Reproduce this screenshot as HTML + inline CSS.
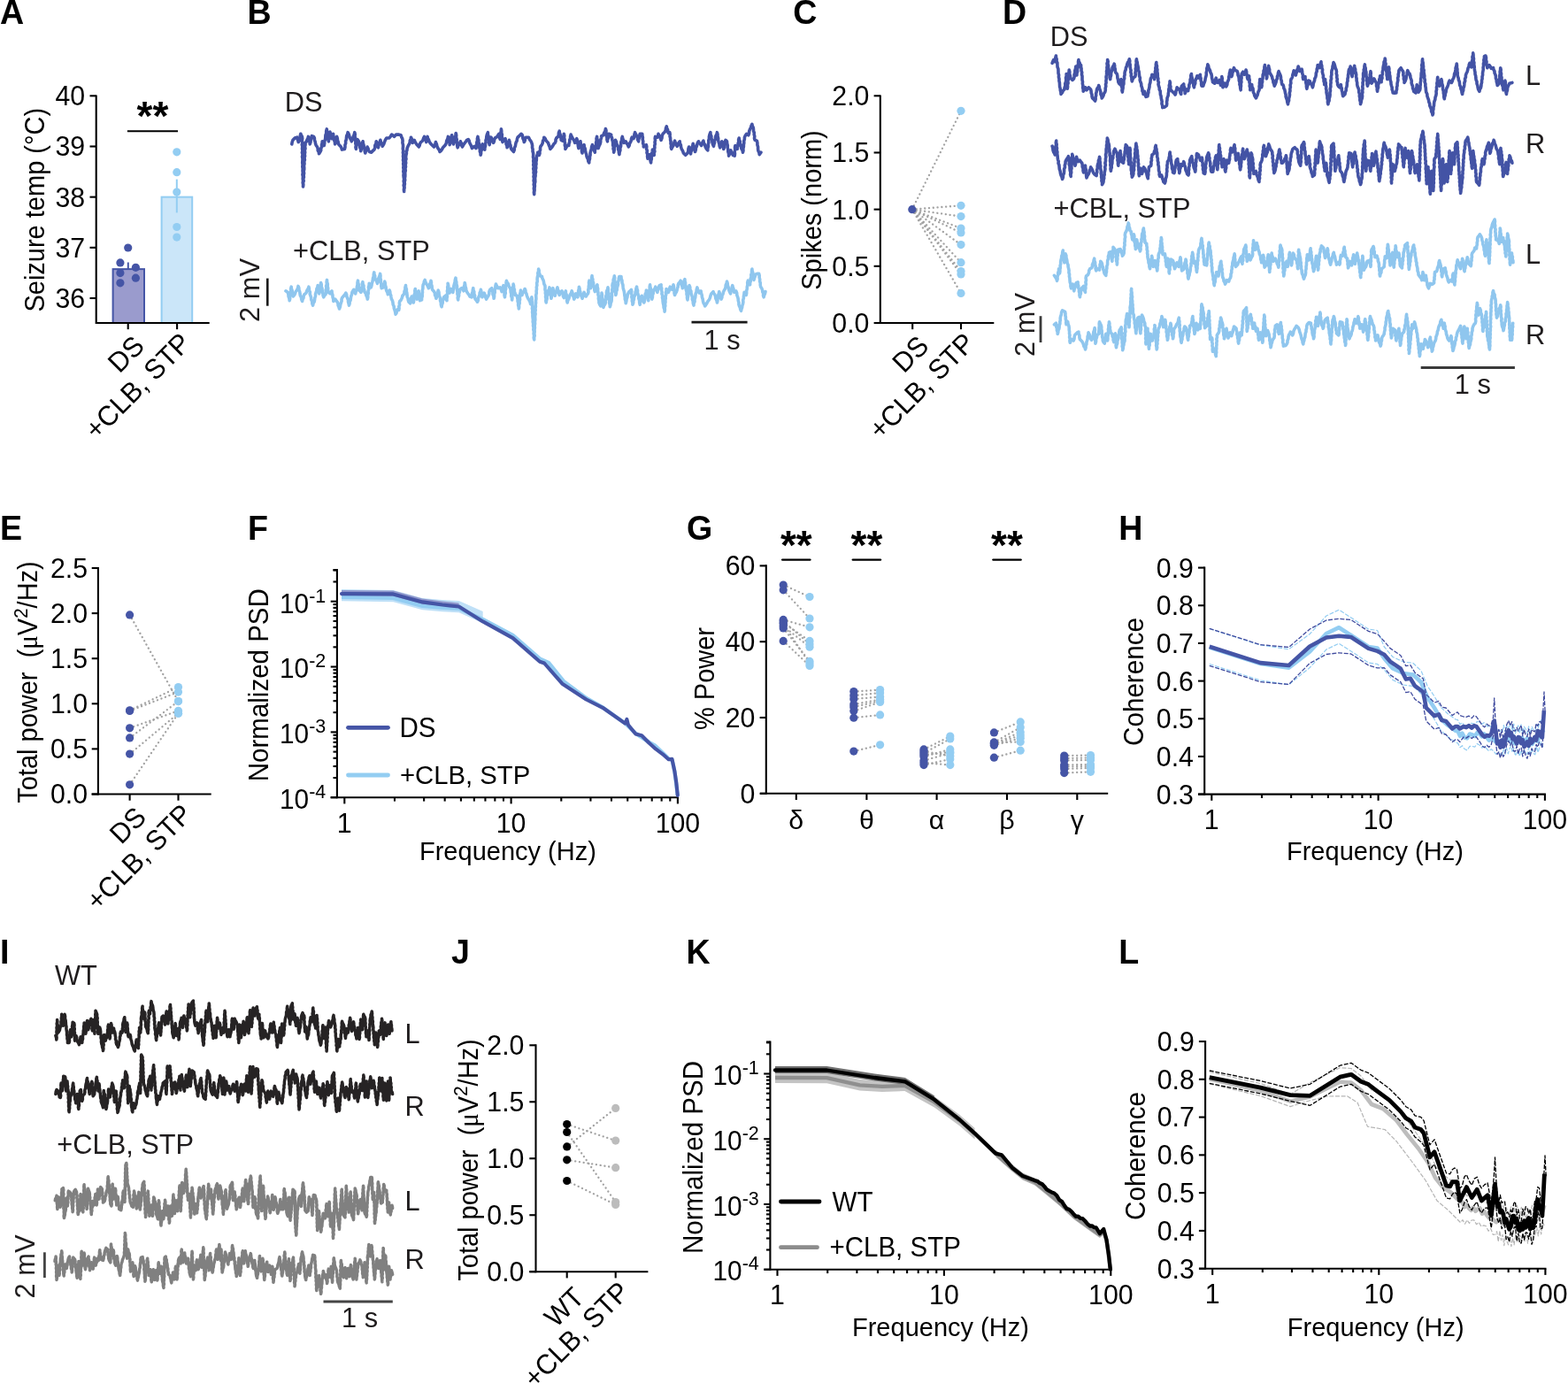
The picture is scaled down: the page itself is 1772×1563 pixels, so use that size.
<!DOCTYPE html>
<html lang="en">
<head>
<meta charset="utf-8">
<title>Figure</title>
<style>
html,body{margin:0;padding:0;background:#fff;}
body{width:1772px;height:1563px;overflow:hidden;}
svg{display:block;}
svg text{font-family:"Liberation Sans", Arial, Helvetica, sans-serif;}
</style>
</head>
<body>
<svg xmlns="http://www.w3.org/2000/svg" width="1772" height="1563" viewBox="0 0 1772 1563">
<rect x="0" y="0" width="1772" height="1563" fill="#ffffff"/>
<g>
<text font-size="37.6" text-anchor="start" font-weight="bold" transform="translate(0 26.8) scale(1 1.04)" fill="#000">A</text>
<rect x="127.6" y="304.13" width="35.4" height="60.87" fill="#9a9bcd" stroke="#4555a6" stroke-width="2"/>
<rect x="182.6" y="222.66" width="34.6" height="142.34" fill="#cbe6f9" stroke="#93cdf2" stroke-width="2"/>
<line x1="144.8" y1="296.5" x2="144.8" y2="305" stroke="#4555a6" stroke-width="2" stroke-linecap="butt"/>
<line x1="199.8" y1="202.6" x2="199.8" y2="240.4" stroke="#93cdf2" stroke-width="2" stroke-linecap="butt"/>
<circle cx="144.7" cy="280" r="4.6" fill="#4555a6"/>
<circle cx="135.9" cy="296.9" r="4.6" fill="#4555a6"/>
<circle cx="153.4" cy="302.3" r="4.6" fill="#4555a6"/>
<circle cx="135.9" cy="308.6" r="4.6" fill="#4555a6"/>
<circle cx="153.4" cy="314.2" r="4.6" fill="#4555a6"/>
<circle cx="135.9" cy="319.8" r="4.6" fill="#4555a6"/>
<circle cx="199.8" cy="171.8" r="4.6" fill="#93cdf2"/>
<circle cx="199.8" cy="194.7" r="4.6" fill="#93cdf2"/>
<circle cx="199.8" cy="217" r="4.6" fill="#93cdf2"/>
<circle cx="199.8" cy="256.5" r="4.6" fill="#93cdf2"/>
<circle cx="199.8" cy="268.1" r="4.6" fill="#93cdf2"/>
<line x1="108.7" y1="107.55" x2="108.7" y2="366.05" stroke="#000" stroke-width="2.1" stroke-linecap="butt"/>
<line x1="101.5" y1="108.32" x2="108.7" y2="108.32" stroke="#000" stroke-width="2.1" stroke-linecap="butt"/>
<text font-size="30.3" text-anchor="end" transform="translate(96.1 119.22) scale(1 1.035)" fill="#000">40</text>
<line x1="101.5" y1="165.49" x2="108.7" y2="165.49" stroke="#000" stroke-width="2.1" stroke-linecap="butt"/>
<text font-size="30.3" text-anchor="end" transform="translate(96.1 176.39) scale(1 1.035)" fill="#000">39</text>
<line x1="101.5" y1="222.66" x2="108.7" y2="222.66" stroke="#000" stroke-width="2.1" stroke-linecap="butt"/>
<text font-size="30.3" text-anchor="end" transform="translate(96.1 233.56) scale(1 1.035)" fill="#000">38</text>
<line x1="101.5" y1="279.83" x2="108.7" y2="279.83" stroke="#000" stroke-width="2.1" stroke-linecap="butt"/>
<text font-size="30.3" text-anchor="end" transform="translate(96.1 290.73) scale(1 1.035)" fill="#000">37</text>
<line x1="101.5" y1="337" x2="108.7" y2="337" stroke="#000" stroke-width="2.1" stroke-linecap="butt"/>
<text font-size="30.3" text-anchor="end" transform="translate(96.1 347.9) scale(1 1.035)" fill="#000">36</text>
<line x1="108.2" y1="365" x2="236.7" y2="365" stroke="#000" stroke-width="2.1" stroke-linecap="butt"/>
<line x1="144.7" y1="365" x2="144.7" y2="372.2" stroke="#000" stroke-width="2.1" stroke-linecap="butt"/>
<line x1="200.1" y1="365" x2="200.1" y2="372.2" stroke="#000" stroke-width="2.1" stroke-linecap="butt"/>
<line x1="143.9" y1="148.3" x2="201" y2="148.3" stroke="#000" stroke-width="2.1" stroke-linecap="butt"/>
<text x="172.4" y="147.2" font-size="46" text-anchor="middle" font-weight="bold" fill="#000">**</text>
<text font-size="29" text-anchor="middle" transform="translate(50.4 237.2) rotate(-90) scale(1 1.09)" fill="#000">Seizure temp (°C)</text>
<text font-size="30.5" text-anchor="end" transform="translate(165 392.8) rotate(-45) scale(1 1.035)" fill="#000">DS</text>
<text font-size="30.5" text-anchor="end" transform="translate(217.5 389.6) rotate(-45) scale(1 1.035)" fill="#000">+CLB, STP</text>
</g>
<g>
<text font-size="37.6" text-anchor="start" font-weight="bold" transform="translate(279.5 26.8) scale(1 1.04)" fill="#000">B</text>
<polyline points="329.8,162.9 330.2,160.5 331,158.3 333.2,156 335.7,155.2 336,157.1 336.8,158.8 337.2,160.6 338.8,158.3 339.3,156 339.2,153.6 339.8,151.3 340.5,152.9 341.4,154.4 341.7,156.7 341.3,158.9 341.8,161.2 341.3,163.5 341.8,165.7 341.5,168 341.9,170.3 341.4,172.5 342.1,174.8 341.5,177.1 342,179.3 341.9,181.6 341.7,183.9 342.1,186.1 341.8,188.4 342.2,190.6 342,192.9 342.3,195.2 341.9,197.4 342.4,199.7 342.2,202 342.5,204.2 342.2,206.5 342.6,208.7 342.5,211 342.8,208.8 342.5,206.6 343.2,204.5 342.7,202.3 343.4,200.2 343.1,198 343.6,195.8 343.2,193.6 343.7,191.5 343.7,189.3 343.5,187.1 344,185 343.7,182.8 344.4,180.7 344,178.6 344.6,176.4 344.3,174.3 344.7,172.1 344.3,170 345,167.9 344.6,165.7 345.1,163.6 345,161.4 346.5,159.8 347,157.9 348,156.3 348.4,154.4 349.1,156.5 349.2,158.7 350,160.7 350.2,162.9 351,160.6 351.1,158.2 352,156 352.3,153.6 354.6,154.4 355.4,156.3 355.4,158.3 356.2,160.2 356.5,162.2 357.2,164.2 358.5,166 359.2,167.9 359.2,170 360.3,171.8 360.5,173.8 361.7,171.9 362.7,169.9 362.7,167.8 363.6,165.9 363.5,163.8 364.1,161.8 364.2,159.8 365.3,162.1 366.2,164.5 366.7,162.2 366.7,159.8 367.5,157.5 367.8,155.2 367.9,152.8 368.7,150.6 368.7,148.2 369.3,145.9 369.5,148.2 370.2,150.5 370.2,152.9 370.8,155.2 370.8,157.5 371.4,159.8 371.4,157.6 372.2,155.5 372,153.3 372.9,151.2 372.9,149 373.5,150.9 373.6,152.9 374.5,154.7 374.8,156.7 375.6,155 375.8,153 376.6,151.3 376.8,153.7 377.6,155.9 377.6,158.3 378.4,160.5 378.6,162.9 379.4,160.8 379.4,158.6 380.5,156.6 380.7,154.4 381.3,156.5 381.5,158.7 382.3,160.7 382.5,162.9 383.6,164.2 384.9,165.3 385.9,167.1 386.4,169.1 389.5,168.4 390,166.2 389.9,164 390.7,161.8 390.6,159.6 391.4,157.4 391.5,155.2 391.8,153.3 392.7,151.6 393.1,149.7 394.3,151.9 394.9,154.4 395.6,156.3 396.7,157.9 397.3,159.8 398.1,158.1 398.4,156.1 399.3,154.4 400.2,152.1 400.8,149.7 401.3,151.8 401,153.9 401.5,155.9 401.3,158 401.9,160.1 401.8,162.2 402.4,164.2 401.9,166.3 402.4,168.4 402.6,166.2 403.1,164.1 403,161.8 403.9,159.7 403.9,157.5 405,159 405.8,160.6 406,162.7 406.8,164.6 406.8,166.7 407.6,168.6 407.7,170.7 408.4,168.6 408.4,166.3 409.4,164.2 409.4,161.9 410.1,159.8 410.4,162 411.1,164.2 411.2,166.4 412.1,168.6 412.2,170.8 412.8,173 413.4,170.6 414.5,168.4 415.1,166 416,167.8 416.5,169.7 417.4,171.5 419.8,172.2 421.2,170.5 422.9,169.1 423.8,166.8 423.8,164.4 424.9,162.2 425.2,159.8 426.2,162 426.5,164.5 427.5,166.8 427.8,164.6 428.8,162.6 429.2,160.4 429.9,158.3 430.4,160.7 431.7,162.9 432.2,165.3 433.6,163.1 434.5,160.6 435.4,158.2 436.8,156 439.9,156 441.4,154.1 442.7,152.1 444.2,153 445.4,154.4 447.7,152.1 450.8,152.1 453.1,152.8 453.7,154.8 454.7,156.7 455.1,159 454.9,161.4 455.5,163.7 455.5,166 455.3,168.1 455.8,170.3 455.4,172.4 455.8,174.5 455.5,176.7 455.9,178.8 455.5,181 456.1,183.1 455.7,185.2 456.1,187.4 455.8,189.5 456.2,191.6 455.8,193.8 456.3,195.9 456,198.1 456.2,200.2 456.6,202.5 456.2,204.9 456.7,207.2 456.2,209.5 456.8,211.8 456.4,214.2 456.7,216.5 456.6,214.3 457.1,212.2 456.9,210 457.4,207.9 457.1,205.7 457.7,203.6 457.4,201.4 457.8,199.3 457.8,197.1 457.7,194.9 458.3,192.8 457.9,190.5 458.5,188.4 458.2,186.2 458.7,184 458.3,181.8 459,179.7 458.6,177.5 458.9,175.3 459.4,173.4 459.3,171.4 460,169.6 460.1,167.6 461.1,165.2 462.4,162.9 463.2,161.1 463.3,159 464.1,157.2 464.5,155.2 465.4,157.2 465.5,159.4 466.3,161.4 467.1,159.7 468.2,158.3 469.3,160.7 470.7,162.9 472.1,164.4 473.3,166 474.2,164.3 474.6,162.3 475.6,160.6 477,159.6 478,158.3 478.6,156.3 479.5,154.4 480.1,156.5 481.1,158.5 481.8,160.6 482.4,158.6 482.6,156.4 483.1,154.4 483.4,156.3 484.5,158 485,159.8 486.4,161.9 488.1,163.7 490.4,166 491,164.2 491.9,162.5 492.4,160.6 493.4,162.9 493.9,165.4 495,167.6 496.3,169.4 497.1,171.5 498.6,170.1 499.7,168.4 500.6,166.7 502,165.3 503.5,163.5 504.4,161.4 504.8,159 505.9,156.8 506.4,154.4 507,156.7 507,159.1 508.1,161.3 508.2,163.7 509,161.6 509,159.3 509.9,157.2 509.9,154.9 510.6,152.8 510.7,154.9 511.6,156.8 511.5,158.9 512.3,160.9 512.6,162.9 513.3,160.9 513.3,158.7 514.1,156.7 514.1,154.6 514.9,152.6 515.2,150.5 515.7,152.8 515.5,155.2 516.2,157.5 516,159.9 516.9,162.1 516.7,164.5 517.2,166.8 518,164.4 519.5,162.2 520.3,159.8 521.3,161.8 521.5,164 522.5,166 523.8,163.6 525.3,161.4 526.6,159.9 527.6,158.3 529.2,157.5 530.2,159.2 530.6,161.2 531.5,162.9 532.7,165.2 533.4,167.6 534.9,166.6 536.2,165.3 538,167.6 538.2,165.4 538.9,163.2 538.7,161 539.5,158.8 539.4,156.6 540,154.4 540.2,156.4 540.9,158.4 540.8,160.5 541.4,162.5 541.6,164.5 541.6,166.7 542.4,168.8 542.3,171 543.1,173.1 543.1,175.3 543.6,173.3 543.6,171.1 544.5,169.2 544.3,167 545,165 545.2,162.9 546.3,164.9 546.8,167.1 547.8,169.1 547.9,167 548.5,164.9 548.5,162.8 549.1,160.7 549,158.6 549.7,156.5 549.8,154.4 550.4,152 551.4,149.7 551.4,152.1 552.2,154.3 552.1,156.7 552.9,159 552.7,161.4 553.2,163.7 553.4,161.5 554.5,159.5 554.5,157.3 555.1,155.2 555.8,157.3 556.9,159.3 557.6,161.4 558.4,159.7 558.7,157.8 559.4,156 561.8,154.4 562.9,152.9 563.8,151.3 564.5,153.3 564.5,155.5 565.3,157.5 565.4,155.2 566,152.9 565.8,150.5 566.3,148.2 566.4,145.9 566.8,148 566.7,150.1 567.4,152.2 567.1,154.3 567.8,156.4 567.6,158.5 568,160.6 569.3,158.5 571.1,156.7 571.2,158.8 572.1,160.7 572,162.8 572.9,164.7 573.1,166.8 573.8,164.7 574.1,162.5 575,160.5 575.3,158.3 576,160.3 576,162.4 577,164.3 577.1,166.4 577.8,168.4 579.2,169.9 580.4,171.5 581.3,169.4 581.3,167.1 582.4,165.1 582.7,162.9 583.2,160.9 584.2,159.1 584.4,157.1 585.1,155.2 587.1,153.4 588.9,151.3 590,152.1 590.7,154.2 590.9,156.4 591.9,158.4 592.3,160.6 593.2,158.9 593.5,156.9 594.3,155.2 597.4,155.2 598.5,157.6 600.1,159.8 601.1,162.1 601.6,164.5 601.5,166.7 602.1,168.8 602,171 602.6,173.1 602.7,175.3 602.5,177.5 603.1,179.7 602.7,181.9 603.1,184.2 602.7,186.4 603.3,188.6 602.7,190.8 603.3,193 603,195.2 603.5,197.4 603,199.7 603.5,201.9 603.1,204.1 603.6,206.3 603.2,208.5 603.7,210.7 603.3,213 603.7,215.2 603.4,217.4 603.7,219.6 603.7,217.3 604.1,215 604,212.6 604.4,210.3 604.2,207.9 604.8,205.6 604.7,203.3 604.6,201 605.1,198.8 605,196.5 605.6,194.3 605.2,192 605.8,189.8 605.5,187.5 606,185.3 605.8,183 606.3,180.8 606.3,178.5 606.7,176.4 607.4,174.3 607.8,172.2 608.7,173.7 609.4,175.3 610,173.3 609.8,171.3 610.6,169.3 610.5,167.3 611,165.3 612.4,163.5 613.3,161.4 613.5,159.3 614.6,157.3 614.8,155.2 616.3,157 617.2,159.1 619.5,161.4 620.2,163.8 621.2,166 621.8,168.4 623.6,166.6 624.9,164.5 625.8,162.8 627.2,161.4 628,159.7 628,157.7 628.8,156 630.7,154.4 631.3,152.4 631.4,150.2 632.2,148.2 632.4,150.3 633.2,152.2 633.3,154.3 634,156.2 634.2,158.3 635.8,159.1 636.5,157.2 636.3,155.2 637.1,153.3 637.3,151.3 637.8,153.4 637.5,155.6 638.1,157.7 638,159.9 638.6,162 638.3,164.1 639,166.2 638.9,168.4 640,166.5 640.9,164.5 642.8,164.5 643,162.4 643.7,160.4 643.7,158.2 644.6,156.3 644.6,154.1 645.1,152.1 646.1,154.5 647.4,156.7 648.8,158.9 649.7,161.4 650.9,159.1 651.8,156.7 652.5,158.8 652.4,161.1 653.2,163.2 653.4,165.4 653.9,167.6 654.2,165.6 655.2,163.8 655.3,161.7 656,159.8 656.2,162 656.8,164.2 656.9,166.4 657.5,168.6 657.4,170.8 658,173 658.3,170.6 659.2,168.4 659.4,166 660.1,163.7 660.3,166.1 661.3,168.3 661.5,170.7 662.2,173 662.8,174.8 663,176.7 663.7,178.5 664.6,180.2 664.8,182.2 665.7,183.9 665.8,181.7 666.5,179.5 666.5,177.3 667.1,175.1 667,172.9 667.6,170.7 668.4,168.4 668.6,166 669.5,163.7 669.9,165.9 671,167.9 671.5,170.1 672.3,172.2 672.3,169.9 673,167.8 672.9,165.5 673.7,163.3 673.6,161.1 674.2,158.9 674,156.6 674.6,154.4 674.7,156.6 675.4,158.8 675.1,161 675.8,163.2 675.6,165.4 676.1,167.6 676.9,165.1 678.1,162.9 678.7,160.6 678.7,158.2 679.5,156 679.7,153.6 681.9,152.8 682.6,150.4 683.9,148.1 684.4,145.6 685,147.6 684.9,149.7 685.5,151.7 685.4,153.7 686,155.7 685.9,157.8 686.5,159.8 686.6,157.6 687.6,155.6 687.5,153.4 688.1,151.3 690.6,152.1 690.9,154.1 691.6,155.9 691.8,157.9 692.4,159.8 692.7,161.9 692.6,164 693.4,166 693,168.1 693.6,170.1 693.7,172.2 694.2,169.9 694.1,167.5 694.7,165.3 694.7,162.9 695.4,160.6 695.5,158.3 696.5,160.3 696.8,162.5 697.9,164.5 698.6,166.5 698.5,168.6 699.3,170.5 699.4,172.6 699.9,174.6 700.1,172.2 700.9,170 700.8,167.5 701.6,165.3 701.7,162.9 701.8,160.7 702.6,158.7 702.7,156.5 703.3,154.4 703.8,156.8 704.8,159 705.2,161.4 707.2,159.8 708.1,161.9 709.5,163.8 710.3,166 711.2,164.3 711.5,162.3 712.6,160.6 713.3,158.9 713.5,157 714.2,155.2 716,156.7 716.8,154.4 716.9,152 717.6,149.7 718.5,151.7 719.6,153.6 720.5,155.6 720.6,157.8 721.6,159.8 721.7,157.6 722.5,155.6 722.7,153.4 723.2,151.3 725.8,151.3 725.9,153.4 726.4,155.5 726.2,157.6 726.8,159.7 726.6,161.8 727.4,163.9 727.3,166 729,165 730.4,163.7 730.8,165.9 730.5,168.2 731.4,170.3 731,172.6 731.8,174.7 731.6,177 732,179.2 732.7,176.8 734,174.6 734.2,177 735.1,179.2 735,181.6 735.6,183.9 735.7,181.8 736.3,179.7 736.2,177.5 736.9,175.5 736.6,173.3 737.3,171.2 737.4,169.1 738.3,171.1 738.5,173.3 739.3,175.3 739.1,173.2 739.9,171.1 739.4,169 739.9,166.9 739.7,164.8 740.3,162.8 740,160.7 740.5,158.6 740.2,156.5 740.5,154.4 742.9,155.2 743.6,153.3 744,151.3 745.1,153.2 746,155.2 747.1,158.3 748,156 748.2,153.6 749.1,151.3 751.4,149 752.3,147 752.5,144.8 753.3,142.8 753.6,144.8 754.6,146.6 754.6,148.6 755.3,150.5 756.8,149.7 757.2,151.8 757,153.9 757.6,155.9 757.6,158 758.1,160.1 758,162.2 758.6,164.2 758.3,166.3 758.8,168.4 759.6,166.5 760.8,164.8 761.5,162.9 761.9,160.9 762.6,159.1 763.2,161.3 764.4,163.2 765.1,165.3 766.4,163.6 766.9,161.5 768.2,159.8 768.4,162 769.4,164.1 769.6,166.3 770.3,168.4 771.6,170.6 772.4,173 774.7,175.3 777,173 777.8,170.7 777.9,168.3 778.6,166 778.9,168 779.9,169.8 779.9,171.9 780.6,173.8 780.9,171.4 781.9,169.2 781.9,166.8 782.8,164.6 783.2,162.2 783.9,164.5 784.1,166.9 785.1,169.1 785.5,171.5 786.3,169.4 786.4,167.1 787.4,165.1 787.9,162.9 788.4,161.2 789.4,159.8 790.2,161.5 791.6,162.8 792.5,164.5 793.5,162.8 793.9,160.8 794.9,159.1 795.4,161.5 796.6,163.7 797.2,166 798.2,168.1 799.8,169.9 799.8,167.7 800.5,165.5 800.3,163.2 800.9,161.1 800.8,158.8 801.4,156.6 801.4,154.4 802,152 802.9,149.7 803,151.9 803.9,154 803.8,156.3 804.8,158.4 804.9,160.6 805.5,163 806.5,165.3 806.8,163.3 807.5,161.3 807.5,159.2 808.4,157.3 808.5,155.2 809,153.3 810,151.6 810.4,149.7 811,151.8 811,154.1 811.7,156.2 811.6,158.5 812.2,160.6 812.9,162.6 813.1,164.8 813.8,166.8 814.2,164.4 815.4,162.2 815.8,159.8 816.4,161.9 816.6,164.2 817.5,166.2 817.8,168.4 818.4,166.4 818.5,164.3 819.3,162.4 819.2,160.3 820,158.3 821.5,159.8 821.7,162.1 822.3,164.4 822.2,166.8 822.8,169.1 822.8,171.5 823.5,173.7 823.6,176.1 824.5,174.1 824.9,171.9 825.9,169.9 826.4,171.8 827.6,173.4 828.2,175.3 830.2,176.1 830.5,173.8 830.2,171.4 830.8,169.2 830.5,166.8 830.9,164.5 831.9,166.6 833.3,168.4 833.3,166.3 834.1,164.3 834.1,162.2 834.8,160.2 834.6,158 835.2,156 835.5,158 836.4,159.9 836.3,162.1 837.2,164 837.5,166 837.9,168.1 839.1,170 839.5,172.2 840,170.1 839.8,167.9 840.4,165.8 840.4,163.7 840.8,161.6 840.7,159.4 841.4,157.3 841.4,155.2 842.4,153.1 843.7,151.3 845.8,152.8 846.6,150.6 846.7,148.1 847.6,145.9 848.6,144.1 849,142.2 849.9,140.4 850.3,142.3 851.2,144 851.5,145.9 851.5,148 852.3,150 852.2,152.1 852.8,154.1 852.5,156.3 853.1,158.3 855.4,159.1 855.9,161.4 855.9,163.8 856.6,166 856.6,168.4 856.9,170.5 857.9,172.5 858.2,174.6 860,172.2" fill="none" stroke="#4353a5" stroke-width="3.6" stroke-linejoin="round" stroke-linecap="round"/>
<polyline points="323,328.8 325.3,330.4 325.9,332.7 326.1,335.1 326.9,337.3 327.2,339.7 327.7,337.5 327.5,335.2 328.4,333.1 328,330.8 328.8,328.7 328.6,326.4 329.2,324.2 329.4,326.4 330.2,328.5 330.3,330.7 331.1,332.8 331.2,335 332.5,333.6 333.4,331.9 334.1,329.8 335.4,328 336.5,325.8 337,323.4 337.8,325.5 337.9,327.7 338.7,329.7 339,331.9 339.4,334.1 340.5,336.1 340.7,338.4 341.6,340.5 342,338.5 343,336.7 343.1,334.6 343.9,332.7 345.3,331.8 346.3,330.4 346.9,328.2 348.2,326.3 348.9,324.2 349.4,326.2 349.4,328.3 350.4,330.1 350.2,332.3 350.9,334.2 351.6,336.3 351.7,338.6 352.7,340.7 352.8,343 353.6,345.1 354,342.9 355.2,341 355.6,338.9 355.8,336.8 356.5,334.7 356.5,332.5 357.1,330.4 357.8,328.5 357.9,326.4 358.9,324.6 359.1,322.6 359.8,324.9 359.7,327.3 360.5,329.5 360.7,331.9 361.1,329.9 361.2,327.7 361.9,325.7 361.8,323.6 362.4,321.6 362.6,319.5 363.3,321.6 363.2,323.8 364,325.8 364.1,328 364.4,330 365,331.9 365.1,333.9 365.7,335.8 366.6,334.1 368,332.7 368.4,330.4 368.1,328 369,325.7 368.6,323.4 369.4,321.1 369.1,318.7 369.5,316.4 369.6,318.8 370.3,321 370.1,323.4 370.7,325.7 370.6,328.1 371.1,330.4 373.1,331.9 373.8,330.2 375,328.8 375.2,331.2 375.9,333.4 376,335.8 376.7,338.1 376.8,340.5 378.9,338.1 379.9,339.8 381.2,341.2 382,343.1 382.1,345.2 383,347 383.5,349 384.4,346.7 384.7,344.3 385.5,342 386.1,340.2 386,338.3 386.6,336.6 388.6,334.2 389.9,332.8 390.8,331.1 391.7,333.1 391.9,335.3 392.8,337.3 393.5,339.2 393.5,341.2 394.1,343.1 394.4,345.1 395.1,343.2 395.1,341.1 396.1,339.3 396.4,337.3 396.7,335 397.6,332.7 397.9,330.4 398.8,328.8 399.8,327.3 400.5,329.7 401.7,331.9 402,330 403,328.4 403.2,326.5 403.4,324.2 404,321.9 404,319.5 404.5,317.2 404.6,319.4 405.3,321.5 405.1,323.7 405.9,325.8 406,328 407.9,330.4 408.6,328.1 408.6,325.7 409.4,323.4 409.2,321 409.9,318.7 410.1,320.9 411,323 410.8,325.3 411.7,327.4 411.9,329.6 413.5,331.9 413.9,334 414.9,336 415.3,338.1 415.8,335.9 415.6,333.6 416.3,331.5 416,329.2 416.8,327 416.4,324.7 417.1,322.5 417.2,320.3 418.3,322.5 419.2,324.9 419.9,322.9 420.2,320.7 420.8,318.7 421.3,316.6 421.5,314.4 422.3,312.3 422.3,310 422.8,307.9 422.9,309.9 423.7,311.7 423.6,313.7 424.3,315.6 425.6,317.9 426.5,320.3 427.1,318.3 427.3,316.1 428,314.1 429,311.8 429.6,309.4 430,311.7 429.8,314.1 430.4,316.4 430.3,318.7 430.9,321 430.8,323.4 431.2,325.7 433.2,324.9 433.6,322.6 434.4,320.3 434.7,318 435.3,320.1 435.4,322.3 436.1,324.3 436.3,326.5 436.8,328.6 437.9,330.5 438.3,332.7 439.4,330.4 440.2,328 440.8,329.9 440.9,331.9 441.7,333.8 442,335.8 442.4,337.9 443.5,339.9 444,342 444.2,344.2 445.2,346.2 445.3,348.4 446.1,350.5 446.7,352.8 447.1,355.2 448.1,353.5 448.4,351.6 449.2,349.8 450.7,350.5 451.1,348.5 450.8,346.5 451.6,344.5 451.3,342.5 451.8,340.5 453.3,338.9 454.3,336.6 454.9,334.2 456.9,331.9 457,329.5 457.9,327.3 457.9,324.9 458.5,322.6 458.6,324.8 459.4,326.9 459.3,329.2 459.9,331.3 460,333.5 460.2,335.5 461.1,337.3 461.3,339.3 461.9,341.2 463.7,342.8 463.8,340.8 464.7,338.9 464.7,336.9 465.3,335 465.8,337.4 466.9,339.6 467.3,342 467.7,339.8 467.6,337.5 468.4,335.4 468.1,333.1 469,331 468.8,328.7 469.3,326.5 469.5,328.8 470.3,331.1 470.2,333.5 471,335.7 471.2,338.1 471.8,335.8 471.9,333.4 472.8,331.2 473.1,328.8 473.6,331 473.6,333.2 474.1,335.3 474.2,337.5 474.6,339.7 476.6,338.9 476.6,336.7 477.3,334.7 477.1,332.5 477.5,330.4 477.3,328.2 477.9,326.1 477.9,323.9 478.2,321.8 479.1,320.1 479.4,318.1 480.2,316.4 480.9,318.9 482.1,321.1 483.4,323.3 484.4,325.7 485.3,323.7 485.6,321.4 486.6,319.4 487,317.2 487.5,319.2 487.3,321.3 488.1,323.2 488.2,325.3 488.6,327.3 490.6,329.6 491.5,331.4 491.5,333.5 492.5,335.3 492.9,337.3 493.7,335 493.9,332.6 494.8,330.4 495.2,328 496,330.3 496.1,332.7 496.8,335 497.6,337.3 497.5,339.7 498.3,342 498.4,344.4 499.1,346.7 499.4,344.5 500.2,342.4 500.3,340.1 501.2,338 501.5,335.8 503.5,334.2 504.1,336 504.2,337.9 505,339.7 504.9,337.5 505.4,335.4 505.2,333.2 505.8,331.1 505.4,328.9 505.9,326.8 505.7,324.6 506.3,322.5 506.1,320.3 506.7,322.4 506.8,324.6 507.5,326.7 507.5,329 508.1,331.1 508.8,328.7 510,326.5 510.7,328.6 511.9,330.4 512.1,328.1 512.8,325.8 512.8,323.4 513.4,321.1 514.1,318.8 514.3,316.4 515,314.1 515.1,316.4 515.8,318.7 515.8,321.1 516.5,323.3 516.5,325.7 516.5,327.9 517,330.1 516.9,332.3 517.6,334.5 517.2,336.7 517.7,338.9 517.8,336.5 518.6,334.3 518.6,331.9 519.5,329.7 519.6,327.3 521.6,325.7 523,327.1 524,328.8 524.4,326.5 524.3,324.1 525.1,321.8 525.2,319.5 525.7,321.6 525.9,323.8 526.6,325.8 526.8,328 527.7,330 528.9,331.9 530.1,333.3 530.9,335 533,335.8 533.6,333.8 533.4,331.7 534.2,329.8 534.3,327.7 534.8,325.7 534.9,327.8 535.8,329.8 535.7,332 536.6,333.9 536.5,336.1 537.1,338.1 538.4,339.5 539.5,341.2 540.4,339.2 540.4,337 541.3,335 542,333.1 542.1,331.1 543,329.3 543.4,327.3 543.9,329.4 544,331.6 544.7,333.6 544.9,335.8 546.2,333.5 547.2,331.1 548.1,333.4 548.7,335.8 549.6,338.1 550.7,336.1 551.9,334.2 552.8,332 552.9,329.5 553.8,327.3 555.8,325.7 556,328.1 557,330.3 557,332.7 557.9,334.9 558.1,337.3 558.6,335 558.5,332.6 559.2,330.4 559.1,328 559.9,325.7 559.9,323.4 560.4,321.1 561.5,323.5 562.8,325.7 565.1,324.9 566.3,327.2 567.1,329.6 567.9,327.3 568.2,324.9 569,322.6 569,324.8 569.7,327 569.6,329.2 570.1,331.4 570,333.6 570.5,335.8 570.6,333.5 571.3,331.2 570.9,328.8 571.7,326.5 571.4,324.1 572.1,321.9 572,319.5 572.4,317.2 573,319.1 574.3,320.7 574.9,322.6 575.6,324.3 576.7,325.7 577.1,327.9 577.2,330.1 577.8,332.3 577.7,334.5 578.5,336.7 578.6,338.9 578.9,336.7 578.7,334.4 579.4,332.2 579.1,330 579.8,327.8 579.4,325.5 580,323.3 580.1,321.1 580.6,323.1 580.6,325.3 581.4,327.3 581.3,329.4 582.1,331.4 582.2,333.5 584.5,334.2 584.6,336.3 585.1,338.4 585.1,340.6 585.7,342.6 585.6,344.8 586.2,346.9 586.3,349 586.6,346.9 586.5,344.8 587.2,342.7 587,340.6 587.6,338.5 587.3,336.4 588,334.3 587.7,332.2 588.3,330.1 588.4,328 589,329.8 589.3,331.7 590,333.5 590.8,331 592.2,328.9 593.1,326.5 593.9,328.3 594,330.4 595,332.2 595.4,334.2 596.4,336.7 597.8,338.9 599,341.1 599.6,343.6 600.1,341.7 600,339.7 600.7,337.8 600.9,335.8 601.2,337.9 600.9,340 601.5,342.1 601.2,344.3 601.8,346.4 601.4,348.5 601.9,350.6 601.6,352.8 602,354.9 601.9,357 602.1,359.1 602.4,361.3 602.2,363.6 602.7,365.9 602.5,368.1 603.1,370.4 602.8,372.6 603.4,374.9 603.1,377.1 603.6,379.4 603.2,381.7 603.7,383.9 603.6,381.6 604.2,379.4 603.8,377.1 604.2,374.9 604,372.6 604.4,370.4 604.1,368.1 604.6,365.9 604.4,363.6 604.8,361.4 604.7,359.1 604.6,357 605.1,354.9 604.7,352.7 605.2,350.6 604.9,348.5 605.4,346.4 605.2,344.3 605.6,342.2 605.4,340 605.9,337.9 605.8,335.8 605.7,333.5 606.3,331.3 606.1,329.1 606.5,326.8 606.3,324.6 606.9,322.4 606.6,320.1 607.3,317.9 607.1,315.6 607.3,313.3 608,311 607.8,308.6 608.6,306.4 608.6,304 609.2,305.9 609.1,307.9 609.9,309.7 610.2,311.7 612.5,312.5 612.9,314.7 614,316.6 614.5,318.7 614.8,320.8 615.9,322.8 616.1,324.9 615.9,327.1 616.5,329.2 616.3,331.3 616.9,333.4 616.5,335.6 617.1,337.7 616.8,339.9 617.2,342 617.5,339.7 618.2,337.4 618.1,335 618.9,332.7 619.2,330.4 619.6,328.5 620.6,326.8 621,324.9 621.5,326.9 621.4,329.1 622.2,331.1 622.1,333.2 622.7,335.2 622.9,337.3 623.5,335 623.4,332.6 624.3,330.4 624.3,328 624.9,325.7 625.2,327.9 626.2,329.9 626.4,332.1 627.2,334.2 627.8,331.8 628.9,329.6 629.2,327.2 630,324.9 630.3,327.1 631.4,329.1 631.6,331.4 632.2,333.5 633.5,331.1 635,328.8 635.3,330.8 636.4,332.6 636.4,334.7 637.3,336.6 637.7,334.6 638.6,332.8 638.6,330.7 639.4,328.8 639.4,331 640.2,333.2 640.1,335.4 640.8,337.6 640.6,339.8 641.2,342 641.7,339.6 642.9,337.4 643.5,335 644.3,332.9 645.6,331 646.2,328.8 647,331.1 647.3,333.5 648.2,335.7 648.7,338.1 649.7,336.1 649.8,333.9 650.8,331.9 651.7,333.9 652.9,335.8 652.9,333.4 653.7,331.2 653.6,328.8 654.3,326.5 654.4,324.2 655,326.1 655.1,328.1 655.8,329.9 656,331.9 656.5,333.8 657.4,335.5 658,337.3 658.9,335.1 659.2,332.6 660.1,330.4 661,332.8 662.2,335 663.2,333.3 664.5,331.9 665,329.8 664.7,327.7 665.3,325.6 665.3,323.5 665.7,321.4 665.5,319.3 666,317.2 666.3,319.3 667,321.4 667,323.6 667.6,325.7 667.6,323.3 668.2,321 668.2,318.7 668.9,316.4 668.6,314 669.1,311.7 669.1,313.8 669.9,315.7 669.8,317.8 670.6,319.7 670.7,321.8 671,323.8 671.7,325.7 671.8,327.7 672.3,329.6 672.7,327.6 673.9,325.8 674.2,323.7 675,321.8 675,324.1 675.7,326.3 675.5,328.5 676,330.8 675.9,333 676.6,335.2 676.3,337.5 676.9,339.7 676.9,342 677.7,344 678.8,345.9 678.7,343.8 679.4,341.7 679.1,339.5 679.7,337.5 679.4,335.3 680,333.2 680,331.1 680.5,333.4 680.4,335.8 681.1,338.1 680.9,340.4 681.5,342.7 681.4,345.1 681.9,347.4 682.5,345.5 683.7,343.9 684.4,342 684.4,339.7 685,337.4 684.7,335 685.5,332.7 685.4,330.4 685.8,328.5 686.7,326.8 687,324.9 687.4,327.1 687.3,329.3 687.8,331.4 687.7,333.6 688.3,335.8 688.1,338 688.9,340.1 688.6,342.4 689.2,344.5 689.3,346.7 689.9,344.8 690.1,342.8 690.9,340.9 691.2,338.9 691.2,336.6 691.6,334.3 691.4,331.9 692,329.6 691.8,327.3 692.3,325 692,322.6 692.4,320.3 693.1,318.2 693.2,316 694,313.9 694.3,311.7 694.7,313.9 694.4,316.1 695,318.2 694.7,320.4 695.1,322.6 695,324.8 695.6,326.9 695.3,329.2 695.8,331.3 695.8,333.5 696.4,331.5 696.5,329.4 697.3,327.5 697.3,325.4 697.9,323.4 698.5,321.3 698.4,319 699.2,316.9 699.3,314.6 699.9,312.5 702,312.5 702.1,314.9 703,317.2 703,319.6 703.9,321.8 704.1,324.2 704.4,326.5 705.2,328.8 705.6,331.1 705.8,333.5 706.3,335.8 706.3,338.2 707.1,340.4 707.2,342.8 707.8,340.5 708.1,338.1 708.9,335.9 709.2,333.5 710,331.5 711,329.6 712.3,328.6 713.4,327.3 713.8,329.4 713.6,331.6 714.1,333.7 713.8,335.8 714.5,337.9 714.3,340.1 715,342.2 714.9,344.3 715.7,342.4 715.7,340.2 716.4,338.3 716.5,336.1 717.3,334.2 718,332.3 718.1,330.2 718.8,328.2 718.9,326.2 719.6,324.2 719.8,326.3 720.6,328.4 720.4,330.6 721.1,332.7 721.8,335 721.8,337.4 722.6,339.6 722.7,342 723.2,344.3 723.4,342.2 724.3,340.3 724.2,338.2 725,336.2 725.3,334.2 726.1,336.1 726.3,338.2 727.3,340 727.8,342 728.5,339.7 728.4,337.3 729.3,335 729.2,332.6 730.2,330.4 730.4,328 731,330.3 731.2,332.7 732.1,335 732.1,337.4 732.8,339.7 732.7,337.4 733.5,335.2 733.4,333 733.9,330.8 733.7,328.5 734.3,326.3 734.2,324 734.6,321.8 734.8,324.1 735.4,326.4 735.4,328.8 736.1,331.1 735.9,333.5 736.7,335.7 736.7,338.1 737.4,336 737.4,333.7 738.2,331.7 738.4,329.4 739,327.3 740.2,325.9 740.8,324.2 741.8,326.2 742.1,328.4 742.9,330.4 743.2,328.4 744.2,326.5 744.5,324.5 745.2,322.6 747.1,321.8 747,323.9 747.8,325.9 747.6,328.1 748.1,330.1 747.9,332.2 748.7,334.2 748.5,336.4 749,338.4 749.1,340.5 749.4,342.8 750,345.1 750.1,347.5 751,349.7 751.1,352.1 751.4,350 751.2,347.8 751.8,345.7 751.5,343.5 752,341.4 751.8,339.3 752.3,337.2 752.1,335 752.7,332.9 752.4,330.7 753.1,328.7 753,326.5 754.2,328.4 755.3,330.4 756.2,328.4 756.5,326.2 757.3,324.2 758.2,325.9 759.5,327.3 759.8,325.4 760.8,323.7 761,321.8 761.5,324.1 761.4,326.5 762.1,328.8 762,331.2 762.6,333.5 763.2,331.6 764.4,329.9 765.1,328 765.4,326 766.2,324.2 766.2,322.2 766.9,320.3 768.2,318.9 769.2,317.2 769.9,319.3 770,321.5 770.9,323.5 771.3,325.7 771.9,323.7 772.2,321.6 773,319.7 773.1,317.5 773.9,315.6 774,317.7 774.6,319.7 774.4,321.8 775.3,323.8 775,326 775.5,328 776.1,330.1 776,332.4 776.6,334.5 776.5,336.7 777,338.9 777.2,336.6 777.7,334.3 777.7,331.9 778.3,329.6 778.3,327.2 778.8,324.9 779,322.6 779.8,324.7 779.8,327 780.9,329.1 781,331.4 781.7,333.5 782.4,335.8 782.3,338.2 783.2,340.4 783.3,342.8 784,345.1 784.1,342.9 785.1,340.8 784.9,338.5 785.7,336.4 785.9,334.2 786.2,331.8 787.1,329.6 787.2,327.2 787.9,324.9 788.5,327 789.6,329 790.2,331.1 792.1,328.8 792.4,331.2 793.2,333.5 793.4,335.8 794.2,338.1 794.5,340.5 795,342.4 796.1,344.1 796.7,345.9 798,344 799.2,342 800.1,340.3 801.4,338.9 802.4,336.6 803,334.2 803.9,331.9 806,329.6 806.7,331.5 807.9,333.1 808.5,335 808.9,337.4 810,339.6 810.4,342 810.9,340 811,337.8 811.7,335.8 811.7,333.7 812.4,331.7 812.7,329.6 813.4,331.7 813.7,333.9 814.6,335.9 815,338.1 815.9,336.3 815.9,334.2 817,332.4 817.4,330.4 818.2,328.4 819.4,326.5 820.1,324.4 820.2,322.2 821.1,320.2 821.5,318 822.2,320.3 822.4,322.7 823.2,324.9 823.6,327.3 824.5,329.7 825.6,331.9 826,329.5 826.9,327.3 827.1,324.9 827.8,322.6 828.2,324.6 829,326.5 829.1,328.5 829.8,330.4 831.8,328.8 832.7,331.1 832.8,333.5 833.7,335.8 834.2,337.8 834.3,339.9 835,341.8 834.9,343.9 835.5,345.9 836.4,347.6 836.7,349.5 837.5,351.3 837.9,349.3 838.6,347.5 838.8,345.5 839.5,343.6 839.9,341.4 839.7,339.2 840.4,337 840.4,334.8 840.9,332.6 841.1,330.4 842.4,331.8 843.3,333.5 843.7,331.2 843.6,328.8 844.3,326.5 844.3,324.2 844.9,321.9 844.7,319.5 845.3,317.2 846.3,319.6 847.6,321.8 847.6,319.5 848.4,317.4 848.1,315.1 849,312.9 848.8,310.6 849.6,308.5 849.5,306.2 849.9,304 850.1,306.1 850.8,308.1 850.8,310.2 851.5,312.2 851.5,314.4 852,316.4 852.5,314.3 853.3,312.3 853.8,310.2 855.7,309.4 857.7,309.4 858.2,311.5 858.1,313.6 858.7,315.7 858.6,317.9 859.3,319.9 859.2,322.1 859.7,324.2 860.9,326 861.6,328 861.8,330 862.7,331.8 862.5,333.9 863.1,335.8 863.6,333.7 864.5,331.7 865,329.6" fill="none" stroke="#8fc6ee" stroke-width="3.6" stroke-linejoin="round" stroke-linecap="round"/>
<text font-size="30.8" text-anchor="start" transform="translate(321.7 125.7) scale(1 1.035)" fill="#1f1c1d">DS</text>
<text font-size="30.8" text-anchor="start" transform="translate(331 294) scale(1 1.035)" fill="#1f1c1d">+CLB, STP</text>
<text font-size="30.8" text-anchor="middle" transform="translate(293 328) rotate(-90) scale(1 1.035)" fill="#1f1c1d">2 mV</text>
<line x1="302.3" y1="314.6" x2="302.3" y2="345.7" stroke="#1a1a1a" stroke-width="2.6" stroke-linecap="butt"/>
<line x1="781.5" y1="364.1" x2="844.6" y2="364.1" stroke="#1a1a1a" stroke-width="2.6" stroke-linecap="butt"/>
<text font-size="30.8" text-anchor="middle" transform="translate(816 394.5) scale(1 1.035)" fill="#1f1c1d">1 s</text>
</g>
<g>
<text font-size="37.6" text-anchor="start" font-weight="bold" transform="translate(896.2 26.8) scale(1 1.04)" fill="#000">C</text>
<line x1="1030.8" y1="236.65" x2="1086" y2="125.3" stroke="#a3a3a3" stroke-width="2.3" stroke-linecap="round" stroke-dasharray="0.1 4.7"/>
<line x1="1030.8" y1="236.65" x2="1086" y2="232.3" stroke="#a3a3a3" stroke-width="2.3" stroke-linecap="round" stroke-dasharray="0.1 4.7"/>
<line x1="1030.8" y1="236.65" x2="1086" y2="244.6" stroke="#a3a3a3" stroke-width="2.3" stroke-linecap="round" stroke-dasharray="0.1 4.7"/>
<line x1="1030.8" y1="236.65" x2="1086" y2="258" stroke="#a3a3a3" stroke-width="2.3" stroke-linecap="round" stroke-dasharray="0.1 4.7"/>
<line x1="1030.8" y1="236.65" x2="1086" y2="263" stroke="#a3a3a3" stroke-width="2.3" stroke-linecap="round" stroke-dasharray="0.1 4.7"/>
<line x1="1030.8" y1="236.65" x2="1086" y2="276.6" stroke="#a3a3a3" stroke-width="2.3" stroke-linecap="round" stroke-dasharray="0.1 4.7"/>
<line x1="1030.8" y1="236.65" x2="1086" y2="296.7" stroke="#a3a3a3" stroke-width="2.3" stroke-linecap="round" stroke-dasharray="0.1 4.7"/>
<line x1="1030.8" y1="236.65" x2="1086" y2="306.6" stroke="#a3a3a3" stroke-width="2.3" stroke-linecap="round" stroke-dasharray="0.1 4.7"/>
<line x1="1030.8" y1="236.65" x2="1086" y2="310" stroke="#a3a3a3" stroke-width="2.3" stroke-linecap="round" stroke-dasharray="0.1 4.7"/>
<line x1="1030.8" y1="236.65" x2="1086" y2="331.4" stroke="#a3a3a3" stroke-width="2.3" stroke-linecap="round" stroke-dasharray="0.1 4.7"/>
<circle cx="1086" cy="125.3" r="4.6" fill="#93cdf2"/>
<circle cx="1086" cy="232.3" r="4.6" fill="#93cdf2"/>
<circle cx="1086" cy="244.6" r="4.6" fill="#93cdf2"/>
<circle cx="1086" cy="258" r="4.6" fill="#93cdf2"/>
<circle cx="1086" cy="263" r="4.6" fill="#93cdf2"/>
<circle cx="1086" cy="276.6" r="4.6" fill="#93cdf2"/>
<circle cx="1086" cy="296.7" r="4.6" fill="#93cdf2"/>
<circle cx="1086" cy="306.6" r="4.6" fill="#93cdf2"/>
<circle cx="1086" cy="310" r="4.6" fill="#93cdf2"/>
<circle cx="1086" cy="331.4" r="4.6" fill="#93cdf2"/>
<circle cx="1030.8" cy="236.65" r="4.6" fill="#4555a6"/>
<line x1="994.8" y1="107.45" x2="994.8" y2="366.05" stroke="#000" stroke-width="2.1" stroke-linecap="butt"/>
<line x1="987.6" y1="108.3" x2="994.8" y2="108.3" stroke="#000" stroke-width="2.1" stroke-linecap="butt"/>
<text font-size="30.3" text-anchor="end" transform="translate(982.4 119.2) scale(1 1.035)" fill="#000">2.0</text>
<line x1="987.6" y1="172.48" x2="994.8" y2="172.48" stroke="#000" stroke-width="2.1" stroke-linecap="butt"/>
<text font-size="30.3" text-anchor="end" transform="translate(982.4 183.38) scale(1 1.035)" fill="#000">1.5</text>
<line x1="987.6" y1="236.65" x2="994.8" y2="236.65" stroke="#000" stroke-width="2.1" stroke-linecap="butt"/>
<text font-size="30.3" text-anchor="end" transform="translate(982.4 247.55) scale(1 1.035)" fill="#000">1.0</text>
<line x1="987.6" y1="300.82" x2="994.8" y2="300.82" stroke="#000" stroke-width="2.1" stroke-linecap="butt"/>
<text font-size="30.3" text-anchor="end" transform="translate(982.4 311.72) scale(1 1.035)" fill="#000">0.5</text>
<line x1="987.6" y1="365" x2="994.8" y2="365" stroke="#000" stroke-width="2.1" stroke-linecap="butt"/>
<text font-size="30.3" text-anchor="end" transform="translate(982.4 375.9) scale(1 1.035)" fill="#000">0.0</text>
<line x1="988.3" y1="365" x2="1123.3" y2="365" stroke="#000" stroke-width="2.1" stroke-linecap="butt"/>
<line x1="1031.2" y1="365" x2="1031.2" y2="372.2" stroke="#000" stroke-width="2.1" stroke-linecap="butt"/>
<line x1="1086" y1="365" x2="1086" y2="372.2" stroke="#000" stroke-width="2.1" stroke-linecap="butt"/>
<text font-size="29" text-anchor="middle" transform="translate(928.2 237.5) rotate(-90) scale(1 1.09)" fill="#000">Spikes (norm)</text>
<text font-size="30.5" text-anchor="end" transform="translate(1051.5 392.8) rotate(-45) scale(1 1.035)" fill="#000">DS</text>
<text font-size="30.5" text-anchor="end" transform="translate(1103.4 389.6) rotate(-45) scale(1 1.035)" fill="#000">+CLB, STP</text>
</g>
<g>
<text font-size="37.6" text-anchor="start" font-weight="bold" transform="translate(1133 26.8) scale(1 1.04)" fill="#000">D</text>
<polyline points="1189.1,71.3 1189.8,69.4 1190.7,67.5 1192.2,69.8 1192.9,67.6 1192.8,65.2 1193.4,63 1193.5,65 1194.2,66.9 1194,69 1194.9,70.9 1194.9,72.9 1195,75.5 1195.9,77.9 1196,80.5 1196,82.7 1196.6,84.8 1196.4,87 1197,89.2 1196.9,91.4 1197.4,93.5 1197.5,95.7 1197.6,97.9 1198.2,100 1198.3,102.1 1198.9,104.2 1199,106.4 1200.4,104.7 1201.3,102.6 1202.9,101 1203.1,98.9 1203.9,96.9 1203.7,94.7 1204.4,92.7 1204.8,90.4 1204.5,88.1 1205.2,85.8 1205.1,83.5 1205.5,85.6 1205.2,87.7 1205.6,89.8 1205.5,91.9 1206.1,94 1205.8,96.1 1206.2,98.2 1206.2,100.3 1206.6,98.2 1206.4,96 1207.1,93.9 1206.7,91.8 1207.5,89.7 1207.3,87.5 1207.7,85.4 1207.6,83.2 1208.1,81.1 1208.2,79 1208.8,81.2 1208.7,83.6 1209.5,85.8 1209.7,88.1 1212,90.4 1213.5,88.9 1214.2,86.6 1214,84.3 1214.9,82 1214.8,79.7 1215.5,77.4 1215.8,75.1 1216.3,77 1216.1,79.1 1216.6,81 1216.4,83.1 1216.9,85 1217,82.8 1217.7,80.7 1217.5,78.4 1218.2,76.3 1218,74 1218.6,71.9 1218.5,69.7 1218.9,67.5 1219.1,69.4 1220.1,71 1220.4,72.9 1221.6,73.6 1221.6,75.7 1222.1,77.7 1222,79.8 1222.7,81.9 1222.4,84 1223,86 1223,88.1 1223,90.3 1223.5,92.4 1223.3,94.6 1223.9,96.8 1223.6,99 1224.2,101.1 1224.2,103.3 1225.6,101.2 1226.5,98.8 1227.5,100.2 1228,101.8 1229.3,100.4 1230.3,98.8 1232.6,101 1233.1,103 1233.2,105 1234,106.9 1234,108.9 1234.5,110.9 1236.2,112.3 1237.6,114 1238.2,112 1238,109.9 1238.7,107.9 1238.6,105.8 1239.2,103.9 1239.4,101.8 1240,99.9 1241.2,98.4 1241.7,96.5 1242.3,98.2 1242.5,100.1 1243.2,101.8 1243.9,104 1243.9,106.4 1244.9,108.6 1245.2,110.9 1246.2,109.5 1247,107.9 1247.5,105.8 1248.8,103.9 1249.3,101.8 1249.2,99.7 1249.8,97.6 1249.5,95.5 1250.1,93.4 1249.9,91.3 1250.3,89.2 1250,87.1 1250.4,85 1250.7,82.8 1250.5,80.6 1251.1,78.5 1250.9,76.2 1251.4,74.1 1251,71.9 1251.7,69.7 1251.6,67.5 1252.2,69.6 1251.9,71.9 1252.6,74 1252.5,76.2 1253.1,78.3 1253.1,80.5 1253.4,82.8 1254.1,85 1254,87.4 1254.7,89.6 1254.9,87.3 1255.6,85.1 1255.6,82.7 1256.2,80.5 1257,78.8 1257,76.8 1257.7,75.1 1258.7,73.7 1259.2,72.1 1259.7,74.1 1259.6,76.1 1260.3,78 1260.3,80 1260.8,82 1262.3,83.5 1262.8,85.8 1262.9,88.1 1263.6,90.4 1263.8,92.7 1264.7,94.4 1266.1,95.7 1266.3,93.7 1266.9,91.7 1266.9,89.6 1267.4,91.6 1267.2,93.8 1267.7,95.8 1267.5,97.9 1268.3,99.9 1267.9,102.1 1268.4,104.1 1268.6,101.8 1269.1,99.6 1269.1,97.2 1269.9,95 1269.9,92.7 1269.9,90.6 1270.7,88.7 1270.5,86.6 1271.1,84.6 1271,82.5 1271.4,80.5 1272.2,78.7 1272.4,76.6 1273.3,74.9 1273.7,72.9 1274.4,70.8 1275.6,68.9 1276.3,66.8 1276.8,68.9 1276.5,71.1 1277.2,73.1 1277.1,75.3 1277.5,77.4 1278.1,79.4 1277.8,81.6 1278.5,83.6 1278.2,85.7 1278.9,87.7 1278.9,89.8 1279.3,91.9 1280.1,89.5 1281.3,87.3 1282.8,86.6 1283.3,84.4 1283,82.2 1283.5,80 1283.3,77.8 1283.9,75.6 1283.7,73.4 1284.3,71.2 1284,69 1284.4,66.8 1284.6,68.7 1285.3,70.6 1285.4,72.5 1285.9,74.4 1286.4,76.7 1286.4,79 1287.2,81.2 1287.4,83.5 1287.6,85.8 1288.4,88.1 1288.2,90.4 1288.9,92.7 1289.7,94.7 1289.8,96.8 1290.5,98.8 1291,100.7 1290.9,102.7 1291.8,104.5 1292,106.4 1293,105 1293.5,103.3 1294.3,105.3 1294.2,107.4 1295,109.4 1297,108.7 1297.2,106.6 1297.9,104.5 1297.8,102.3 1298.5,100.3 1299,98 1299.1,95.7 1299.9,93.4 1300.1,91.1 1300.4,88.8 1301.6,86.6 1301.9,84.3 1303.4,85 1304.2,87.3 1304.6,89.6 1305.1,87.5 1304.9,85.4 1305.5,83.3 1305.4,81.1 1306,79.1 1305.8,76.9 1306.4,74.8 1306.3,72.7 1306.8,70.6 1306.8,72.7 1307.5,74.7 1307.3,76.8 1307.9,78.8 1307.7,80.9 1308.2,82.9 1308.3,85 1308.3,87.1 1308.9,89.1 1308.6,91.1 1309.4,93.1 1309,95.2 1309.5,97.2 1310.2,99.1 1310.2,101.1 1311.2,102.9 1311.3,104.9 1311.4,106.8 1312.1,108.7 1312.2,110.6 1312.6,112.5 1313.2,114.7 1312.9,117.1 1313.7,119.3 1313.8,121.6 1316.4,120.9 1318.4,119.3 1318.7,117.2 1318.5,115.1 1319,113 1319,110.9 1320.2,107.9 1320.3,105.6 1320.8,103.3 1320.7,101 1321.5,98.8 1321.3,96.5 1322,94.2 1322,91.9 1322.5,93.8 1322.2,95.9 1322.9,97.8 1322.7,99.9 1323.2,101.8 1325.5,104.1 1327,105.4 1328.1,107.1 1328.8,105.1 1328.9,102.9 1329.8,100.9 1330.1,98.8 1332.4,101 1333.4,102.7 1333.8,104.7 1334.7,106.4 1334.7,104.1 1335.3,101.8 1334.9,99.5 1335.4,97.2 1337.7,94.9 1337.7,97.1 1338.6,99.1 1338.4,101.3 1339.1,103.4 1339.2,105.6 1340.1,103.3 1340.8,101 1342.7,102.6 1342.9,100.4 1343.8,98.4 1343.8,96.2 1344.6,94.2 1345.1,92.1 1345.1,89.9 1345.9,87.8 1345.7,85.6 1346.4,83.5 1346.6,86.1 1347.3,88.5 1347.6,91.1 1347.9,93.1 1348.7,94.9 1348.8,96.9 1349.4,98.8 1349.7,96.5 1350.7,94.3 1350.7,91.8 1351.4,89.6 1352.3,87.8 1352.9,85.8 1354.5,88.1 1355.2,86.1 1356.4,84.3 1356.4,86.5 1357.1,88.6 1357,90.8 1357.7,92.9 1357.6,95.1 1358,97.2 1359.8,97.2 1360.3,94.9 1361.3,92.7 1361.9,90.7 1362.2,88.6 1362.8,86.6 1363.3,84.3 1363.2,82 1363.9,79.8 1363.8,77.4 1364.6,75.2 1364.8,72.9 1365.7,74.6 1365.9,76.5 1366.7,78.2 1367.6,79.9 1367.9,81.8 1368.9,83.5 1369.4,85.8 1369.5,88.1 1370.2,90.4 1370.5,92.7 1372.7,94.2 1373.5,92.2 1373.6,90.1 1374.3,88.1 1374.6,89.9 1375.4,91.6 1375.8,93.4 1377.2,92.1 1378.1,90.4 1378.7,92.4 1378.9,94.5 1379.6,96.5 1379.6,94.5 1380.3,92.6 1380.1,90.5 1380.9,88.6 1380.8,86.6 1381.3,88.6 1381,90.7 1381.6,92.7 1381.3,94.8 1381.9,96.8 1381.9,98.8 1383.2,96.6 1384.2,94.2 1385.2,96 1385.7,98 1386.8,95.8 1387,93.3 1388,91.1 1388.7,89.1 1388.6,87 1389.3,85.1 1389.4,83 1390,81 1390.3,79 1390.8,80.9 1390.8,82.9 1391.7,84.6 1391.8,86.6 1392.5,84.7 1392.7,82.6 1393.5,80.7 1393.8,78.6 1394.5,76.7 1395.2,78.3 1396.4,79.7 1398.2,80.5 1398.9,82.6 1399,84.8 1399.9,86.8 1400.2,88.9 1400.3,91.1 1401.1,93.2 1400.9,95.4 1401.6,97.5 1401.7,99.7 1402.2,101.8 1402.1,99.5 1402.5,97.2 1402.3,94.9 1402.9,92.7 1402.6,90.3 1403.1,88.1 1402.9,85.8 1403.2,83.5 1404.7,81.2 1405.4,82.8 1406.3,84.3 1406.7,82.5 1407.6,80.8 1408.1,79 1408.7,81.1 1408.7,83.3 1409.6,85.3 1409.5,87.5 1410.1,89.6 1410.7,87.6 1411.6,85.8 1411.6,88.1 1412.2,90.4 1411.9,92.7 1412.5,94.9 1412.2,97.2 1412.9,99.5 1412.8,101.8 1413.7,99.8 1413.8,97.7 1414.7,95.7 1414.9,98.1 1416,100.2 1416.2,102.6 1416.4,104.4 1417.4,106.1 1417.7,107.9 1418.5,109.5 1419.5,110.9 1420.1,109.1 1421.1,107.5 1421.5,105.6 1422,103.6 1423,101.8 1423.3,99.8 1423.1,97.7 1423.5,95.7 1423.4,93.7 1423.8,91.6 1423.8,89.6 1424.4,91.9 1424.4,94.3 1425.4,96.5 1425.6,98.8 1426.1,96.8 1425.9,94.7 1426.6,92.7 1426.5,90.7 1427,88.6 1427.1,86.6 1427.2,84.4 1428.1,82.3 1428,80.1 1428.9,78 1428.9,75.7 1429.4,73.6 1429.4,75.8 1430.2,77.9 1430.1,80.2 1430.8,82.3 1430.7,84.5 1431.4,86.7 1431.4,88.9 1431.9,86.9 1431.8,84.7 1432.5,82.7 1432.5,80.6 1433.3,78.6 1433.2,76.4 1433.7,74.4 1434,76.5 1434.7,78.6 1434.6,80.7 1435.2,82.8 1436.4,84.6 1437.5,86.6 1437.9,88.7 1438.8,90.8 1438.9,93 1439.8,95.1 1440.2,97.2 1441.3,95 1442.1,92.7 1442.4,90.6 1443.4,88.7 1443.4,86.5 1444.3,84.6 1444.4,82.5 1445.1,80.5 1445.9,82.8 1447,85 1447.5,87.1 1447.5,89.3 1448.3,91.4 1448.4,93.6 1448.9,95.7 1449.9,95.7 1450.6,97.6 1450.8,99.6 1451.8,101.3 1452.2,103.3 1452.5,105.2 1453.1,107.1 1453.1,109.1 1453.7,110.9 1454.5,113.1 1454.8,115.5 1455.5,117.8 1455.8,115.7 1456.6,113.7 1456.5,111.5 1457.1,109.4 1457.5,107.2 1457.3,105 1458,102.8 1457.8,100.6 1458.4,98.4 1458.1,96.2 1458.9,94 1458.6,91.8 1459,89.6 1460,88.2 1460.6,86.6 1460.9,84.3 1461.7,82 1462.1,79.7 1463,81.4 1463.5,83.3 1464.4,85 1464.8,83 1465.7,81.1 1465.8,79 1466.8,77.1 1467.1,75.1 1467.9,76.8 1468.1,78.8 1469,80.5 1471.2,78.2 1471.6,80.5 1471.7,82.8 1472.5,85 1472.3,87.3 1472.8,89.6 1473.7,88 1475,86.6 1475,88.9 1475.8,91.1 1475.8,93.5 1476.4,95.7 1476.4,98 1476.9,100.3 1477.3,98 1478.1,95.8 1478.3,93.4 1478.9,91.1 1480.4,91.9 1481.1,94.3 1482.6,96.4 1483.4,98.8 1484,96.8 1484.2,94.7 1484.9,92.7 1485.6,90.8 1485.8,88.8 1486.8,87 1487.2,85 1487.3,82.7 1488.2,80.5 1488.2,78.1 1489,75.9 1489.1,73.6 1490.2,75 1491,76.7 1491.8,74.4 1492.2,72 1493,69.8 1493,72.1 1493.8,74.3 1493.8,76.7 1494.6,78.9 1494.3,81.3 1494.9,83.5 1495.5,85.5 1495.3,87.6 1496.1,89.6 1496,91.7 1496.7,93.6 1496.7,95.7 1497.1,93.7 1497,91.6 1497.6,89.6 1497.6,91.7 1498.3,93.8 1498.2,95.9 1498.7,98 1498.5,100.1 1499.1,102.2 1499,104.3 1499.4,106.4 1499.9,108.7 1499.9,111 1500.6,113.2 1500.4,115.5 1500.9,117.8 1501.2,115.7 1502.1,113.7 1502.1,111.4 1502.8,109.4 1503.1,107.1 1502.9,104.8 1503.5,102.6 1503.2,100.2 1503.9,98 1503.7,95.7 1504.1,93.4 1503.9,91.1 1504.6,88.9 1504.3,86.6 1504.9,84.3 1504.8,82 1505,79.7 1505.9,77.5 1506,75.1 1506.7,72.9 1507,70.6 1508,72.4 1508.6,74.4 1509.1,76.8 1510.1,79 1510.5,81.1 1510.2,83.2 1510.9,85.2 1510.7,87.4 1511.3,89.4 1510.9,91.6 1511.6,93.6 1511.6,95.7 1512.5,97.4 1513.9,98.8 1514.5,97.2 1515.4,95.7 1515.5,97.9 1516.3,100 1516.3,102.2 1517,104.3 1517.2,106.6 1517.7,108.7 1520,106.4 1520.3,104.2 1521.2,102.2 1521.2,99.9 1522,97.9 1522.3,95.7 1522.3,93.5 1523,91.4 1522.9,89.2 1523.5,87 1523.5,84.8 1524,82.7 1524.1,80.5 1524.5,78.6 1525.7,77 1526.1,75.1 1526.7,77.4 1526.8,79.7 1527.5,82 1527.5,84.3 1528.1,86.6 1528.3,84.5 1529.1,82.6 1529.2,80.5 1530,78.5 1530.1,76.4 1530.7,74.4 1530.8,76.3 1531.7,78.2 1531.6,80.2 1532.2,82 1532.7,84.3 1532.5,86.6 1533.1,88.8 1533.1,91.1 1533.7,93.4 1533.7,95.7 1534.2,97.8 1535.1,99.7 1535.7,101.8 1535.7,104.1 1536.5,106.3 1536.3,108.7 1536.9,110.9 1536.8,113.2 1537.5,115.5 1537.5,117.8 1538.2,115.5 1538.5,113.1 1539.3,110.9 1539.6,108.8 1539.3,106.6 1539.9,104.4 1539.6,102.3 1540.1,100.1 1539.7,97.9 1540.2,95.8 1540,93.6 1540.6,91.5 1540.2,89.3 1540.7,87.2 1540.6,85 1540.6,82.9 1541.4,81 1541.2,78.9 1541.9,77 1541.9,74.9 1542.4,72.9 1542.5,75 1543.2,77.1 1543.2,79.3 1543.9,81.3 1543.9,83.5 1544,85.8 1544.7,88 1544.4,90.4 1545.1,92.6 1544.9,94.9 1545.4,97.2 1546.1,94.8 1547.4,92.7 1548,90.7 1547.8,88.6 1548.4,86.6 1548.2,84.5 1548.8,82.6 1548.9,80.5 1549.3,82.8 1549,85.1 1549.6,87.3 1549.4,89.7 1550,91.9 1550,94.2 1551.1,92.5 1551.7,90.6 1552.8,88.9 1553.8,90.9 1555,92.7 1555.6,94.8 1555.5,97 1556.3,99 1556.2,101.2 1556.6,103.3 1556.8,101 1557.6,98.8 1557.4,96.4 1558.1,94.2 1558.8,92.2 1558.7,90 1559.5,87.9 1559.6,85.8 1560.3,88.1 1560.5,90.4 1561.1,92.7 1561.1,90.4 1562,88.2 1561.7,85.8 1562.4,83.6 1562.3,81.2 1563,79 1563,76.7 1563.4,74.4 1564,72.3 1564,70.1 1565,68.2 1565.2,66 1565.6,68.1 1565.3,70.2 1566.1,72.2 1565.8,74.3 1566.5,76.3 1566.4,78.4 1566.8,80.5 1567.2,82.8 1567.1,85.1 1567.7,87.3 1567.7,89.6 1568.1,87.3 1568,85 1568.9,82.8 1568.7,80.4 1569.3,78.2 1569.5,75.9 1569.9,77.9 1569.7,80 1570.4,82 1570.3,84.1 1570.9,86.1 1571,88.1 1571.1,90.4 1571.9,92.6 1572,95 1572.6,97.2 1573.2,99.1 1573.1,101.1 1573.9,102.9 1574.1,104.9 1576,105.1 1577.9,104.9 1577.9,102.8 1578.6,100.9 1578.5,98.8 1579.1,96.8 1579,94.7 1579.4,92.7 1579.9,90.6 1579.6,88.3 1580.3,86.2 1580.2,84 1580.8,81.9 1580.9,79.7 1581.9,78.1 1583.2,76.7 1584.2,78.7 1585.5,80.5 1586,82.6 1585.8,84.8 1586.5,86.9 1586.3,89.1 1587.1,91.2 1587,93.4 1588.2,91.3 1589,88.9 1589.3,86.6 1590.2,84.4 1590.2,82 1590.8,79.7 1591.7,81.8 1593.1,83.5 1593.8,85.5 1593.9,87.6 1594.7,89.6 1595.3,91.6 1595.1,93.7 1595.7,95.7 1596.5,97.5 1596.5,99.6 1597.3,101.4 1597.7,103.3 1600,104.9 1600.4,102.6 1600.3,100.3 1601.1,98 1601.2,95.7 1601.8,97.8 1601.8,100 1602.7,102 1603,104.1 1604.6,101.8 1605,99.7 1604.9,97.6 1605.3,95.5 1605.2,93.4 1605.7,91.3 1605.6,89.2 1606.1,87.1 1606.1,85 1606.2,82.7 1606.8,80.5 1606.5,78.2 1607.1,75.9 1606.7,73.6 1607.4,71.4 1607.3,69.1 1607.6,66.8 1607.6,68.9 1608.2,71 1608.2,73.1 1608.6,75.1 1608.4,77.3 1609.2,79.3 1609,81.4 1609.4,83.5 1609.8,85.8 1609.6,88.1 1610.3,90.3 1610.1,92.7 1610.9,94.9 1610.8,97.2 1611.3,99.5 1611.4,101.8 1611.7,104.1 1612.8,106.3 1612.9,108.7 1613.7,110.9 1614.5,113 1614.8,115.2 1615.7,117.3 1615.8,119.5 1616.7,121.6 1617.5,123.6 1617.6,125.9 1618.6,127.8 1619,130 1619.6,127.9 1619.3,125.6 1619.9,123.5 1619.9,121.3 1620.5,119.2 1620.6,117 1620.9,114.7 1621.8,112.5 1622,110.1 1622.8,107.9 1623.2,105.6 1623,103.3 1623.6,101 1623.4,98.7 1624.1,96.5 1623.8,94.1 1624.4,91.9 1624.4,89.6 1624.7,87.3 1624.9,89.3 1625.6,91.2 1625.7,93.3 1626.6,95.2 1626.7,97.2 1627.5,95.4 1627.5,93.3 1628.6,91.6 1628.9,89.6 1629.4,91.9 1629.5,94.2 1630.3,96.5 1630.5,98.8 1630.6,101 1631.3,103.1 1631.3,105.3 1631.8,107.4 1631.7,109.6 1632.3,111.7 1632.5,109.7 1633.2,107.8 1633.4,105.7 1634.1,103.8 1634.3,101.8 1634.9,99.7 1635.9,97.8 1636.6,95.7 1637.2,93.3 1638.1,91.1 1640.4,93.4 1641.3,91.7 1641.7,89.8 1642.7,88.1 1643.4,85.9 1643.6,83.5 1644.6,81.3 1644.9,79 1645.1,76.7 1645.9,74.4 1646.2,72.1 1646.5,74.2 1646.4,76.3 1646.9,78.3 1646.8,80.4 1647.2,82.4 1647.1,84.5 1647.5,86.6 1648.2,88.4 1648.4,90.4 1649.3,92.2 1649.5,94.2 1649.7,96.3 1650.7,98.2 1650.9,100.4 1651.8,102.3 1652,104.4 1652.6,106.4 1652.9,104.2 1653.7,102.2 1653.7,99.9 1654.5,97.9 1654.8,95.7 1654.9,93.5 1655.7,91.5 1655.5,89.2 1656.4,87.2 1656.4,85 1657.1,83 1658.1,81.1 1658.7,79 1659,77 1660,75.2 1660.2,73.2 1660.9,71.3 1661.7,73.7 1662.8,75.9 1662.9,73.6 1663.5,71.4 1663.5,69 1664.2,66.8 1663.9,64.4 1664.7,62.2 1664.7,59.9 1665,62.1 1665,64.3 1665.5,66.4 1665.2,68.7 1665.9,70.8 1665.7,73 1666.2,75.2 1666.3,77.4 1666.5,79.6 1667,81.7 1667,83.8 1667.7,85.9 1667.8,88.1 1668.1,90.3 1669,92.3 1669,94.6 1669.8,96.6 1670.1,98.8 1670.7,101.2 1671.9,103.3 1672.3,101.2 1673.4,99.3 1673.9,97.2 1674,95.1 1674.6,93.1 1674.5,90.9 1675.1,88.9 1675,86.7 1675.6,84.7 1675.5,82.6 1675.9,80.5 1676.3,78.4 1676.1,76.3 1676.6,74.2 1676.4,72.1 1677.1,70 1676.8,67.9 1677.4,65.8 1677.4,63.7 1678.9,63 1679.5,65.2 1679.3,67.6 1680,69.8 1679.8,72.2 1680.5,74.4 1680.7,76.7 1682,75.3 1683,73.6 1684.3,75.4 1685.3,77.4 1687.6,76.7 1687.9,78.7 1689,80.4 1689,82.5 1689.9,84.3 1690.4,86.3 1690.4,88.4 1691.2,90.4 1691.3,92.5 1691.9,94.4 1692.2,96.5 1694.2,94.2 1694.6,92 1694.4,89.8 1694.9,87.7 1694.7,85.4 1695.3,83.3 1695.1,81.1 1695.6,78.9 1695.7,76.7 1696.2,78.9 1695.9,81.1 1696.6,83.2 1696.3,85.5 1697,87.6 1696.9,89.8 1697.5,92 1697.5,94.2 1697.6,96.1 1698.5,97.9 1698.5,99.9 1699,101.8 1699.1,99.6 1700,97.6 1699.9,95.3 1700.7,93.3 1700.9,91.1 1701.4,93.3 1701.1,95.5 1701.8,97.6 1701.5,99.9 1702.1,102 1701.9,104.2 1702.4,106.4 1702.7,104.1 1703.5,101.8 1703.6,99.4 1704.4,97.2 1705.2,95.7 1705.9,94.2 1708.9,93.4" fill="none" stroke="#4353a5" stroke-width="3.6" stroke-linejoin="round" stroke-linecap="round"/>
<polyline points="1189.1,165.1 1189.8,167.4 1190,169.7 1190.7,172 1191.7,173.4 1192.2,175 1192.6,172.7 1192.4,170.4 1193.1,168.2 1192.9,165.8 1193.6,163.6 1193.3,161.3 1193.7,159 1193.6,161.1 1194.2,163.2 1193.9,165.4 1194.5,167.5 1194.2,169.6 1194.9,171.7 1194.7,173.9 1195.1,176 1195.2,178.1 1195.5,180.3 1196.3,182.3 1196,184.6 1196.9,186.6 1197.1,188.8 1197.3,191.1 1198.1,193.3 1198.4,195.7 1199,197.9 1200,200.1 1200.6,202.5 1201.4,200.3 1201.5,197.9 1202.4,195.7 1202.6,193.3 1202.6,191.1 1203.5,189.1 1203.3,186.9 1204,184.9 1204.1,182.7 1204.7,181.1 1205.6,179.6 1206.7,178.2 1207.4,176.6 1208,178.8 1207.8,181.2 1208.4,183.4 1208.2,185.8 1209,188 1209,190.3 1209.2,192.6 1209.9,194.8 1209.6,197.2 1210.2,199.4 1210,197.1 1210.7,194.9 1210.4,192.5 1211,190.3 1210.8,188 1211.2,185.7 1211,183.4 1211.5,181.2 1211.1,178.8 1211.9,176.6 1211.7,174.3 1212.3,176 1212.5,177.9 1213.2,179.6 1213.9,181.4 1213.9,183.5 1214.7,185.3 1215,187.2 1215.6,185.3 1215.4,183.2 1216.1,181.3 1216.1,179.2 1216.6,177.3 1217,179.2 1218,180.8 1218.4,182.7 1220.4,181.1 1221.4,182.7 1222.7,184.2 1223.2,186.3 1223.2,188.5 1224.1,190.6 1224,192.8 1224.5,194.9 1224.8,192.9 1225.8,191.1 1225.7,189.1 1226.5,187.2 1226.6,189.5 1227.3,191.7 1227,194.1 1227.6,196.3 1227.6,198.6 1228,200.9 1228.9,198.5 1230.3,196.4 1231,194.5 1231.3,192.6 1232.3,190.8 1232.6,188.8 1233.9,191 1234.9,193.3 1235.7,195.3 1237.1,197.1 1239.1,198.7 1239.1,196.5 1239.8,194.4 1239.6,192.2 1240.3,190.1 1240.2,187.8 1240.6,185.7 1241.4,183.7 1241.4,181.5 1242.3,179.5 1242.5,177.3 1243,179.3 1242.8,181.5 1243.3,183.5 1243.2,185.6 1243.8,187.6 1243.6,189.7 1244,191.8 1244.4,193.9 1244.2,196 1244.7,198.1 1244.6,200.2 1245.1,202.3 1244.9,204.4 1245.6,206.5 1245.5,208.6 1246.4,207.1 1247,205.5 1247.1,203.4 1247.7,201.4 1247.5,199.4 1248.2,197.4 1248.1,195.3 1248.6,193.3 1249,191 1248.7,188.7 1249.4,186.5 1248.9,184.2 1249.5,181.9 1249.4,179.6 1249.9,177.4 1249.5,175 1250.1,172.8 1250.1,170.5 1250.1,168.4 1250.6,166.4 1250.5,164.3 1251.1,162.2 1250.9,160.1 1251.4,158.1 1251.3,156 1252.1,158.2 1252.3,160.6 1253.1,162.9 1253.5,165 1253.4,167.1 1253.8,169.2 1253.8,171.3 1254.2,173.3 1254.1,175.4 1254.8,177.5 1254.7,179.6 1254.5,181.9 1255.1,184.2 1254.8,186.5 1255.3,188.7 1255,191 1255.4,193.3 1255.6,191.2 1256.3,189.1 1256.1,186.9 1256.8,184.8 1256.9,182.7 1256.9,180.5 1257.8,178.5 1257.7,176.3 1258.4,174.2 1258.5,172 1259,170 1260,168.2 1260.9,170.6 1262.3,172.8 1262.7,174.8 1262.6,176.9 1263.2,178.9 1262.9,181.1 1263.5,183.1 1263.4,185.2 1263.8,187.2 1263.8,185.1 1264.5,183 1264.4,180.9 1265.2,178.9 1265.1,176.7 1265.8,174.7 1265.7,172.6 1266.1,170.5 1266.1,172.6 1266.7,174.6 1266.5,176.6 1267.4,178.6 1267.1,180.7 1267.6,182.7 1269.6,184.2 1269.7,182 1270.4,180 1270.3,177.7 1270.9,175.7 1271.1,173.5 1271.2,171.5 1271.7,169.6 1271.6,167.5 1272.1,165.6 1272.2,163.6 1273.4,165 1274.2,166.7 1274.1,168.8 1274.7,170.9 1274.5,173.1 1275,175.1 1274.8,177.3 1275.4,179.3 1275.1,181.5 1275.7,183.6 1275.7,185.7 1276,183.4 1275.7,181.1 1276.3,178.8 1276,176.5 1276.7,174.3 1276.5,172 1277,169.7 1276.9,167.4 1277.3,169.7 1277,172 1277.4,174.3 1277.3,176.6 1277.8,178.8 1277.4,181.2 1278.2,183.4 1277.9,185.7 1278.4,188 1278.3,190.3 1278.3,192.3 1278.9,194.2 1278.7,196.3 1279.3,198.2 1279.3,200.2 1280.3,198.4 1280.9,196.4 1280.8,194.1 1281.6,191.8 1281.3,189.5 1281.9,187.3 1281.7,184.9 1282.2,182.7 1281.9,180.4 1282.4,178.1 1282.9,175.8 1282.6,173.5 1283.2,171.3 1282.9,168.9 1283.6,166.7 1283.6,164.4 1283.9,162.1 1284.1,164.1 1284.7,166 1284.6,168.1 1285.3,170 1285.4,172 1285.4,174.2 1285.9,176.4 1285.8,178.7 1286.4,180.9 1286,183.1 1286.7,185.3 1286.4,187.6 1286.9,189.8 1286.8,192 1287.2,194.2 1287,196.5 1287.4,198.7 1287.7,196.6 1288.3,194.5 1288.3,192.4 1288.9,190.3 1289.2,192.4 1290.1,194.3 1290.5,196.4 1291.1,194.5 1291.3,192.6 1292.1,190.7 1292.4,188.8 1293.6,190.2 1294.3,191.8 1294.8,193.9 1295.8,195.8 1296.1,197.9 1296.6,199.8 1297.3,201.7 1297.3,199.5 1297.8,197.4 1297.6,195.2 1298.2,193.1 1298.2,190.9 1298.5,188.8 1300.7,187.2 1301,185.2 1300.8,183.1 1301.5,181.1 1301.2,179 1301.8,177 1301.9,175 1304.2,173.5 1304.4,171.2 1305.5,169 1305.5,166.6 1306.2,164.4 1306.3,166.6 1307,168.6 1307,170.8 1307.7,172.8 1307.7,175 1307.7,177.2 1308.4,179.3 1308.3,181.6 1309,183.7 1308.8,186 1309.4,188.1 1309.5,190.3 1309.5,192.6 1310.3,194.8 1310.1,197.2 1310.7,199.4 1312.6,197.9 1313.3,199.8 1313.6,201.7 1314.4,203.5 1314.8,205.5 1316.4,207 1317.1,204.8 1317.2,202.4 1318,200.2 1318.4,197.9 1318.4,195.7 1318.9,193.6 1318.6,191.4 1319.1,189.2 1318.9,187 1319.4,184.9 1319.4,182.7 1320.9,180.4 1321.1,178.3 1321.7,176.2 1321.7,174.1 1322.2,172 1322.2,174.3 1323,176.5 1322.9,178.9 1323.5,181.1 1323.6,183.4 1324,185.7 1324.5,188 1324.5,190.3 1325.4,192.6 1325.5,194.9 1327,195.6 1327.5,193.6 1327.4,191.4 1328.1,189.4 1328.2,187.3 1328.8,185.3 1328.8,183.1 1329.3,181.1 1330.8,179.6 1330.9,181.9 1331.5,184.2 1331.4,186.5 1332.2,188.7 1332,191 1332.7,193.3 1332.7,195.6 1333.3,193.7 1333.3,191.6 1334.1,189.7 1334,187.6 1334.7,185.7 1336.2,187.2 1337.1,185 1337.7,182.7 1338.4,184.6 1338.5,186.5 1339.4,188.3 1339.7,190.3 1340,192.4 1341,194.3 1341.5,196.4 1343,197.9 1343.5,195.8 1343.1,193.7 1343.7,191.6 1343.5,189.5 1344.2,187.4 1344.1,185.3 1344.7,183.2 1344.6,181.1 1345.6,178.8 1346.8,176.6 1347,178.8 1347.7,180.8 1347.7,183 1348.5,185.1 1348.8,187.2 1349.2,189.6 1350.2,191.8 1350.7,194.1 1351.1,191.8 1350.9,189.5 1351.5,187.2 1351.2,184.9 1351.8,182.7 1351.7,180.4 1352.4,178.1 1352.2,175.8 1352.5,173.5 1354.5,175 1355,177.1 1356.1,179 1356.4,181.1 1357.5,179.7 1358.3,178.1 1358.7,180.3 1358.5,182.5 1359.3,184.6 1359,186.9 1359.7,189 1359.4,191.2 1360.1,193.4 1360.1,195.6 1361.6,196.4 1362.1,194.1 1361.9,191.8 1362.7,189.6 1362.3,187.2 1363,185 1363,182.7 1363.6,180.4 1363.6,178.1 1364.2,176.3 1365,174.6 1365.6,172.8 1366.3,174.7 1366.2,176.8 1367,178.7 1366.7,180.8 1367.4,182.7 1367.9,184.9 1367.7,187.3 1368.5,189.5 1368.3,191.9 1368.9,194.1 1370.8,194.1 1371,192.1 1371.5,190.2 1371.5,188.1 1372.3,186.2 1372.3,184.2 1372.6,182 1373.5,180.1 1373.5,177.8 1374.3,175.8 1374.3,178.1 1375,180.3 1374.7,182.7 1375.4,184.9 1375.2,187.2 1375.8,189.5 1375.8,191.8 1376.1,189.6 1376,187.5 1376.5,185.3 1376.2,183.1 1376.7,181 1376.5,178.8 1377.1,176.6 1376.7,174.4 1377.5,172.3 1377.2,170.1 1377.6,167.9 1377.5,165.8 1377.8,163.6 1377.8,165.7 1378.5,167.7 1378.3,169.8 1379.1,171.8 1378.8,174 1379.6,176 1379.6,178.1 1379.8,180.3 1380.4,182.4 1380.2,184.6 1381,186.6 1381.1,188.8 1381.7,186.5 1381.9,184.2 1382.8,182 1383,179.6 1383.5,181.6 1383.4,183.8 1384,185.8 1383.9,187.9 1384.5,189.9 1384.3,192.1 1384.9,194.1 1385,191.9 1385.7,189.8 1385.4,187.6 1386.2,185.5 1386,183.2 1386.5,181.1 1387.4,182.8 1388.7,184.2 1388.9,182.1 1389.6,180 1389.4,177.9 1389.9,175.8 1390,173.7 1390.7,171.6 1390.4,169.5 1391,167.4 1391.7,169.7 1392.6,172 1393.1,169.9 1394.1,167.9 1394.4,165.7 1395.1,163.6 1395.1,165.8 1395.8,167.9 1395.6,170.2 1396.1,172.3 1396,174.6 1396.5,176.7 1396.4,178.9 1396.7,181.1 1397.2,179.1 1398.3,177.4 1398.5,175.3 1399.4,173.5 1399.5,175.8 1400.2,178.1 1400.1,180.4 1400.7,182.6 1400.6,185 1401.3,187.2 1401.2,189.5 1401.7,191.8 1401.8,189.8 1402.5,187.8 1402.3,185.7 1402.8,183.7 1402.8,181.6 1403.2,179.6 1403.6,177.3 1403.5,175 1404.4,172.8 1404.2,170.4 1404.7,168.2 1404.7,170.5 1405.5,172.7 1405.4,175.1 1406.1,177.3 1406.3,179.6 1407.1,177.5 1407.3,175.3 1408.3,173.3 1408.6,171.1 1409.3,169 1409.5,170.9 1410.2,172.8 1410.3,174.7 1410.8,176.6 1411.2,178.8 1410.9,181 1411.4,183.2 1411.1,185.5 1411.7,187.6 1411.4,189.9 1412.1,192 1411.7,194.3 1412.3,196.5 1411.9,198.7 1412.4,200.9 1412.4,198.7 1412.8,196.6 1412.6,194.4 1413.2,192.3 1412.8,190.1 1413.2,187.9 1412.9,185.8 1413.5,183.6 1413.2,181.4 1413.9,179.3 1413.4,177.1 1413.9,175 1413.9,172.8 1414.7,174.5 1414.7,176.4 1415.4,178.1 1415.8,180.4 1415.5,182.7 1416.3,184.9 1415.9,187.3 1416.6,189.5 1416.2,191.8 1416.9,194.1 1416.9,196.4 1418.1,194.9 1419.2,193.3 1419.8,195.1 1419.9,197 1420.7,198.7 1421.6,200.9 1422,203.3 1423,205.5 1422.9,203.3 1423.6,201.3 1423.2,199.1 1423.9,197 1423.5,194.8 1424.3,192.7 1423.9,190.6 1424.5,188.5 1424.1,186.3 1424.6,184.2 1425.5,182.7 1426.1,181.1 1426.3,179 1426.9,177 1426.7,174.8 1427.4,172.8 1427.3,170.6 1428,168.6 1427.8,166.4 1428.4,164.4 1428.6,166.5 1429.3,168.4 1429.2,170.5 1430.1,172.5 1429.9,174.6 1430.6,176.6 1431.2,174.2 1432.2,172 1432.7,169.7 1432.7,167.4 1433.5,165.2 1433.7,162.9 1434.6,164.9 1435.1,167 1436,169 1437,170.4 1437.8,172 1437.8,174.2 1438.4,176.3 1438,178.5 1438.7,180.6 1438.4,182.8 1439.2,184.8 1438.8,187 1439.4,189.2 1439.2,191.3 1439.8,193.4 1439.8,195.6 1440.7,193.7 1441.3,191.8 1441.5,189.7 1442.2,187.8 1442.1,185.6 1443,183.7 1442.9,181.6 1443.6,179.6 1444.2,177.5 1444.3,175.3 1445.2,173.3 1445.3,171.1 1445.9,169 1446.1,171.2 1446.9,173.3 1446.6,175.6 1447.4,177.7 1447.3,179.9 1448.2,182 1448.2,184.2 1449.4,184.2 1450.5,182.7 1451.4,181.1 1451.9,179.3 1452.9,177.6 1453.4,175.8 1453.8,178.1 1453.6,180.4 1454.2,182.7 1454.1,185 1454.5,187.2 1454.4,189.6 1455,191.8 1454.9,194.1 1455.2,196.4 1455.7,194.3 1456.7,192.4 1457.1,190.3 1457.1,188.1 1457.9,186 1457.6,183.7 1458.3,181.6 1458.3,179.4 1459,177.2 1459,175 1459.4,173 1460.2,171 1460.6,169 1461.7,167.7 1463.2,166.7 1464.4,168.1 1465.9,169 1466.4,171.3 1466.3,173.6 1467.1,175.8 1466.9,178.2 1467.5,180.4 1467.7,182.7 1468.6,185 1469.7,187.2 1469.8,184.9 1470.3,182.7 1469.8,180.3 1470.6,178.1 1470.3,175.8 1470.9,173.5 1470.6,171.2 1471.1,169 1470.8,166.7 1471.2,164.4 1472.5,162.6 1473.5,160.6 1474,162.7 1473.7,164.9 1474.4,167 1474.3,169.2 1475,171.3 1475,173.5 1475.2,175.5 1475.7,177.5 1475.7,179.6 1476.2,181.6 1476,183.7 1476.6,185.7 1477.2,183.4 1478.2,181.2 1478.4,178.8 1479.3,176.6 1479.5,178.9 1480,181.1 1479.8,183.5 1480.6,185.7 1480.2,188.1 1480.8,190.3 1481.7,192.5 1482,194.9 1483,197 1483.4,199.4 1485.4,197.9 1485.7,195.7 1485.5,193.4 1486.1,191.2 1485.6,189 1486.4,186.8 1486,184.5 1486.6,182.4 1486.4,180.1 1486.7,177.9 1486.6,175.7 1487.2,173.5 1486.9,171.2 1487.2,169 1487.3,171.2 1487.9,173.3 1487.8,175.5 1488.5,177.7 1488.3,179.9 1489,182 1489.1,184.2 1489.5,182 1489.4,179.8 1490,177.6 1489.8,175.3 1490.4,173.1 1490.3,170.9 1490.9,168.7 1490.7,166.4 1491.2,164.3 1491.1,162 1491.5,159.8 1492.2,162.2 1493.3,164.4 1493.9,166.5 1493.8,168.7 1494.4,170.7 1494.4,172.9 1494.9,175 1495.3,177.3 1495.2,179.6 1495.8,181.9 1495.8,184.2 1496.4,186.4 1496.4,188.7 1497.1,191 1497.1,193.3 1497.6,191 1497.7,188.7 1498.5,186.5 1498.7,184.2 1499,186.4 1498.9,188.6 1499.5,190.7 1499.3,192.9 1500,195 1499.7,197.3 1500.2,199.4 1501.1,201.6 1501.4,204 1502.2,206.3 1502.2,204.1 1502.9,202 1502.7,199.8 1503.5,197.7 1503.3,195.4 1503.7,193.3 1504,191.1 1503.6,188.8 1504.1,186.6 1503.8,184.4 1504.4,182.2 1503.9,180 1504.4,177.7 1504.1,175.5 1504.7,173.3 1504.3,171.1 1504.9,168.9 1504.5,166.6 1504.8,164.4 1507,162.1 1507,164.3 1507.5,166.5 1507.2,168.8 1507.8,171 1507.5,173.3 1507.9,175.5 1507.7,177.7 1508.3,179.9 1508,182.2 1508.5,184.4 1508.4,186.6 1508.7,188.8 1508.7,191.1 1508.9,193.3 1509.1,191.4 1509.9,189.5 1509.9,187.6 1510.4,185.7 1511.1,183.8 1511.2,181.7 1512.1,179.8 1512.2,177.7 1512.8,175.8 1512.9,178 1513.4,180.2 1513.2,182.4 1514,184.5 1513.8,186.8 1514.4,188.9 1514.3,191.1 1514.7,193.3 1516,194.7 1516.9,196.4 1517.2,198.7 1518.2,200.9 1518.3,203.3 1518.9,205.5 1519.2,203.4 1519.8,201.3 1519.9,199.1 1520.6,197 1520.8,194.9 1521.4,192.8 1522.4,190.9 1523,188.8 1523.1,186.5 1523.7,184.3 1523.5,181.9 1524.2,179.7 1523.9,177.3 1524.6,175.1 1524.6,172.8 1526.9,173.5 1527.4,175.7 1527.1,177.9 1528,180 1527.7,182.3 1528.3,184.4 1528.2,186.6 1528.7,188.8 1528.7,186.7 1529.6,184.6 1529.4,182.5 1530,180.4 1529.9,178.3 1530.8,176.2 1530.6,174.1 1531.1,172 1531.3,174.3 1532.2,176.5 1532.1,178.9 1532.9,181.1 1533.3,183.2 1533.3,185.3 1533.8,187.4 1533.7,189.5 1534.4,191.6 1534.1,193.7 1534.7,195.8 1534.8,197.9 1535.1,200.1 1536.1,202.1 1536.2,204.4 1537.1,206.4 1537.5,208.6 1538.2,206.4 1538.3,204 1539.1,201.7 1539.3,199.4 1539.1,197.2 1539.7,195 1539.5,192.7 1539.9,190.5 1539.6,188.3 1540.1,186.1 1539.8,183.8 1540.4,181.6 1540,179.4 1540.4,177.2 1540.2,174.9 1540.6,172.7 1540.6,170.5 1540.7,168.2 1541.5,165.9 1541.2,163.6 1542,161.3 1542.1,159 1542.4,161.1 1542.1,163.3 1542.7,165.4 1542.2,167.6 1542.8,169.7 1542.4,171.9 1543,174 1542.7,176.2 1543.1,178.3 1542.9,180.4 1543.3,182.6 1543,184.7 1543.6,186.9 1543.2,189 1543.6,191.2 1543.6,193.3 1544,191.3 1543.9,189.2 1544.7,187.2 1544.5,185.1 1545,183.2 1545.1,181.1 1547.4,181.9 1547.9,184.1 1547.7,186.5 1548.4,188.7 1548.4,191.1 1548.9,193.3 1548.9,191.1 1549.5,188.9 1549.2,186.7 1549.8,184.5 1549.7,182.3 1550.2,180.1 1550,177.9 1550.6,175.7 1550.5,173.5 1551.1,175.7 1551,178.1 1551.6,180.3 1551.5,182.7 1552.3,184.9 1552.4,187.2 1553,185 1552.9,182.6 1553.8,180.4 1553.8,178 1554.5,175.8 1554.3,173.4 1555,171.2 1555.1,173.5 1555.7,175.8 1555.6,178.1 1556.4,180.3 1556.1,182.7 1556.9,184.9 1557,187.2 1557,189.4 1557.7,191.6 1557.4,193.8 1558.2,196 1558,198.2 1558.5,200.4 1558.4,202.6 1558.8,204.8 1559,202.6 1559.6,200.5 1559.6,198.3 1560.3,196.2 1560.1,193.9 1560.7,191.8 1561,189.7 1561,187.5 1561.6,185.4 1561.3,183.3 1562,181.2 1561.8,179 1562.4,176.9 1562.1,174.7 1562.7,172.6 1562.7,170.5 1562.9,168.2 1563.6,165.9 1563.7,163.6 1564.2,161.3 1564.7,163.7 1565.9,165.9 1566.5,168.2 1566.7,170.2 1567.4,172.1 1567.4,174.2 1568.1,176.1 1568.3,178.1 1568.9,175.9 1569,173.5 1570,171.3 1570.3,169 1570.7,171.1 1570.4,173.2 1571.2,175.2 1570.9,177.4 1571.5,179.4 1571.2,181.5 1571.7,183.6 1571.8,185.7 1571.6,187.8 1572.1,190 1571.8,192.1 1572.3,194.2 1572.1,196.4 1572.6,198.5 1572.1,200.6 1572.8,202.7 1572.3,204.9 1572.6,207 1572.4,204.8 1573,202.7 1572.8,200.6 1573.3,198.5 1573.2,196.3 1573.8,194.2 1573.5,192.1 1574,190 1573.6,187.8 1574.1,185.7 1574.5,187.6 1575.4,189.4 1575.6,191.5 1576.4,193.3 1576.7,191.2 1577.5,189.1 1577.6,186.9 1578.4,184.9 1578.7,182.7 1578.7,180.5 1579.3,178.3 1579.1,176.1 1579.7,173.9 1579.4,171.7 1580.1,169.5 1579.9,167.3 1580.6,165.1 1580.5,162.9 1581.8,164.2 1582.5,165.9 1584,166.7 1584,168.9 1584.6,171.1 1584.4,173.4 1585.2,175.5 1584.9,177.8 1585.7,179.9 1585.4,182.2 1586.1,184.4 1585.9,186.6 1586.3,188.8 1586.2,186.6 1586.9,184.5 1586.6,182.4 1587.2,180.3 1587.1,178.1 1587.6,176 1587.2,173.8 1587.9,171.7 1587.6,169.5 1588.1,167.4 1588.2,169.6 1589,171.7 1589.2,173.8 1589.9,175.9 1590.1,178.1 1590.6,176.2 1590.6,174.3 1591.4,172.4 1591.6,170.5 1592,172.8 1591.8,175.1 1592.3,177.3 1592.1,179.6 1592.8,181.9 1592.5,184.2 1593.2,186.4 1592.7,188.8 1593.4,191 1593.2,193.3 1593.6,195.6 1593.5,193.3 1594.2,191.1 1593.9,188.7 1594.5,186.5 1594.2,184.2 1594.8,181.9 1594.6,179.6 1595,177.4 1594.8,175 1595.5,172.8 1595.4,170.5 1596,172.6 1595.9,174.9 1596.8,176.9 1596.8,179.1 1597.4,181.2 1597.7,183.4 1597.7,185.5 1598.4,187.4 1598.3,189.5 1599,191.5 1598.7,193.6 1599.2,195.6 1599.5,193.6 1600.3,191.7 1600.3,189.6 1601.2,187.7 1601.5,185.7 1602,188 1601.8,190.3 1602.6,192.5 1602.4,194.9 1603.1,197.1 1603.1,199.4 1603.7,201.7 1603.8,204 1604,201.8 1603.8,199.6 1604.3,197.4 1603.8,195.1 1604.4,193 1604.1,190.7 1604.6,188.5 1604.1,186.3 1604.8,184.1 1604.2,181.9 1604.9,179.7 1604.4,177.5 1605.1,175.3 1604.6,173.1 1605.1,170.9 1604.7,168.6 1605.2,166.4 1604.9,164.2 1605.4,162 1605.3,159.8 1605.7,157.5 1606.5,155.3 1606.6,152.9 1607.6,150.7 1607.9,148.4 1608.4,150.4 1608.2,152.6 1609,154.6 1608.9,156.7 1609.5,158.7 1609.5,160.8 1609.9,162.9 1610.2,165 1610,167.2 1610.5,169.4 1610.3,171.5 1610.7,173.7 1610.5,175.9 1610.9,178 1610.7,180.2 1611.3,182.3 1610.9,184.5 1611.6,186.6 1611.4,188.8 1611.2,190.9 1611.8,193 1611.5,195.1 1612.1,197.2 1611.7,199.4 1612.2,201.5 1611.9,203.6 1612.3,205.7 1612.2,207.8 1612.6,205.7 1612.4,203.6 1612.9,201.5 1612.8,199.3 1613.4,197.3 1613.2,195.1 1613.8,193 1613.5,190.9 1614,188.8 1613.9,191 1614.6,193.1 1614.3,195.3 1614.9,197.5 1614.6,199.7 1615.3,201.8 1614.9,204 1615.6,206.2 1615.3,208.4 1615.8,210.5 1615.7,212.7 1616.2,214.8 1616,217 1616.4,219.2 1616.4,217 1616.9,214.9 1616.6,212.7 1617.2,210.6 1616.8,208.4 1617.4,206.3 1617.1,204.1 1617.7,201.9 1617.3,199.8 1618,197.6 1617.8,195.5 1618,193.3 1617.9,195.5 1618.6,197.7 1618.3,199.9 1618.8,202.1 1618.6,204.4 1619.3,206.5 1619.1,208.8 1619.7,211 1619.5,213.2 1619.8,215.4 1619.8,213.2 1620.1,210.9 1619.9,208.7 1620.4,206.5 1620,204.2 1620.5,202 1620,199.7 1620.6,197.5 1620.4,195.3 1620.6,193 1620.5,190.8 1621,188.6 1620.5,186.3 1621.1,184.1 1620.8,181.8 1621,179.6 1622.1,178.2 1622.8,176.6 1622.7,174.3 1623.4,172 1623.1,169.7 1623.7,167.4 1623.4,165.1 1624.2,162.9 1623.7,160.5 1624.4,158.3 1624.1,156 1624.7,153.7 1624.7,151.4 1625,153.6 1624.8,155.8 1625.4,157.9 1625.1,160.1 1625.7,162.2 1625.5,164.4 1626,166.6 1625.7,168.8 1626.4,170.9 1626.1,173.1 1626.6,175.2 1626.3,177.4 1626.7,179.6 1627,181.8 1626.7,184.1 1627.4,186.3 1626.9,188.6 1627.4,190.8 1627.3,193 1627.7,195.3 1627.4,197.5 1628.1,199.7 1627.7,202 1628.2,204.2 1628,206.5 1628.5,208.7 1628.1,210.9 1628.6,213.2 1628.6,215.4 1628.8,213.2 1628.6,210.9 1629.2,208.7 1628.9,206.4 1629.3,204.2 1629.2,202 1629.6,199.7 1629.3,197.5 1629.8,195.3 1629.5,193 1630.1,190.8 1629.7,188.5 1630.4,186.3 1630,184.1 1630.6,181.9 1630.5,179.6 1630.9,181.9 1630.6,184.2 1631,186.4 1630.7,188.8 1631.4,191 1631.1,193.3 1631.7,195.6 1631.3,197.9 1631.9,200.1 1631.6,202.4 1632.2,204.7 1632,207 1632.5,204.9 1632.2,202.7 1632.8,200.6 1632.7,198.5 1633.2,196.4 1633.1,194.2 1633.9,192.1 1633.6,189.9 1634.3,187.9 1634.3,185.7 1634.7,187.9 1634.4,190.1 1635.1,192.3 1634.7,194.5 1635.2,196.7 1635.1,198.9 1635.7,201.1 1635.4,203.3 1635.8,205.5 1635.6,203.3 1636.4,201.1 1636.1,198.9 1636.6,196.8 1636.2,194.5 1636.9,192.4 1636.5,190.2 1637.1,188 1636.8,185.8 1637.3,183.6 1637.1,181.4 1637.7,179.3 1637.5,177.1 1638.1,174.9 1637.7,172.7 1638.1,170.5 1638.1,172.7 1638.6,174.8 1638.2,177 1638.8,179.1 1638.6,181.3 1639.1,183.4 1638.8,185.6 1639.2,187.8 1639,189.9 1639.6,192.1 1639.2,194.3 1639.6,196.4 1639.6,194.2 1640.2,192.1 1640,190 1640.4,187.8 1640.1,185.6 1640.8,183.5 1640.6,181.4 1641,179.2 1640.8,177.1 1641.4,175 1641.4,172.8 1641.9,174.9 1641.9,177.1 1642.5,179.2 1642.5,181.4 1643.4,183.5 1643.4,185.7 1643.7,183.4 1643.6,181.1 1644,178.9 1643.8,176.6 1644.3,174.3 1644,172 1644.8,169.8 1644.3,167.4 1644.9,165.2 1644.9,162.9 1646.8,160.6 1647.1,162.7 1646.9,164.9 1647.4,167 1647.1,169.1 1647.7,171.2 1647.5,173.3 1648.1,175.4 1647.7,177.6 1648.3,179.7 1647.9,181.8 1648.5,183.9 1648.3,186.1 1648.7,188.2 1648.7,190.3 1648.6,192.5 1649.1,194.6 1648.9,196.8 1649.5,199 1649.2,201.2 1649.8,203.3 1649.4,205.5 1650,207.6 1649.7,209.8 1650.3,212 1650.1,214.2 1650.6,216.3 1650.6,218.5 1651,216.2 1651.1,213.9 1651.8,211.7 1651.6,209.3 1652.2,207.1 1652.2,204.8 1652.6,202.5 1653,200.4 1652.6,198.2 1653.1,196 1652.9,193.9 1653.5,191.7 1653.2,189.5 1653.7,187.4 1653.5,185.2 1653.9,183.1 1653.6,180.9 1654.3,178.8 1654.1,176.6 1654.3,174.4 1654.8,172.2 1654.7,170 1655.5,167.8 1655.3,165.6 1656,163.4 1655.9,161.2 1656.4,159 1657.7,157.2 1658.7,155.2 1659.2,157.3 1659.3,159.5 1660,161.6 1660.1,163.8 1660.6,165.9 1661,167.9 1661,170 1661.6,172 1661.4,174.1 1662.2,176 1662.2,178.1 1662.2,180.2 1662.8,182.1 1662.8,184.2 1663.3,186.2 1663.2,188.3 1663.7,190.3 1663.6,188.1 1664.1,185.9 1663.9,183.7 1664.3,181.5 1664.1,179.3 1664.5,177.1 1664.3,174.9 1664.9,172.7 1664.7,170.5 1665.1,172.7 1665.2,174.9 1665.8,177 1665.8,179.2 1666.6,181.3 1666.4,183.6 1667,185.7 1667.4,187.9 1667.2,190.1 1667.8,192.3 1667.6,194.5 1668.2,196.7 1667.8,198.9 1668.5,201.1 1668.3,203.3 1668.6,205.5 1670.2,207.3 1671.6,209.3 1672,207.1 1671.9,204.9 1672.5,202.8 1672.3,200.5 1672.9,198.4 1672.8,196.2 1673.5,194 1673.4,191.8 1673.6,189.7 1674.3,187.8 1674.2,185.7 1674.9,183.7 1674.8,181.6 1675.4,179.6 1675.7,181.7 1676.7,183.6 1676.9,185.7 1677.5,183.6 1677.4,181.3 1678.1,179.2 1678,177 1678.8,174.9 1678.6,172.6 1679.2,170.5 1680.1,168.2 1680.5,165.8 1681.6,163.6 1682.3,161.3 1682.8,163.3 1682.6,165.4 1683.2,167.4 1683.2,169.4 1683.7,171.5 1683.8,173.5 1684.6,171.3 1684.7,168.9 1685.7,166.7 1686.1,164.4 1686.5,162.3 1687.7,160.4 1688.1,158.3 1688.8,160.2 1689.1,162.2 1690.1,164 1690.6,165.9 1691.1,168 1692.3,169.9 1692.9,172 1693.1,174.3 1693.8,176.5 1693.5,178.9 1694.3,181.1 1694.3,183.4 1694.8,185.7 1694.7,183.4 1695.4,181.1 1695,178.8 1695.6,176.6 1695.3,174.2 1695.9,172 1695.6,169.7 1696,167.4 1696,169.5 1696.7,171.4 1696.5,173.5 1697.3,175.5 1697,177.6 1697.5,179.6 1697.8,181.8 1697.5,184 1698.2,186.2 1697.8,188.4 1698.3,190.6 1698.1,192.8 1698.7,195 1698.4,197.2 1698.7,199.4 1699.4,197 1700.6,194.9 1701,192.6 1701,190.3 1701.8,188 1701.7,185.7 1702.1,183.4 1702.1,185.6 1702.9,187.7 1702.6,189.9 1703.2,192.1 1703,194.3 1703.6,196.4 1703.6,194.1 1704.3,191.8 1704.1,189.5 1704.8,187.3 1704.6,184.9 1705.3,182.7 1705.1,180.3 1706,178.1 1705.9,175.8 1706.9,177.8 1707.2,180.1 1708.4,182 1708.9,184.2" fill="none" stroke="#4353a5" stroke-width="3.6" stroke-linejoin="round" stroke-linecap="round"/>
<polyline points="1191.4,311.3 1193,313.6 1194,315.4 1194.5,317.4 1195.1,315.2 1194.9,312.8 1195.8,310.6 1195.7,308.3 1196.5,306 1196.5,303.7 1197.2,306.3 1197.5,309 1197.9,306.8 1197.8,304.6 1198.3,302.5 1198.1,300.3 1198.7,298.2 1198.6,296 1199,293.8 1199.6,291.7 1199.7,289.5 1200.6,287.4 1200.7,285.2 1201.3,283.1 1201.4,285.4 1202,287.6 1201.9,290 1202.5,292.2 1202.4,294.5 1202.9,296.8 1202.8,294.8 1203.7,292.9 1203.4,290.8 1204.1,288.9 1204.1,286.9 1204.9,288.9 1204.9,291.1 1205.6,293.2 1205.9,295.3 1206.2,297.4 1207.1,299.4 1207.1,301.6 1207.7,303.7 1208.1,305.8 1207.9,308 1208.6,310.1 1208.4,312.3 1208.9,314.4 1209,316.6 1209.2,318.9 1210,321.2 1209.9,323.5 1210.5,325.8 1211.2,323.4 1212.3,321.2 1212.4,323.2 1213.2,325 1213.3,326.9 1213.8,328.8 1214.2,326.5 1215.2,324.3 1215.5,321.9 1216.3,319.7 1218.1,318.9 1218.1,321 1218.8,323.1 1218.7,325.2 1219.5,327.3 1219.4,329.4 1220.1,331.5 1219.9,333.6 1220.4,335.7 1220.6,333.7 1221.4,331.8 1221.3,329.7 1222.2,327.8 1222.4,325.8 1224.5,323.5 1225.3,325.7 1225.5,328.1 1226.5,330.3 1226.3,328 1226.9,325.7 1226.7,323.4 1227.3,321.2 1226.9,318.9 1227.5,316.6 1227.1,314.3 1227.5,312 1229.5,310.5 1230.5,308.3 1230.7,305.9 1231.8,303.7 1233.6,302.9 1234.4,301.2 1234.4,299.3 1235.2,297.6 1235.9,295.9 1236.1,294 1236.7,292.2 1236.7,294.5 1237.6,296.7 1237.6,299.1 1238.3,301.3 1238.1,303.6 1238.7,305.9 1240.6,303.7 1242.5,305.2 1242.6,303.2 1243.1,301.3 1243,299.2 1243.8,297.3 1243.7,295.3 1244.9,296.6 1245.5,298.3 1245.7,300.3 1246.6,302.2 1246.7,304.3 1247.5,306.2 1247.8,308.2 1248.6,309.9 1249.8,311.3 1249.9,309.2 1250.5,307.2 1250.4,305.1 1250.9,303 1250.8,300.9 1251.6,298.9 1251.6,296.8 1251.7,294.5 1252.6,292.3 1252.4,289.9 1253.2,287.7 1253.4,285.4 1255,284.6 1255.6,286.7 1255.5,288.9 1256.3,291 1256.4,293.2 1256.9,295.3 1256.8,293 1257.5,290.7 1257.1,288.4 1257.8,286.2 1257.5,283.9 1258.1,281.6 1258,279.3 1259.4,281.1 1260.5,283.1 1260.6,285.4 1261.3,287.6 1261.1,290 1261.7,292.2 1261.6,294.6 1262.3,296.8 1262.3,299.1 1262.6,297 1262.4,294.9 1262.9,292.8 1262.7,290.7 1263.2,288.6 1263,286.5 1263.7,284.4 1263.5,282.3 1266.1,281.6 1267,283.4 1267.1,285.4 1268.1,287.2 1268.4,289.2 1269.5,287.8 1270.2,286.1 1270.2,283.8 1270.6,281.5 1270.4,279.2 1271.1,277 1270.8,274.7 1271.3,272.4 1271.1,270.1 1271.7,267.9 1271.3,265.6 1271.7,263.3 1272.9,261.1 1273.7,258.7 1273.9,256.4 1274.8,254.2 1275.2,251.9 1275.8,253.9 1275.8,256.1 1276.7,258.1 1276.8,260.2 1278.3,261.8 1278.4,264.1 1279.2,266.3 1279.3,268.6 1279.8,270.9 1280.2,268.8 1281,266.9 1281.3,264.8 1281.9,266.9 1281.7,269 1282.4,271.1 1282,273.2 1282.8,275.3 1282.7,277.4 1283.3,279.5 1283.3,281.6 1283.8,279.5 1283.8,277.3 1284.4,275.2 1284.2,273 1284.8,270.9 1285.1,273.2 1285.9,275.4 1285.9,277.8 1286.7,280 1287.9,281.8 1288.5,283.9 1289.1,281.7 1288.8,279.5 1289.5,277.3 1289.3,275.1 1290.1,272.9 1289.9,270.7 1290.5,268.5 1290.5,266.3 1290.7,264.2 1291.7,262.2 1291.8,260 1292.4,258 1292.5,260.3 1293.1,262.5 1292.9,264.9 1293.6,267.1 1293.3,269.5 1293.9,271.7 1294,274 1295.8,275.5 1295.8,277.6 1296.3,279.7 1296.1,281.8 1296.8,283.8 1296.5,286 1297,288 1296.9,290.1 1297.3,292.2 1297.9,294.5 1298,296.8 1298.9,299.1 1298.9,301.4 1299.6,303.7 1299.8,301.6 1300.3,299.6 1300.3,297.5 1301,295.4 1300.8,293.3 1301.6,291.3 1301.6,289.2 1302.1,291.2 1302,293.3 1302.7,295.3 1302.6,297.4 1303.4,299.3 1303.4,301.4 1304.3,299.2 1304.5,296.8 1305.2,294.5 1305.6,296.8 1306.4,299 1306.4,301.4 1307.4,303.6 1307.7,305.9 1308,303.8 1307.9,301.7 1308.4,299.6 1308.3,297.4 1308.8,295.4 1308.6,293.2 1309.3,291.1 1309.1,289 1309.5,286.9 1310.4,285.1 1311,283.1 1310.9,281 1311.5,279 1311.4,276.9 1312,274.8 1311.7,272.7 1312.4,270.7 1312.3,268.6 1312.8,270.7 1312.5,272.9 1313.1,274.9 1313,277.1 1313.6,279.2 1313.4,281.3 1313.9,283.4 1313.7,285.6 1314.1,287.7 1316.4,286.9 1316.8,289 1316.8,291.1 1317.5,293.1 1317.3,295.2 1318,297.2 1317.9,299.4 1318.4,301.4 1318.5,299.1 1319.5,296.9 1319.4,294.5 1319.9,292.2 1319.8,294.3 1320.4,296.4 1320.2,298.5 1320.8,300.6 1320.7,302.7 1321.3,304.8 1321,306.9 1321.4,309 1321.3,306.7 1322.1,304.4 1321.9,302.1 1322.6,299.9 1322.4,297.5 1323.1,295.3 1323.2,293 1325.5,294.5 1326.2,296.8 1326.2,299.2 1327.1,301.4 1327.5,303.7 1328.5,301.5 1329.1,299 1330.1,296.8 1330.9,299.2 1332.1,301.4 1332.3,299.2 1333.1,297.2 1333,294.9 1333.7,292.9 1333.9,290.7 1334.4,292.8 1334.3,295.1 1334.8,297.2 1334.8,299.4 1335.3,301.5 1335.3,303.7 1335.7,305.9 1337.7,304.4 1337.9,302.1 1338.7,299.9 1338.9,297.5 1339.8,295.3 1340,293 1340.6,295.2 1340.3,297.6 1341.1,299.8 1340.9,302.2 1341.5,304.4 1342,306.5 1341.9,308.7 1342.6,310.8 1342.5,313 1343,315.1 1343.3,312.9 1344.1,310.9 1344.3,308.7 1345,306.6 1345.3,304.4 1345.3,302.3 1346.1,300.2 1345.9,298.1 1346.6,296 1346.4,293.8 1347,291.8 1346.8,289.6 1347.5,287.5 1347.6,285.4 1348.1,287.4 1348.1,289.5 1348.7,291.5 1348.6,293.6 1349.4,295.5 1349.4,297.6 1351,295.3 1351.1,297.4 1351.6,299.4 1351.5,301.4 1352.1,303.4 1352.1,305.5 1352.5,307.5 1352.6,305.3 1353.1,303.1 1352.9,300.8 1353.4,298.6 1353.2,296.4 1353.9,294.2 1353.6,292 1354.1,289.8 1353.9,287.5 1354.5,285.3 1354.5,283.1 1355.2,281.1 1356.4,279.3 1356.9,277.4 1356.9,275.3 1357.5,273.4 1357.5,271.3 1358,269.4 1358.1,271.6 1358.6,273.7 1358.5,275.9 1359.3,278 1359,280.3 1359.6,282.4 1359.8,284.6 1359.8,286.7 1360.3,288.7 1360,290.8 1360.7,292.9 1360.5,295 1361,297 1361,299.1 1363.6,299.9 1364,297.8 1363.8,295.7 1364.4,293.6 1364.2,291.5 1364.8,289.4 1364.5,287.3 1365.1,285.2 1365.1,283.1 1365.2,280.8 1366,278.6 1365.8,276.3 1366.2,274 1366.5,276.3 1367.3,278.5 1367.1,280.9 1368,283.1 1368.2,285.4 1368.1,287.5 1368.7,289.6 1368.5,291.8 1369.2,293.8 1368.9,296 1369.5,298 1369.2,300.2 1369.8,302.3 1369.7,304.4 1369.8,306.7 1370.4,309 1370.6,311.3 1371.2,313.5 1371,315.9 1371.9,318.1 1371.8,320.4 1372.3,322.7 1372.4,320.5 1373.3,318.4 1373.2,316.2 1373.8,314 1373.9,311.8 1374.6,309.7 1374.7,307.5 1375.9,309.7 1376.9,312 1377.4,309.8 1377.3,307.4 1378.1,305.2 1378.1,302.9 1378.3,300.9 1379.3,299.2 1379.2,297.1 1379.9,295.3 1379.9,297.6 1380.6,299.9 1380.4,302.2 1381.2,304.4 1380.8,306.8 1381.5,309 1381.5,311.3 1381.9,313.6 1382.8,315.4 1383,317.5 1384.1,319.2 1384.5,321.2 1385.7,319 1386.5,316.6 1388.7,318.1 1389.2,316 1390.5,314.1 1391,312 1391,309.9 1391.8,307.9 1391.7,305.7 1392.3,303.7 1392.2,301.5 1392.8,299.5 1392.8,297.4 1393.3,295.3 1394,293.3 1394.1,291.1 1394.8,289 1395.1,286.9 1395.5,289 1395.3,291.1 1395.8,293.1 1395.7,295.2 1396.3,297.2 1395.9,299.4 1396.4,301.4 1398.7,299.1 1399.2,297.2 1400.3,295.6 1400.9,293.8 1401.7,291.8 1402.8,289.9 1403,292 1403.5,294.1 1403.4,296.2 1404,298.3 1403.9,296.2 1404.8,294.2 1404.5,292 1405.1,290 1404.8,287.8 1405.5,285.8 1405.5,283.7 1405.8,281.6 1407,279.4 1407.8,277 1408.2,279.3 1407.9,281.6 1408.5,283.9 1408.4,286.2 1409,288.4 1408.8,290.7 1409.2,293 1409.3,295.3 1410,293.4 1410.2,291.4 1411.3,289.7 1411.6,287.7 1412.4,289.7 1412.4,291.8 1413.1,293.8 1414.1,291.4 1415.4,289.2 1415.7,287 1415.4,284.8 1416,282.6 1415.7,280.4 1416.3,278.3 1416.1,276.1 1416.6,273.9 1416.5,271.7 1417,273.8 1417.1,276 1417.9,278 1417.9,280.2 1418.5,282.3 1418.8,280.4 1419.6,278.5 1419.7,276.5 1420.4,274.7 1420.7,276.8 1421.6,278.8 1421.7,281 1422.3,283.1 1423.1,284.9 1423.3,286.9 1424.2,288.7 1424.6,290.7 1424.7,292.8 1425.4,294.7 1425.6,296.8 1426.2,294.7 1426.4,292.6 1427.4,290.6 1427.6,288.4 1428.1,290.7 1427.9,293 1428.5,295.2 1428.4,297.6 1428.9,299.8 1429.1,302.1 1430.5,300 1431.4,297.6 1431.7,295.6 1432.4,293.7 1432.3,291.6 1433,289.7 1433.2,287.7 1433.7,289.9 1433.4,292.1 1433.8,294.3 1433.8,296.5 1434.3,298.7 1434,300.9 1434.6,303.1 1434.5,305.3 1434.8,307.5 1434.8,305.3 1435.5,303.2 1435.3,301.1 1435.9,299 1435.9,296.8 1436.4,294.7 1436.3,292.5 1437,290.4 1436.8,288.2 1437.2,286.1 1437.4,288.4 1438.3,290.7 1438.4,293 1439,295.3 1439.9,293.6 1441.3,292.2 1441.9,294.2 1442.8,296.1 1443.3,298.2 1444.3,300 1444.8,302.1 1445.2,299.8 1444.9,297.5 1445.6,295.3 1445.5,293 1445.9,290.7 1445.8,288.4 1446.5,286.2 1446.1,283.8 1446.9,281.6 1446.6,279.3 1447,277 1447.5,279.1 1448.5,281 1448.9,283.1 1448.7,285.3 1449.3,287.5 1449.1,289.8 1449.7,292 1449.3,294.2 1450,296.4 1449.8,298.7 1450.2,300.9 1449.9,303.1 1450.6,305.3 1450.1,307.6 1450.8,309.8 1450.7,312 1451.2,309.9 1451.1,307.7 1451.9,305.7 1451.9,303.5 1452.5,301.4 1453.3,299.4 1453.3,297.3 1454,295.3 1454.2,297.4 1455.1,299.3 1455.2,301.4 1455.7,299.1 1455.7,296.8 1456.4,294.6 1456.4,292.2 1457.1,290 1456.9,287.6 1457.5,285.4 1457.5,287.5 1458.4,289.5 1458.1,291.7 1458.9,293.7 1458.7,295.8 1459.5,297.8 1459.5,299.9 1460,297.6 1460,295.3 1460.6,293 1460.4,290.7 1461.2,288.4 1461.3,286.1 1462.4,288 1462.5,290.3 1463.6,292.2 1464.8,293.6 1465.6,295.3 1465.7,297.4 1466.5,299.5 1466.3,301.6 1466.7,303.7 1466.7,301.6 1467.1,299.4 1466.8,297.3 1467.3,295.1 1467.1,293 1467.5,290.9 1467.2,288.7 1467.8,286.6 1467.3,284.4 1467.7,282.3 1467.8,284.5 1468.6,286.5 1468.7,288.6 1469.3,290.7 1469.7,292.8 1469.6,294.9 1470.3,297 1470,299.1 1470.6,301.2 1470.4,303.3 1471.1,305.4 1471.2,307.5 1471.5,309.5 1472.5,311.3 1472.8,313.2 1473.5,315.1 1474.3,312.7 1475.3,310.5 1475.6,308.2 1475.5,305.9 1476.1,303.7 1476,301.4 1476.5,299.1 1476.4,296.8 1476.9,294.6 1476.7,292.2 1477.3,290 1477.3,287.7 1478.2,289.7 1478.5,291.8 1479.3,293.8 1479.5,291.6 1480,289.5 1480,287.3 1480.6,285.1 1480.6,282.9 1481.1,280.8 1481,282.9 1481.8,284.9 1481.6,287 1482.2,289.1 1482,291.2 1482.7,293.2 1482.7,295.3 1482.9,297.6 1483.7,299.8 1483.6,302.2 1484.3,304.4 1484.5,306.7 1485.2,304.7 1485.3,302.4 1486.2,300.4 1486.5,298.3 1486.6,296 1487.1,293.8 1487.1,291.5 1487.5,289.2 1487.6,291.5 1488.2,293.8 1488.2,296.1 1488.9,298.3 1488.6,300.7 1489.4,302.9 1489.5,305.2 1489.9,303.1 1489.7,300.9 1490.4,298.9 1490.2,296.7 1490.8,294.6 1490.6,292.4 1491.3,290.4 1491,288.2 1491.5,286.1 1492.2,284.1 1492.1,281.9 1493.1,279.9 1493.3,277.8 1495.6,280 1496.1,282.3 1496.2,284.6 1497,286.9 1497.1,289.2 1497.6,291.5 1498,289.3 1498.8,287.2 1499,285 1499.8,283 1500.2,280.8 1500.7,283 1500.5,285.4 1501.2,287.6 1501.2,289.9 1501.7,292.2 1502.5,294.5 1502.9,296.8 1503.7,299.1 1504,297 1504.8,294.9 1504.9,292.8 1505.5,290.7 1506.3,289 1506.5,287.1 1507.3,285.4 1507.6,287.7 1508.5,289.9 1508.9,292.2 1509.3,294.5 1510.2,296.7 1510.4,299.1 1512.4,296.8 1513.9,299.1 1514.4,297 1514.2,294.8 1514.9,292.7 1514.9,290.5 1515.4,288.4 1517.4,289.2 1518,287.3 1517.8,285.2 1518.7,283.3 1518.6,281.2 1519.2,279.3 1519.3,281.6 1520,283.8 1519.9,286.2 1520.7,288.4 1520.8,290.7 1522.6,292.2 1522.6,294.4 1523.2,296.5 1523,298.6 1523.5,300.7 1523.5,302.9 1524.2,301.1 1524.2,299 1525.1,297.3 1525.3,295.3 1526.7,297.5 1527.6,299.9 1528,297.9 1528,295.8 1528.7,293.8 1528.7,291.7 1529.4,289.8 1529.6,287.7 1530.1,289.8 1530.1,292 1530.8,294 1530.9,296.2 1531.4,298.3 1531.5,296.2 1532.4,294.3 1532.3,292.1 1533.1,290.2 1533.2,288.1 1533.7,286.1 1534,288.3 1534.6,290.4 1534.8,292.5 1535.5,294.6 1535.7,296.8 1535.9,298.9 1536.4,301 1536.3,303.1 1536.9,305.2 1536.7,307.3 1537.5,309.4 1537.3,311.5 1537.8,313.6 1537.7,311.4 1538.3,309.2 1538.1,306.9 1538.7,304.7 1538.4,302.5 1539.1,300.3 1538.9,298.1 1539.5,295.9 1539.3,293.6 1539.9,291.4 1539.8,289.2 1540.2,291.5 1540,293.8 1540.7,296 1540.5,298.4 1541.1,300.6 1540.9,302.9 1541.3,305.2 1542.2,303.2 1543.6,301.4 1544.2,299.4 1544.3,297.3 1545.1,295.3 1547.4,294.5 1547.8,296.8 1548.7,299 1548.9,301.4 1549.2,299.3 1548.9,297.1 1549.5,295 1549.1,292.9 1549.7,290.8 1549.5,288.7 1550,286.6 1549.6,284.4 1550,282.3 1551.1,280.5 1552,278.5 1552.6,280.5 1552.5,282.6 1553.3,284.6 1553.1,286.7 1553.9,288.6 1554,290.7 1556.1,289.2 1556.5,291.1 1557.3,292.9 1557.3,295 1558.1,296.8 1558.5,299 1558.4,301.2 1558.9,303.3 1558.8,305.5 1559.4,307.6 1559.1,309.9 1559.6,312 1559.8,309.9 1560.9,307.9 1561,305.7 1561.6,303.7 1563,302.6 1564.2,301.4 1564.3,299.1 1564.7,296.8 1564.6,294.5 1565.2,292.2 1565.2,289.9 1567.2,291.5 1567.2,289.3 1567.8,287.1 1567.6,284.9 1568.1,282.8 1567.7,280.6 1568.3,278.4 1568.3,276.2 1568.8,278.3 1568.8,280.5 1569.3,282.6 1569.3,284.8 1569.8,286.9 1570.3,289 1569.9,291.3 1570.6,293.4 1570.4,295.6 1570.9,297.7 1571,299.9 1571.7,297.9 1571.5,295.7 1572.4,293.7 1572.3,291.6 1573.3,289.6 1573.1,287.4 1573.8,285.4 1573.8,287.5 1574.4,289.6 1574.1,291.7 1574.7,293.7 1574.6,295.8 1575.1,297.9 1574.9,300 1575.3,302.1 1575.3,299.9 1575.8,297.7 1575.6,295.5 1576.3,293.3 1576,291 1576.6,288.9 1576.2,286.6 1576.8,284.4 1576.6,282.2 1577.2,280 1577.1,277.8 1577.5,279.9 1577.4,282.1 1578.2,284.2 1578.1,286.4 1578.9,288.5 1579,290.7 1580.2,288.5 1580.9,286.1 1581.3,288.1 1581.2,290.3 1581.8,292.3 1581.7,294.4 1582.2,296.4 1582.1,298.6 1582.5,300.6 1584.4,302.9 1584.4,300.7 1585,298.6 1584.8,296.4 1585.6,294.2 1585.3,292 1586,289.9 1586,287.7 1586.1,285.5 1586.9,283.4 1587,281.3 1587.7,279.2 1587.8,277 1589.1,275.8 1590.5,274.7 1590.3,276.8 1591.1,278.9 1590.6,281.1 1591.1,283.2 1591,285.3 1591.5,287.4 1591.2,289.6 1591.8,291.7 1591.6,293.8 1592,295.9 1591.7,298.1 1592.2,300.2 1592.1,302.3 1592.4,304.4 1592.6,302.1 1593.2,299.9 1593.1,297.5 1593.9,295.3 1593.8,293 1594.2,290.7 1594.9,288.5 1594.9,286.1 1595.7,283.9 1596.5,281.6 1596.8,279.2 1597.7,277 1597.8,279.3 1598.7,281.5 1598.5,283.9 1599.2,286.1 1599.2,288.4 1599.7,290.7 1600.2,292.8 1600.2,295 1601,297.1 1600.9,299.3 1601.5,301.4 1602,303.7 1602,306 1602.9,308.2 1603,310.5 1604.1,312.1 1605.3,313.6 1606.3,315 1606.8,316.6 1607.4,314.4 1607.1,312 1607.8,309.8 1607.9,307.5 1608.6,309.7 1608.4,312.1 1609.3,314.3 1609.4,316.6 1610.3,314.9 1610.5,313 1611.4,311.3 1611.6,313.4 1612.1,315.5 1612.1,317.7 1612.9,319.7 1612.9,321.9 1613.6,323.9 1614.5,325.8 1615,324 1616,322.3 1616.4,320.4 1618.6,321.2 1620.6,319.7 1620.5,317.6 1621.1,315.6 1620.9,313.6 1621.4,311.6 1621.3,309.5 1621.6,307.5 1623.6,306.7 1624.2,305 1624.4,303.1 1625.1,301.4 1625.9,299.2 1626,296.8 1626.7,294.5 1627.1,296.6 1627.8,298.5 1628.2,300.6 1628.2,302.7 1628.9,304.6 1628.8,306.7 1629.5,308.7 1629.2,310.8 1629.7,312.8 1629.9,310.5 1630.6,308.3 1630.7,306 1631.2,303.7 1633.2,302.9 1633.5,305.2 1634.2,307.4 1634.3,309.8 1635,312 1635.9,314.2 1636.3,316.7 1637.3,318.9 1639.3,316.6 1640.8,318.1 1641,315.8 1641.8,313.6 1641.6,311.2 1642.3,309 1642.4,311.2 1643,313.3 1642.8,315.5 1643.7,317.6 1643.4,319.8 1643.9,321.9 1643.9,319.7 1644.5,317.5 1644.2,315.3 1644.8,313.1 1644.7,310.9 1645.2,308.7 1645,306.5 1645.7,304.3 1645.7,302.1 1645.8,300 1646.7,298 1646.7,295.9 1647.2,293.8 1647.6,295.6 1648.7,297.2 1649.1,299.1 1649.6,301.5 1650.6,303.7 1650.9,301.4 1651.7,299.2 1651.6,296.8 1652.4,294.5 1652.6,292.2 1653.1,294.3 1653,296.4 1653.9,298.4 1653.9,300.5 1654.6,302.5 1654.5,304.7 1655.1,306.7 1655.1,304.7 1655.9,302.8 1655.9,300.7 1656.7,298.8 1656.7,296.8 1657.1,294.7 1658,292.8 1658.2,290.7 1658.8,292.6 1659,294.6 1659.9,296.4 1660.2,298.3 1662.2,300.6 1662.6,298.6 1662.4,296.4 1663.1,294.4 1663,292.3 1663.5,290.3 1663.2,288.1 1663.7,286.1 1665.5,283.9 1666.4,282 1666.7,280 1668.6,280.8 1668.7,278.6 1669.3,276.5 1669.2,274.3 1669.8,272.2 1669.6,270 1670.1,267.9 1671.4,266.4 1672.4,264.8 1673.7,267 1674.7,269.4 1674.9,271.6 1675.7,273.6 1675.8,275.8 1676.5,277.8 1677.1,280 1677.1,282.4 1677.9,284.6 1677.8,287 1678.5,289.2 1678.5,286.9 1679.1,284.6 1679,282.3 1679.5,280.1 1679.3,277.7 1679.9,275.5 1679.5,273.2 1680,270.9 1679.9,273 1680.6,274.9 1680.5,277 1681.1,279 1681.1,281.1 1681.5,283.1 1682,285.1 1681.7,287.3 1682.3,289.3 1682.2,291.4 1682.7,293.4 1682.5,295.6 1683,297.6 1682.9,295.4 1683.4,293.3 1683,291.1 1683.6,289 1683.4,286.8 1683.8,284.7 1683.5,282.5 1683.9,280.4 1683.6,278.2 1684.2,276.1 1683.8,273.9 1684.2,271.8 1684,269.6 1684.6,267.5 1684.2,265.3 1684.7,263.2 1684.6,261 1685,258.7 1685.9,256.5 1686.3,254.1 1687.1,251.9 1688.2,250 1689.1,248 1689.5,250.3 1689.1,252.6 1689.7,254.9 1689.4,257.2 1690.1,259.4 1689.8,261.8 1690.3,264 1690.1,266.3 1690.7,268.6 1690.6,270.9 1692.2,270.1 1692.6,272 1693.8,273.6 1694.2,275.5 1694.5,273.3 1694.2,271.1 1694.9,269 1694.5,266.7 1695.1,264.6 1694.9,262.4 1695.4,260.2 1695.2,258 1695.7,260.1 1695.6,262.4 1696.2,264.5 1696.1,266.7 1696.8,268.8 1696.6,271.1 1697.2,273.2 1697.8,270.8 1698.7,268.6 1698.9,270.9 1699.7,273.1 1699.7,275.5 1700.5,277.7 1700.6,280 1700.7,282 1701.3,283.9 1701,286 1701.8,287.9 1701.8,289.9 1702.1,287.8 1701.8,285.6 1702.4,283.4 1702.1,281.2 1702.8,279.1 1702.5,276.9 1703.1,274.8 1702.7,272.6 1703.4,270.5 1703.2,268.3 1703.7,266.2 1703.6,264 1704.3,266.3 1704.4,268.6 1705.1,270.9 1705.5,273.1 1705.1,275.2 1705.6,277.4 1705.3,279.6 1705.9,281.7 1705.7,283.9 1706.1,286.1 1705.8,288.3 1706.4,290.4 1706,292.6 1706.5,294.8 1706.3,296.9 1706.6,299.1 1706.7,296.9 1707.4,294.8 1707.2,292.6 1708.1,290.5 1708,288.2 1708.5,286.1 1708.6,288.3 1709.4,290.3 1709.1,292.6 1709.9,294.6 1710,296.8" fill="none" stroke="#8fc6ee" stroke-width="3.6" stroke-linejoin="round" stroke-linecap="round"/>
<polyline points="1191.4,366.8 1193.4,365.2 1194,367.2 1193.7,369.3 1194.5,371.3 1194.4,373.4 1195.2,375.3 1195.2,377.4 1195.8,375.5 1195.9,373.5 1196.8,371.7 1197.1,369.8 1197.1,367.7 1197.9,365.8 1197.8,363.7 1198.3,361.7 1198.2,359.6 1198.6,357.6 1199.4,355.4 1199.6,353 1200.6,350.8 1202.1,351.6 1203.6,352.3 1204,354.4 1203.9,356.5 1204.4,358.5 1204.3,360.6 1205,362.6 1204.7,364.7 1205.1,366.8 1205.6,365.1 1206.7,363.7 1207,366 1207.9,368.3 1208.2,370.6 1208.2,372.7 1208.6,374.8 1208.5,376.9 1209,378.9 1208.6,381.1 1209.3,383.1 1208.9,385.2 1209.3,387.3 1210,385.3 1211.2,383.5 1213.2,385 1214,382.8 1214.2,380.4 1215,378.2 1217.3,375.9 1218.9,375.1 1219,377.3 1219.9,379.3 1219.9,381.4 1220.4,383.5 1222.7,385.8 1223.8,387.6 1224.5,389.6 1224.9,391.5 1226.1,393 1226.5,394.9 1227.1,393 1227,390.9 1227.9,389 1227.9,386.9 1228.5,385 1229.1,382.8 1229.1,380.4 1229.9,378.2 1230,375.9 1231.2,378.1 1231.8,380.5 1232.5,382.5 1233.6,384.3 1234.1,382 1235.2,379.8 1235.6,377.4 1235.9,375.1 1236.7,372.9 1237.1,370.6 1237.5,372.8 1237,375 1237.6,377.2 1237.3,379.4 1237.7,381.5 1237.4,383.7 1238,385.9 1237.9,388.1 1238.6,385.9 1238.6,383.5 1239.5,381.2 1239.7,378.9 1241.7,377.4 1241.7,375.1 1242.1,372.8 1242,370.5 1242.4,368.3 1242.2,366 1242.5,363.7 1243.3,365.6 1244.3,367.5 1244.8,369.7 1244.7,371.9 1245.2,374 1245.1,376.3 1245.7,378.4 1245.6,380.6 1246.3,382.8 1246.3,385 1247.1,386.7 1248.3,388.1 1248.5,385.9 1249,383.8 1249.1,381.7 1249.7,379.6 1249.8,377.4 1250.4,379.3 1250.5,381.2 1251.3,383.1 1251.6,385 1251.9,382.9 1251.8,380.7 1252.4,378.6 1252,376.5 1252.7,374.4 1252.4,372.2 1253,370.1 1252.8,367.9 1253.4,365.8 1253.4,363.7 1253.9,365.7 1253.7,367.8 1254.5,369.8 1254.3,371.9 1254.9,373.8 1255,375.9 1256.9,377.4 1257.1,379.8 1258.2,381.9 1258.1,384.4 1258.9,386.6 1259,384.6 1259.8,382.7 1259.6,380.6 1260.4,378.7 1260.5,376.7 1260.9,379 1260.5,381.3 1261.1,383.5 1260.9,385.9 1261.5,388.1 1261.1,390.4 1261.5,392.7 1261.8,390.4 1262.7,388.1 1262.7,385.7 1263.5,383.5 1264.1,381.4 1263.9,379.2 1264.9,377.2 1264.8,375 1265.3,372.9 1266.4,371.5 1267.2,369.8 1267.6,371.9 1267.1,374.1 1267.9,376.3 1267.5,378.4 1268,380.6 1267.7,382.8 1268.2,384.9 1268.1,387.1 1268.5,389.2 1268.2,391.4 1268.8,393.5 1268.7,395.7 1269.3,393.7 1269.3,391.6 1270,389.6 1270.1,387.5 1271,385.6 1271.1,383.5 1270.9,381.3 1271.5,379.1 1271.3,376.9 1271.9,374.7 1271.6,372.5 1271.9,370.3 1271.7,368.1 1272.3,365.9 1272.2,363.7 1272.4,361.4 1273.1,359.2 1273.2,356.9 1273.7,354.6 1273.7,356.8 1274.6,358.9 1274.4,361.2 1275.2,363.3 1275.1,365.5 1275.9,367.6 1276,369.8 1276.2,367.6 1276,365.3 1276.5,363.2 1276.3,360.9 1276.9,358.7 1276.6,356.5 1277.2,354.3 1277,352 1277.3,349.8 1277.1,347.6 1277.5,345.4 1277.9,343.3 1277.7,341.2 1278.1,339.1 1277.9,336.9 1278.4,334.9 1278.1,332.7 1278.6,330.6 1278.3,328.5 1278.7,326.4 1278.6,328.7 1279.1,331 1279,333.3 1279.6,335.5 1279.1,337.8 1279.7,340.1 1279.6,342.4 1280.1,344.6 1279.9,346.9 1280.4,349.2 1280.3,351.5 1280.4,353.8 1281.3,356.1 1281.3,358.4 1281.8,360.7 1282.4,363 1282.2,365.3 1282.9,367.5 1282.8,369.9 1283.5,372.1 1283.5,374.4 1283.9,376.7 1283.9,374.5 1284.6,372.3 1284.3,370.1 1285.1,367.9 1284.9,365.7 1285.7,363.5 1285.5,361.3 1285.9,359.1 1287.4,358.4 1287.5,360.7 1287.9,363 1287.7,365.3 1288.4,367.5 1288.1,369.9 1288.6,372.1 1288.5,374.4 1288.9,376.7 1288.9,374.4 1289.5,372.1 1289.1,369.8 1289.9,367.6 1289.6,365.2 1290.3,363 1290,360.7 1290.5,358.4 1290.5,356.1 1291.6,358.4 1292.4,360.7 1292.7,363 1293.8,365.2 1293.8,367.6 1294.6,369.8 1294.8,371.9 1294.4,374 1295,376.2 1294.7,378.3 1295.1,380.4 1294.6,382.5 1295.2,384.6 1294.8,386.8 1295,388.9 1295,386.7 1295.6,384.5 1295.6,382.3 1296.2,380.1 1296,377.9 1296.7,375.7 1296.5,373.5 1297,371.3 1296.9,373.6 1297.5,375.9 1297.3,378.2 1297.8,380.4 1297.7,382.8 1298.1,385 1297.7,387.4 1298.4,389.6 1298.2,391.9 1298.5,394.2 1298.4,392.1 1299.2,390 1299,387.9 1299.7,385.8 1299.4,383.7 1300.2,381.6 1299.9,379.5 1300.4,377.4 1300.6,379.4 1301.4,381.2 1301.6,383.1 1302.2,385 1302.7,382.9 1303.7,381 1304.2,378.9 1304.1,376.6 1304.6,374.3 1304.3,372 1305.1,369.8 1304.9,367.5 1305.3,369.8 1305,372.1 1305.7,374.3 1305.5,376.6 1306.1,378.9 1305.8,381.2 1306.5,383.5 1306.3,385.8 1306.9,388 1306.6,390.4 1307.1,392.6 1307.2,394.9 1307.7,392.8 1307.3,390.6 1308,388.5 1307.7,386.3 1308.4,384.2 1308,382 1308.6,379.9 1308.4,377.7 1309.1,375.6 1308.8,373.4 1309.2,371.3 1310.1,369.9 1310.7,368.3 1310.8,366.1 1311.7,364 1311.9,361.9 1312.8,359.8 1312.9,357.6 1313.5,359.6 1313.3,361.7 1314,363.7 1313.9,365.8 1314.6,367.7 1314.8,369.8 1315.5,367.7 1315.7,365.6 1316.4,363.5 1316.8,361.4 1317.2,363.7 1317.1,366 1317.8,368.2 1317.7,370.6 1318.4,372.8 1318.1,375.2 1318.9,377.4 1318.6,379.7 1319.3,382 1319.4,384.3 1319.9,382.3 1319.9,380.3 1320.5,378.4 1320.3,376.3 1320.9,374.4 1321.6,372.1 1321.8,369.8 1322.7,367.6 1322.9,365.2 1323.4,367.4 1323.4,369.6 1324.1,371.8 1323.9,374 1324.7,376.2 1324.7,378.4 1325.4,380.6 1325.5,382.8 1326,380.5 1326,378.2 1326.6,375.9 1326.4,373.6 1327,371.3 1328.2,369.9 1329,368.3 1329.6,366.6 1330.8,365.2 1331.5,363.2 1331.7,361.1 1332.4,359.1 1332.3,361.2 1332.9,363.3 1332.7,365.5 1333.3,367.6 1332.8,369.7 1333.4,371.8 1333.2,374 1333.7,376.1 1333.6,378.2 1333.9,380.5 1334.6,382.7 1334.5,385.1 1335.1,387.3 1335.3,385.3 1336,383.4 1335.9,381.3 1336.7,379.4 1336.9,377.4 1337.1,375.2 1338.1,373.3 1338.1,371 1338.8,369 1340.3,370.6 1340.5,372.9 1341.3,375.1 1341.3,377.5 1342,379.7 1342.1,382.1 1342.7,384.3 1342.7,382 1343.4,379.7 1343.3,377.4 1344,375.2 1343.9,372.8 1344.6,370.6 1344.6,368.3 1346.4,366.8 1346.7,364.5 1347.3,362.2 1347.3,359.9 1347.9,357.6 1347.9,359.8 1348.5,362 1348.4,364.2 1349.1,366.4 1348.7,368.6 1349.4,370.8 1349.3,373 1349.8,375.2 1349.9,377.4 1350.5,375.4 1350.3,373.3 1351.1,371.3 1351,369.2 1351.8,367.3 1351.9,365.2 1352.6,367.1 1352.5,369.1 1353.5,370.9 1353.7,372.9 1354.4,370.9 1354.6,368.8 1355.2,366.8 1355.5,369.1 1356.4,371.3 1356.3,369 1356.8,366.7 1356.7,364.4 1357.1,362.2 1357,359.9 1357.5,357.6 1357.1,355.3 1357.7,353 1357.4,350.7 1358,348.5 1357.7,346.2 1358,343.9 1358.4,346 1359.2,348 1359.1,350.2 1359.8,352.3 1360.2,354.6 1360,356.9 1360.8,359.1 1360.4,361.5 1361.1,363.7 1360.9,366.1 1361.5,368.3 1361.6,370.6 1363.6,368.3 1364,366.2 1364,364.1 1364.8,362 1364.6,359.9 1365.5,357.8 1365.3,355.7 1366.1,353.6 1366.2,351.5 1366.4,353.6 1366.3,355.8 1366.7,357.9 1366.3,360 1367,362.2 1366.6,364.3 1367,366.4 1366.9,368.6 1367.3,370.7 1367,372.8 1367.4,375 1367.3,377.1 1367.8,379.2 1367.5,381.4 1367.7,383.5 1369.7,382 1370,384.2 1369.6,386.4 1370.3,388.5 1369.9,390.7 1370.5,392.8 1370.2,395 1370.5,397.2 1371.2,395.6 1372.3,394.2 1372.5,396.4 1373.4,398.4 1373.6,400.6 1374.3,402.6 1374.2,400.4 1374.7,398.3 1374.4,396.1 1374.8,394 1374.6,391.8 1375,389.7 1374.8,387.5 1375.3,385.4 1374.8,383.2 1375.5,381.1 1375.3,378.9 1376.2,377.3 1377.3,375.9 1377.8,373.8 1377.7,371.7 1378.5,369.6 1378.3,367.5 1378.9,365.4 1378.8,363.3 1379.5,361.2 1379.6,359.1 1380.3,361.1 1380.6,363.2 1381.4,365.2 1381.9,367.4 1381.6,369.6 1382.4,371.8 1382.3,374 1382.8,376.2 1382.8,378.4 1383.5,380.6 1383.4,382.8 1384.2,380.6 1384.2,378.1 1385.2,376 1385.2,373.5 1386,371.3 1386.3,373.5 1387,375.5 1387,377.8 1387.7,379.8 1388,382 1388.9,380 1389.4,377.9 1390.3,375.9 1390.9,377.8 1391.8,379.7 1392.2,377.5 1393.1,375.5 1393.3,373.3 1394.1,371.2 1394.5,369 1395.9,370.1 1397.1,371.3 1397.2,373.4 1398,375.5 1397.8,377.6 1398.7,379.7 1398.6,381.8 1399.3,383.9 1399.2,386 1399.7,388.1 1399.8,386 1400.6,384.1 1400.5,382 1401.3,380 1401.2,377.9 1401.7,375.9 1402.2,377.5 1403.2,378.9 1403.3,376.6 1403.7,374.3 1403.6,372 1404.1,369.8 1404,367.5 1404.6,365.2 1404.2,362.9 1405,360.7 1404.7,358.3 1405.3,356.1 1405.1,353.8 1405.5,351.5 1407,350 1408.6,347.7 1408.5,349.9 1408.9,352.1 1408.7,354.4 1409,356.6 1408.7,358.8 1409.1,361 1408.8,363.3 1409.3,365.5 1409,367.7 1409.4,369.9 1409,372.2 1409.3,374.4 1409.5,372.4 1410.1,370.4 1410,368.2 1410.9,366.3 1410.7,364.2 1411.3,362.2 1412.2,360 1412.5,357.5 1413.4,355.3 1413.5,357.6 1414.4,359.8 1414.3,362.2 1415,364.4 1415,366.8 1415.8,369 1415.9,371.3 1416.6,369.3 1416.9,367.2 1417.7,365.2 1417.8,367.6 1418.9,369.7 1418.9,372.1 1419.5,374.4 1420.1,372.8 1421,371.3 1421.2,373.5 1421.8,375.6 1421.6,377.8 1422.3,379.9 1422.1,382.2 1422.6,384.3 1422.9,382.2 1423.8,380.1 1423.8,377.9 1424.6,375.9 1424.8,378.2 1425.8,380.4 1425.6,382.8 1426.5,385 1426.8,387.3 1427.2,385.1 1426.9,382.8 1427.4,380.6 1427.1,378.4 1427.7,376.2 1427.4,373.9 1427.9,371.7 1427.8,369.5 1428.2,367.3 1428,365 1428.5,362.8 1428.3,360.5 1428.8,358.3 1428.7,356.1 1429.2,358.2 1428.9,360.4 1429.5,362.5 1429.1,364.7 1429.8,366.8 1429.5,369 1430.1,371.1 1429.8,373.3 1430.6,375.4 1430.2,377.6 1430.6,379.7 1431.1,377.6 1432.2,375.7 1432.6,373.6 1433.5,375.9 1434.2,378.2 1434.3,380.3 1434.9,382.3 1434.7,384.4 1435.4,386.5 1435.4,388.6 1436,390.6 1436,392.7 1436.6,390.8 1436.7,388.8 1437.5,387 1437.8,385 1438.7,383.4 1439.8,382 1440.3,379.7 1440.1,377.4 1440.8,375.2 1440.5,372.8 1441.2,370.6 1441.3,368.3 1443.3,366.8 1443.9,368.9 1444,371.1 1444.7,373.1 1444.7,375.3 1445.4,377.4 1445.4,375.2 1446.3,373.1 1446.1,370.9 1446.9,368.8 1446.8,366.6 1447.4,364.5 1447.4,366.7 1448.2,368.8 1448,371 1448.7,373.1 1448.5,375.3 1448.9,377.4 1449.3,379.7 1449.2,382 1449.9,384.2 1449.6,386.6 1450.3,388.8 1450.4,391.1 1453,390.4 1454.1,388.9 1454.9,387.3 1455,385 1455.9,382.8 1456,380.5 1456.5,378.6 1457.6,376.9 1458.3,375.1 1459.7,376.9 1460.6,378.9 1461.6,376.7 1461.9,374.3 1462.9,372.1 1464.1,370.3 1465.1,368.3 1467.4,370.6 1468.3,372.8 1468.8,375.2 1469.7,377.4 1470.3,379.4 1470.6,381.5 1471.2,383.5 1472,385.2 1472.1,387.1 1472.8,388.9 1473,386.9 1473.8,384.9 1474,382.9 1474.8,381 1475,378.9 1475.2,376.9 1476,374.9 1476,372.8 1476.7,370.9 1476.7,368.8 1477.3,366.8 1479.3,364.5 1481.4,365.2 1481.5,367.4 1482.2,369.5 1482.2,371.6 1483,373.7 1483,375.9 1483.4,378.2 1484.3,380.4 1484.5,382.8 1485.1,380.5 1484.9,378.2 1485.5,375.9 1485.4,373.6 1486,371.3 1486.5,369.2 1486.2,367 1487.1,364.9 1486.7,362.7 1487.5,360.6 1487.5,358.4 1488.2,360.3 1488,362.4 1488.9,364.3 1489,366.3 1489.5,368.3 1489.7,366.1 1490.4,364 1490.2,361.7 1490.9,359.6 1491,357.3 1491.8,355.2 1491.8,353 1492.3,355 1492,357.1 1492.7,359.1 1492.6,361.2 1493.2,363.2 1493.3,365.2 1493.7,367.3 1494.7,369.2 1495.2,371.3 1495.9,369.1 1495.8,366.7 1496.9,364.5 1497.1,362.2 1498.5,360.5 1500.2,359.1 1500.3,361.1 1500.8,363.2 1500.8,365.2 1501.5,367.2 1501.1,369.3 1501.7,371.3 1502.2,373.8 1502.2,376.4 1502.8,378.9 1503.3,380.9 1503.1,382.9 1503.8,384.9 1503.6,386.9 1504,388.9 1504,386.6 1504.6,384.3 1504.4,382 1504.8,379.7 1504.7,377.4 1505.2,375.2 1504.9,372.8 1505.5,370.6 1505.3,368.3 1505.9,366 1505.8,363.7 1506.1,361.6 1507,359.7 1507.3,357.6 1508,359.8 1508.1,362.3 1509,364.5 1509.3,366.8 1509.2,368.8 1509.9,370.7 1509.8,372.8 1510.5,374.7 1510.4,376.7 1512.8,378.9 1513.3,376.8 1513,374.5 1513.7,372.4 1513.6,370.2 1514.1,368.1 1514,365.9 1514.4,363.7 1516.9,364.5 1517.1,366.6 1517.7,368.7 1517.7,370.9 1518.3,373 1518.5,375.1 1518.5,377.3 1519.2,379.5 1519.2,381.7 1519.8,383.8 1519.7,386.1 1520.5,388.2 1520.5,390.4 1520.9,388.3 1520.6,386.2 1521.1,384 1520.7,381.9 1521.3,379.8 1521,377.7 1521.4,375.6 1521.3,373.4 1521.7,371.3 1521.3,369.2 1521.9,367.1 1521.5,364.9 1522.1,362.8 1522,360.7 1522.5,362.8 1522.2,365 1522.8,367 1522.6,369.2 1523,371.3 1523.6,373.6 1523.5,375.9 1524.4,378.2 1524.4,380.5 1525,382.8 1525.5,380.9 1526.6,379.3 1527.2,377.4 1527.4,375.3 1528.3,373.4 1528.7,371.3 1529,369.1 1529.8,367.1 1530,364.9 1530.7,362.8 1531.1,360.7 1532.1,362.9 1532.9,365.2 1533.7,363.4 1533.7,361.4 1534.6,359.6 1534.8,357.6 1535.4,359.8 1535.3,362.2 1536.1,364.4 1535.9,366.8 1536.8,369 1536.8,371.3 1537.9,369.1 1538.7,366.8 1539.3,368.8 1539.4,371 1540.4,373 1540.6,375.1 1541.1,373.1 1541.1,371 1541.9,369 1541.6,366.8 1542.4,364.9 1542.2,362.7 1542.8,360.7 1543,362.8 1543.6,364.9 1543.6,367.1 1544.4,369.1 1544.4,371.3 1544.5,373.5 1545.1,375.6 1544.9,377.8 1545.6,379.9 1545.4,382.2 1545.9,384.3 1546,382.1 1546.6,379.9 1546.3,377.6 1547,375.4 1546.8,373.2 1547.4,371 1547.1,368.7 1547.9,366.5 1547.6,364.3 1548.2,362.1 1548,359.8 1548.5,357.6 1549,359.7 1550,361.6 1550.5,363.7 1551.2,366.1 1552.4,368.3 1552.9,370.4 1552.8,372.5 1553.4,374.5 1553.4,376.7 1554.1,378.7 1553.8,380.9 1554.6,382.9 1554.6,385 1555.6,383 1556,380.9 1557,378.9 1557.3,380.8 1557.8,382.7 1557.9,384.7 1558.5,386.6 1559.6,388.8 1560.1,391.1 1560.8,389 1560.7,386.8 1561.5,384.8 1561.5,382.6 1562.2,380.5 1563.4,379.1 1564.2,377.4 1564.5,375.1 1565.1,372.9 1565,370.5 1565.7,368.3 1566.2,366.2 1566.1,364 1566.8,361.9 1566.7,359.7 1567.2,357.6 1567.9,355.6 1568,353.5 1568.8,351.5 1568.9,353.7 1569.7,355.8 1569.7,358 1570.6,360 1570.7,362.2 1570.6,364.4 1571.3,366.6 1571,368.8 1571.7,371 1571.4,373.2 1572,375.4 1571.8,377.6 1572.3,379.8 1572.3,382 1572.8,379.9 1572.8,377.7 1573.5,375.6 1573.6,373.4 1574.1,371.3 1576.4,372.9 1576.5,374.9 1577.1,376.9 1576.8,379 1577.6,380.9 1577.5,383 1577.9,385 1578.2,382.7 1579,380.5 1579.2,378.1 1580.1,375.9 1580.1,373.5 1580.9,371.3 1580.9,373.4 1581.5,375.5 1581.3,377.7 1581.7,379.8 1581.6,381.9 1582.2,384 1582,386.2 1582.5,388.3 1582.5,390.4 1583,388.3 1582.9,386 1583.6,383.9 1583.6,381.7 1584.2,379.6 1584.4,377.4 1586.6,375.1 1586.8,372.8 1587.7,370.6 1587.6,368.2 1588.5,366 1588.6,363.7 1588.6,361.6 1589.2,359.5 1589.2,357.4 1589.6,355.3 1589.6,357.5 1590.2,359.6 1590.2,361.8 1590.9,363.9 1590.8,366.1 1591.2,368.3 1591.6,370.5 1591.2,372.8 1591.7,375 1591.3,377.2 1591.9,379.4 1591.6,381.7 1592,383.9 1591.8,386.1 1592.3,388.3 1591.9,390.6 1592.4,392.8 1591.9,395.1 1592.6,397.3 1592.4,399.5 1592.8,397.3 1592.6,395.1 1593.3,393 1593.1,390.7 1593.8,388.6 1593.4,386.3 1594.1,384.2 1594.2,382 1594.2,379.8 1594.8,377.7 1594.6,375.5 1595.2,373.3 1595.1,371.1 1595.7,369 1595.7,366.8 1596.6,369 1596.9,371.3 1597.5,369.5 1597.5,367.5 1598.3,365.6 1598.5,363.7 1599.2,366 1599.6,368.3 1600.3,370.6 1600.8,372.6 1600.8,374.8 1601.5,376.8 1601.8,378.9 1601.8,381.1 1602.5,383.2 1602.3,385.4 1602.9,387.5 1602.8,389.7 1603.4,391.8 1603.2,394 1603.9,396.1 1603.7,398.3 1604.3,400.4 1604.3,402.6 1604.8,400.3 1604.6,398 1605.5,395.8 1605.4,393.4 1605.9,391.2 1606.1,388.9 1607.1,390.6 1607.5,392.5 1608.4,394.2 1608.5,392 1609.4,390 1609.4,387.8 1610.2,385.7 1610.3,383.5 1611.3,385 1611.9,386.6 1612.4,388.7 1613.3,390.6 1613.7,392.7 1614.4,390.4 1614.5,388 1615.4,385.8 1615.7,383.5 1616.4,381.2 1616.4,383.5 1617.2,385.7 1617,388.1 1617.6,390.3 1617.5,392.7 1618.2,394.9 1618.3,397.2 1619,395.4 1619,393.3 1619.8,391.5 1620.1,389.6 1620.8,387.2 1622.1,385 1622.7,383 1622.8,380.9 1623.6,378.9 1624.2,376.9 1624.4,374.7 1625.3,372.7 1625.6,370.6 1626.3,368.3 1627.5,366.1 1627.8,363.6 1628.9,361.4 1629.1,363.4 1630,365.3 1630,367.4 1630.9,369.3 1631.2,371.3 1631.8,369.3 1631.7,367.2 1632.3,365.2 1632.5,367.1 1633.2,369 1632.9,371 1633.5,372.9 1634.3,375.1 1634.5,377.5 1635.4,379.7 1635.8,382 1636.6,383.6 1637.8,385 1638.3,383.2 1639.4,381.6 1639.9,379.7 1640.4,381.8 1640.1,383.9 1640.8,386 1640.7,388.1 1641.4,390.2 1641.2,392.3 1641.8,394.4 1641.9,396.5 1642.7,394.4 1643,392.3 1643.8,390.3 1644.2,388.1 1644.4,385.9 1645.4,383.9 1645.4,381.6 1646.2,379.6 1646.5,377.4 1647.2,375.1 1648.4,372.9 1649.6,370.7 1650.6,368.3 1651.1,370.5 1650.9,372.7 1651.6,374.9 1651.4,377.1 1652.1,379.3 1652,381.5 1652.6,383.7 1652.5,385.9 1653,388.1 1652.9,385.9 1653.6,383.9 1653.4,381.7 1654.1,379.6 1653.8,377.5 1654.5,375.4 1654.1,373.2 1654.8,371.1 1654.8,369 1655.4,371.3 1655.4,373.6 1656.3,375.8 1656.2,378.2 1656.9,380.5 1657.1,382.8 1657.5,380.5 1657.4,378.2 1658.1,375.9 1657.7,373.6 1658.2,371.3 1658.2,373.5 1658.9,375.7 1658.6,377.9 1659.2,380.1 1659,382.4 1659.5,384.6 1659.3,386.8 1660,389 1659.8,391.2 1660.2,393.4 1660.6,391.3 1661.5,389.3 1661.6,387.1 1662.2,385 1662.8,382.8 1662.5,380.4 1663.2,378.2 1663.2,375.8 1664,373.6 1664,371.3 1664.7,369 1665.8,366.8 1667.3,365.2 1667.8,362.9 1667.5,360.6 1668.1,358.4 1667.8,356.1 1668.5,353.8 1668.2,351.5 1668.9,349.3 1668.7,346.9 1669.2,344.7 1669.3,342.4 1669.8,344.7 1669.5,347 1670.3,349.2 1670.2,351.5 1670.8,353.8 1670.8,356.1 1671.4,354.2 1671.4,352.3 1672.2,350.4 1672.4,348.5 1673.3,350.7 1673.4,353.1 1674.3,355.3 1674.7,357.6 1674.6,359.7 1675.2,361.8 1674.9,363.9 1675.5,366 1675.3,368.1 1675.9,370.2 1675.5,372.3 1675.9,374.4 1676,372 1677,369.8 1677,367.5 1677.7,365.2 1678.2,363.1 1678.1,360.9 1678.9,358.8 1678.8,356.6 1679.5,354.5 1679.5,352.3 1679.8,354.5 1679.5,356.6 1680,358.8 1679.6,360.9 1680.3,363.1 1679.9,365.3 1680.4,367.4 1680.1,369.6 1680.7,371.7 1680.3,373.9 1680.9,376 1680.7,378.2 1680.9,380.3 1681.5,382.4 1681.5,384.5 1682.4,386.5 1682.4,388.7 1682.9,390.7 1682.9,392.8 1683.5,394.9 1683.5,392.7 1683.9,390.6 1683.6,388.4 1683.9,386.3 1683.6,384.1 1684.2,381.9 1683.9,379.8 1684.3,377.6 1683.9,375.5 1684.4,373.3 1684.2,371.1 1684.7,369 1684.1,366.8 1684.6,364.7 1684.3,362.5 1684.8,360.3 1684.5,358.2 1684.9,356 1684.7,353.9 1685.1,351.7 1684.9,349.5 1685.3,347.4 1684.9,345.2 1685.5,343.1 1685.3,340.9 1685.6,338.8 1686.2,336.9 1686.2,334.8 1687,332.8 1686.9,330.7 1687.6,328.7 1687.9,331 1689.1,333.2 1689.1,335.6 1689.9,337.8 1690.2,339.9 1690.1,342.1 1690.6,344.2 1690.4,346.3 1690.8,348.4 1690.5,350.6 1691.2,352.7 1690.9,354.9 1691.4,357 1691.4,359.1 1692.4,357.1 1692.7,354.9 1693.7,353 1694.3,350.9 1694.4,348.8 1695.4,346.8 1695.7,344.7 1696.1,346.9 1695.7,349.1 1696.3,351.3 1696,353.6 1696.5,355.7 1696.4,358 1697.1,360.1 1696.7,362.4 1697.2,364.6 1697.2,366.8 1697.7,369.1 1698.6,371.3 1699,373.6 1699.5,371.6 1699.7,369.4 1700.4,367.4 1700.3,365.3 1701.3,363.3 1701.2,361.1 1701.8,359.1 1702.2,356.9 1702,354.7 1702.7,352.6 1702.6,350.3 1703.1,348.2 1703,346 1703.5,343.8 1703.6,341.6 1704.1,343.9 1703.9,346.2 1704.7,348.4 1704.5,350.8 1705.1,353 1705,355.3 1705.4,357.6 1705.7,359.8 1705.5,362.1 1705.9,364.3 1705.7,366.5 1706,368.7 1705.8,371 1706.4,373.2 1706.1,375.4 1706.6,377.6 1706.2,379.9 1706.7,382.1 1706.6,384.3 1708.5,384.3 1708.8,382.2 1708.6,380 1709.2,378 1708.9,375.8 1709.3,373.7 1709,371.5 1709.7,369.5 1709.4,367.3 1709.7,365.2" fill="none" stroke="#8fc6ee" stroke-width="3.6" stroke-linejoin="round" stroke-linecap="round"/>
<text font-size="30.8" text-anchor="start" transform="translate(1186.8 52.4) scale(1 1.035)" fill="#1f1c1d">DS</text>
<text font-size="30.8" text-anchor="start" transform="translate(1190.6 246.1) scale(1 1.035)" fill="#1f1c1d">+CBL, STP</text>
<text font-size="30.8" text-anchor="start" transform="translate(1724 96.4) scale(1 1.035)" fill="#1f1c1d">L</text>
<text font-size="30.8" text-anchor="start" transform="translate(1724 172.5) scale(1 1.035)" fill="#1f1c1d">R</text>
<text font-size="30.8" text-anchor="start" transform="translate(1724 297.9) scale(1 1.035)" fill="#1f1c1d">L</text>
<text font-size="30.8" text-anchor="start" transform="translate(1724 388.8) scale(1 1.035)" fill="#1f1c1d">R</text>
<text font-size="30.8" text-anchor="middle" transform="translate(1168.5 367) rotate(-90) scale(1 1.035)" fill="#1f1c1d">2 mV</text>
<line x1="1176" y1="357.2" x2="1176" y2="387" stroke="#3a3a3a" stroke-width="2.8" stroke-linecap="butt"/>
<line x1="1605.7" y1="415.5" x2="1711.9" y2="415.5" stroke="#3a3a3a" stroke-width="2.8" stroke-linecap="butt"/>
<text font-size="30.8" text-anchor="middle" transform="translate(1664.4 444.8) scale(1 1.035)" fill="#1f1c1d">1 s</text>
</g>
<g>
<text font-size="37.6" text-anchor="start" font-weight="bold" transform="translate(0 609.6) scale(1 1.04)" fill="#000">E</text>
<line x1="146.6" y1="694.9" x2="201.5" y2="792.6" stroke="#a3a3a3" stroke-width="2.3" stroke-linecap="round" stroke-dasharray="0.1 4.7"/>
<line x1="146.6" y1="802.8" x2="201.5" y2="776.5" stroke="#a3a3a3" stroke-width="2.3" stroke-linecap="round" stroke-dasharray="0.1 4.7"/>
<line x1="146.6" y1="803.4" x2="201.5" y2="782.1" stroke="#a3a3a3" stroke-width="2.3" stroke-linecap="round" stroke-dasharray="0.1 4.7"/>
<line x1="146.6" y1="822.8" x2="201.5" y2="803.3" stroke="#a3a3a3" stroke-width="2.3" stroke-linecap="round" stroke-dasharray="0.1 4.7"/>
<line x1="146.6" y1="833.9" x2="201.5" y2="792.6" stroke="#a3a3a3" stroke-width="2.3" stroke-linecap="round" stroke-dasharray="0.1 4.7"/>
<line x1="146.6" y1="852.1" x2="201.5" y2="806.2" stroke="#a3a3a3" stroke-width="2.3" stroke-linecap="round" stroke-dasharray="0.1 4.7"/>
<line x1="146.6" y1="886.8" x2="201.5" y2="806.2" stroke="#a3a3a3" stroke-width="2.3" stroke-linecap="round" stroke-dasharray="0.1 4.7"/>
<circle cx="201.5" cy="792.6" r="4.6" fill="#93cdf2"/>
<circle cx="201.5" cy="776.5" r="4.6" fill="#93cdf2"/>
<circle cx="201.5" cy="782.1" r="4.6" fill="#93cdf2"/>
<circle cx="201.5" cy="803.3" r="4.6" fill="#93cdf2"/>
<circle cx="201.5" cy="792.6" r="4.6" fill="#93cdf2"/>
<circle cx="201.5" cy="806.2" r="4.6" fill="#93cdf2"/>
<circle cx="201.5" cy="806.2" r="4.6" fill="#93cdf2"/>
<circle cx="146.6" cy="694.9" r="4.6" fill="#4555a6"/>
<circle cx="146.6" cy="802.8" r="4.6" fill="#4555a6"/>
<circle cx="146.6" cy="803.4" r="4.6" fill="#4555a6"/>
<circle cx="146.6" cy="822.8" r="4.6" fill="#4555a6"/>
<circle cx="146.6" cy="833.9" r="4.6" fill="#4555a6"/>
<circle cx="146.6" cy="852.1" r="4.6" fill="#4555a6"/>
<circle cx="146.6" cy="886.8" r="4.6" fill="#4555a6"/>
<line x1="110.9" y1="640.95" x2="110.9" y2="898.55" stroke="#000" stroke-width="2.1" stroke-linecap="butt"/>
<line x1="103.7" y1="642" x2="110.9" y2="642" stroke="#000" stroke-width="2.1" stroke-linecap="butt"/>
<text font-size="30.3" text-anchor="end" transform="translate(99 652.9) scale(1 1.035)" fill="#000">2.5</text>
<line x1="103.7" y1="693.1" x2="110.9" y2="693.1" stroke="#000" stroke-width="2.1" stroke-linecap="butt"/>
<text font-size="30.3" text-anchor="end" transform="translate(99 704) scale(1 1.035)" fill="#000">2.0</text>
<line x1="103.7" y1="744.2" x2="110.9" y2="744.2" stroke="#000" stroke-width="2.1" stroke-linecap="butt"/>
<text font-size="30.3" text-anchor="end" transform="translate(99 755.1) scale(1 1.035)" fill="#000">1.5</text>
<line x1="103.7" y1="795.3" x2="110.9" y2="795.3" stroke="#000" stroke-width="2.1" stroke-linecap="butt"/>
<text font-size="30.3" text-anchor="end" transform="translate(99 806.2) scale(1 1.035)" fill="#000">1.0</text>
<line x1="103.7" y1="846.4" x2="110.9" y2="846.4" stroke="#000" stroke-width="2.1" stroke-linecap="butt"/>
<text font-size="30.3" text-anchor="end" transform="translate(99 857.3) scale(1 1.035)" fill="#000">0.5</text>
<line x1="103.7" y1="897.5" x2="110.9" y2="897.5" stroke="#000" stroke-width="2.1" stroke-linecap="butt"/>
<text font-size="30.3" text-anchor="end" transform="translate(99 908.4) scale(1 1.035)" fill="#000">0.0</text>
<line x1="103.6" y1="897.5" x2="238.7" y2="897.5" stroke="#000" stroke-width="2.1" stroke-linecap="butt"/>
<line x1="146.6" y1="897.5" x2="146.6" y2="904.7" stroke="#000" stroke-width="2.1" stroke-linecap="butt"/>
<line x1="201.5" y1="897.5" x2="201.5" y2="904.7" stroke="#000" stroke-width="2.1" stroke-linecap="butt"/>
<text font-size="29" text-anchor="middle" transform="translate(42.3 771) rotate(-90) scale(1 1.09)" fill="#000" xml:space="preserve">Total power  (<tspan font-family='"Liberation Serif", "DejaVu Serif", serif'>μ</tspan>V<tspan font-size="20.5" dy="-10.5">2</tspan><tspan dy="10.5">/Hz)</tspan></text>
<text font-size="30.5" text-anchor="end" transform="translate(166.9 925.3) rotate(-45) scale(1 1.035)" fill="#000">DS</text>
<text font-size="30.5" text-anchor="end" transform="translate(218.9 922.1) rotate(-45) scale(1 1.035)" fill="#000">+CLB, STP</text>
</g>
<g>
<text font-size="37.6" text-anchor="start" font-weight="bold" transform="translate(280 609.6) scale(1 1.04)" fill="#000">F</text>
<line x1="380.9" y1="643.05" x2="380.9" y2="902.3" stroke="#000" stroke-width="2.1" stroke-linecap="butt"/>
<line x1="373.7" y1="679.7" x2="380.9" y2="679.7" stroke="#000" stroke-width="2.1" stroke-linecap="butt"/>
<line x1="376.5" y1="657.47" x2="380.9" y2="657.47" stroke="#000" stroke-width="2.1" stroke-linecap="butt"/>
<line x1="376.5" y1="644.46" x2="380.9" y2="644.46" stroke="#000" stroke-width="2.1" stroke-linecap="butt"/>
<line x1="373.7" y1="753.55" x2="380.9" y2="753.55" stroke="#000" stroke-width="2.1" stroke-linecap="butt"/>
<line x1="376.5" y1="731.32" x2="380.9" y2="731.32" stroke="#000" stroke-width="2.1" stroke-linecap="butt"/>
<line x1="376.5" y1="718.31" x2="380.9" y2="718.31" stroke="#000" stroke-width="2.1" stroke-linecap="butt"/>
<line x1="376.5" y1="709.09" x2="380.9" y2="709.09" stroke="#000" stroke-width="2.1" stroke-linecap="butt"/>
<line x1="376.5" y1="701.93" x2="380.9" y2="701.93" stroke="#000" stroke-width="2.1" stroke-linecap="butt"/>
<line x1="376.5" y1="696.08" x2="380.9" y2="696.08" stroke="#000" stroke-width="2.1" stroke-linecap="butt"/>
<line x1="376.5" y1="691.14" x2="380.9" y2="691.14" stroke="#000" stroke-width="2.1" stroke-linecap="butt"/>
<line x1="376.5" y1="686.86" x2="380.9" y2="686.86" stroke="#000" stroke-width="2.1" stroke-linecap="butt"/>
<line x1="376.5" y1="683.08" x2="380.9" y2="683.08" stroke="#000" stroke-width="2.1" stroke-linecap="butt"/>
<line x1="373.7" y1="827.4" x2="380.9" y2="827.4" stroke="#000" stroke-width="2.1" stroke-linecap="butt"/>
<line x1="376.5" y1="805.17" x2="380.9" y2="805.17" stroke="#000" stroke-width="2.1" stroke-linecap="butt"/>
<line x1="376.5" y1="792.16" x2="380.9" y2="792.16" stroke="#000" stroke-width="2.1" stroke-linecap="butt"/>
<line x1="376.5" y1="782.94" x2="380.9" y2="782.94" stroke="#000" stroke-width="2.1" stroke-linecap="butt"/>
<line x1="376.5" y1="775.78" x2="380.9" y2="775.78" stroke="#000" stroke-width="2.1" stroke-linecap="butt"/>
<line x1="376.5" y1="769.93" x2="380.9" y2="769.93" stroke="#000" stroke-width="2.1" stroke-linecap="butt"/>
<line x1="376.5" y1="764.99" x2="380.9" y2="764.99" stroke="#000" stroke-width="2.1" stroke-linecap="butt"/>
<line x1="376.5" y1="760.71" x2="380.9" y2="760.71" stroke="#000" stroke-width="2.1" stroke-linecap="butt"/>
<line x1="376.5" y1="756.93" x2="380.9" y2="756.93" stroke="#000" stroke-width="2.1" stroke-linecap="butt"/>
<line x1="373.7" y1="901.25" x2="380.9" y2="901.25" stroke="#000" stroke-width="2.1" stroke-linecap="butt"/>
<line x1="376.5" y1="879.02" x2="380.9" y2="879.02" stroke="#000" stroke-width="2.1" stroke-linecap="butt"/>
<line x1="376.5" y1="866.01" x2="380.9" y2="866.01" stroke="#000" stroke-width="2.1" stroke-linecap="butt"/>
<line x1="376.5" y1="856.79" x2="380.9" y2="856.79" stroke="#000" stroke-width="2.1" stroke-linecap="butt"/>
<line x1="376.5" y1="849.63" x2="380.9" y2="849.63" stroke="#000" stroke-width="2.1" stroke-linecap="butt"/>
<line x1="376.5" y1="843.78" x2="380.9" y2="843.78" stroke="#000" stroke-width="2.1" stroke-linecap="butt"/>
<line x1="376.5" y1="838.84" x2="380.9" y2="838.84" stroke="#000" stroke-width="2.1" stroke-linecap="butt"/>
<line x1="376.5" y1="834.56" x2="380.9" y2="834.56" stroke="#000" stroke-width="2.1" stroke-linecap="butt"/>
<line x1="376.5" y1="830.78" x2="380.9" y2="830.78" stroke="#000" stroke-width="2.1" stroke-linecap="butt"/>
<line x1="376.5" y1="644.1" x2="380.9" y2="644.1" stroke="#000" stroke-width="2.1" stroke-linecap="butt"/>
<text font-size="29.8" text-anchor="start" fill="#000" transform="translate(316 692.5) scale(1 1.035)">10<tspan font-size="21.5" dy="-11.6">-1</tspan></text>
<text font-size="29.8" text-anchor="start" fill="#000" transform="translate(316 766.35) scale(1 1.035)">10<tspan font-size="21.5" dy="-11.6">-2</tspan></text>
<text font-size="29.8" text-anchor="start" fill="#000" transform="translate(316 840.2) scale(1 1.035)">10<tspan font-size="21.5" dy="-11.6">-3</tspan></text>
<text font-size="29.8" text-anchor="start" fill="#000" transform="translate(316 914.05) scale(1 1.035)">10<tspan font-size="21.5" dy="-11.6">-4</tspan></text>
<line x1="373.6" y1="901.2" x2="766.95" y2="901.2" stroke="#000" stroke-width="2.1" stroke-linecap="butt"/>
<line x1="389.3" y1="901.2" x2="389.3" y2="908.4" stroke="#000" stroke-width="2.1" stroke-linecap="butt"/>
<line x1="445.98" y1="901.2" x2="445.98" y2="905.6" stroke="#000" stroke-width="2.1" stroke-linecap="butt"/>
<line x1="479.14" y1="901.2" x2="479.14" y2="905.6" stroke="#000" stroke-width="2.1" stroke-linecap="butt"/>
<line x1="502.67" y1="901.2" x2="502.67" y2="905.6" stroke="#000" stroke-width="2.1" stroke-linecap="butt"/>
<line x1="520.92" y1="901.2" x2="520.92" y2="905.6" stroke="#000" stroke-width="2.1" stroke-linecap="butt"/>
<line x1="535.83" y1="901.2" x2="535.83" y2="905.6" stroke="#000" stroke-width="2.1" stroke-linecap="butt"/>
<line x1="548.43" y1="901.2" x2="548.43" y2="905.6" stroke="#000" stroke-width="2.1" stroke-linecap="butt"/>
<line x1="559.35" y1="901.2" x2="559.35" y2="905.6" stroke="#000" stroke-width="2.1" stroke-linecap="butt"/>
<line x1="568.98" y1="901.2" x2="568.98" y2="905.6" stroke="#000" stroke-width="2.1" stroke-linecap="butt"/>
<line x1="577.6" y1="901.2" x2="577.6" y2="908.4" stroke="#000" stroke-width="2.1" stroke-linecap="butt"/>
<line x1="634.28" y1="901.2" x2="634.28" y2="905.6" stroke="#000" stroke-width="2.1" stroke-linecap="butt"/>
<line x1="667.44" y1="901.2" x2="667.44" y2="905.6" stroke="#000" stroke-width="2.1" stroke-linecap="butt"/>
<line x1="690.97" y1="901.2" x2="690.97" y2="905.6" stroke="#000" stroke-width="2.1" stroke-linecap="butt"/>
<line x1="709.22" y1="901.2" x2="709.22" y2="905.6" stroke="#000" stroke-width="2.1" stroke-linecap="butt"/>
<line x1="724.13" y1="901.2" x2="724.13" y2="905.6" stroke="#000" stroke-width="2.1" stroke-linecap="butt"/>
<line x1="736.73" y1="901.2" x2="736.73" y2="905.6" stroke="#000" stroke-width="2.1" stroke-linecap="butt"/>
<line x1="747.65" y1="901.2" x2="747.65" y2="905.6" stroke="#000" stroke-width="2.1" stroke-linecap="butt"/>
<line x1="757.28" y1="901.2" x2="757.28" y2="905.6" stroke="#000" stroke-width="2.1" stroke-linecap="butt"/>
<line x1="765.9" y1="901.2" x2="765.9" y2="908.4" stroke="#000" stroke-width="2.1" stroke-linecap="butt"/>
<text font-size="30.3" text-anchor="middle" transform="translate(389.3 940.8) scale(1 1.035)" fill="#000">1</text>
<text font-size="30.3" text-anchor="middle" transform="translate(577.6 940.8) scale(1 1.035)" fill="#000">10</text>
<text font-size="30.3" text-anchor="middle" transform="translate(765.9 940.8) scale(1 1.035)" fill="#000">100</text>
<text x="474" y="971.5" font-size="29" text-anchor="start" fill="#000">Frequency (Hz)</text>
<text font-size="29.5" text-anchor="middle" transform="translate(302.7 774.2) rotate(-90) scale(1 1.09)" fill="#000">Normalized PSD</text>
<polygon points="386,666 444.4,667 477.4,676 500,678 518.6,679 545.7,691 545.7,704.3 518.6,692.3 500,691.3 477.4,689.3 444.4,680.3 386,679.3" fill="#bfe0f7"/>
<polygon points="386,667.1 444.4,667.4 477.4,676.4 500,679.5 518.6,681.5 518.6,688.7 500,686.7 477.4,683.6 444.4,674.6 386,674.3" fill="#8f97cc"/>
<polyline points="386,674.9 444.4,675.9 477.4,684.9 500,686.9 518.6,687.9 545.7,699.9 579.6,717.9 610,744.4 620,748.9 637,769.9 662.5,788.9 681.1,799.4 706.5,817.4 718.4,828.9 733.6,838.9 740,842.4 748.9,850.9 755.6,857.4 759.5,858.9 762.4,871.8 765.8,898.9" fill="none" stroke="#93cdf2" stroke-width="4.3" stroke-linejoin="round" stroke-linecap="butt"/>
<polyline points="386,671.1 444.4,671.4 477.4,680.4 500,683.5 518.6,685.5 545.7,702.4 579.6,721.1 610,747.8 615.1,749.5 635.4,772.7 662.5,790.5 681.1,799.8 706.5,817.6 708.4,812.9 710,819.4 718.4,829.5 725.2,831.2 733.6,839.7 741,846.4 748.9,852.3 755.6,858.3 759.5,857.9 762.4,871.8 764.3,884.4 765.8,898.9" fill="none" stroke="#4555a6" stroke-width="4.1" stroke-linejoin="round" stroke-linecap="round"/>
<line x1="393.5" y1="822.3" x2="438.5" y2="822.3" stroke="#4555a6" stroke-width="4.8" stroke-linecap="round"/>
<text font-size="29.6" text-anchor="start" transform="translate(451.5 832.7) scale(1 1.035)" fill="#000">DS</text>
<line x1="393.5" y1="876" x2="438.5" y2="876" stroke="#93cdf2" stroke-width="4.8" stroke-linecap="round"/>
<text font-size="29.3" text-anchor="start" transform="translate(452 886) scale(1 1.035)" fill="#000">+CLB, STP</text>
</g>
<g>
<text font-size="37.6" text-anchor="start" font-weight="bold" transform="translate(776 609.6) scale(1 1.04)" fill="#000">G</text>
<line x1="885.2" y1="661.1" x2="915" y2="674.5" stroke="#a3a3a3" stroke-width="2.3" stroke-linecap="round" stroke-dasharray="0.1 4.7"/>
<line x1="885.2" y1="666.8" x2="915" y2="699" stroke="#a3a3a3" stroke-width="2.3" stroke-linecap="round" stroke-dasharray="0.1 4.7"/>
<line x1="885.2" y1="700.4" x2="915" y2="708.8" stroke="#a3a3a3" stroke-width="2.3" stroke-linecap="round" stroke-dasharray="0.1 4.7"/>
<line x1="885.2" y1="703.7" x2="915" y2="724.4" stroke="#a3a3a3" stroke-width="2.3" stroke-linecap="round" stroke-dasharray="0.1 4.7"/>
<line x1="885.2" y1="707.6" x2="915" y2="731.2" stroke="#a3a3a3" stroke-width="2.3" stroke-linecap="round" stroke-dasharray="0.1 4.7"/>
<line x1="885.2" y1="710" x2="915" y2="747.4" stroke="#a3a3a3" stroke-width="2.3" stroke-linecap="round" stroke-dasharray="0.1 4.7"/>
<line x1="885.2" y1="724.4" x2="915" y2="752.5" stroke="#a3a3a3" stroke-width="2.3" stroke-linecap="round" stroke-dasharray="0.1 4.7"/>
<line x1="885.2" y1="702" x2="915" y2="728" stroke="#a3a3a3" stroke-width="2.3" stroke-linecap="round" stroke-dasharray="0.1 4.7"/>
<line x1="885.2" y1="705" x2="915" y2="750" stroke="#a3a3a3" stroke-width="2.3" stroke-linecap="round" stroke-dasharray="0.1 4.7"/>
<circle cx="915" cy="674.5" r="4.6" fill="#93cdf2"/>
<circle cx="915" cy="699" r="4.6" fill="#93cdf2"/>
<circle cx="915" cy="708.8" r="4.6" fill="#93cdf2"/>
<circle cx="915" cy="724.4" r="4.6" fill="#93cdf2"/>
<circle cx="915" cy="731.2" r="4.6" fill="#93cdf2"/>
<circle cx="915" cy="747.4" r="4.6" fill="#93cdf2"/>
<circle cx="915" cy="752.5" r="4.6" fill="#93cdf2"/>
<circle cx="915" cy="728" r="4.6" fill="#93cdf2"/>
<circle cx="915" cy="750" r="4.6" fill="#93cdf2"/>
<circle cx="885.2" cy="661.1" r="4.6" fill="#4555a6"/>
<circle cx="885.2" cy="666.8" r="4.6" fill="#4555a6"/>
<circle cx="885.2" cy="700.4" r="4.6" fill="#4555a6"/>
<circle cx="885.2" cy="703.7" r="4.6" fill="#4555a6"/>
<circle cx="885.2" cy="707.6" r="4.6" fill="#4555a6"/>
<circle cx="885.2" cy="710" r="4.6" fill="#4555a6"/>
<circle cx="885.2" cy="724.4" r="4.6" fill="#4555a6"/>
<circle cx="885.2" cy="702" r="4.6" fill="#4555a6"/>
<circle cx="885.2" cy="705" r="4.6" fill="#4555a6"/>
<line x1="964.8" y1="781.6" x2="994.6" y2="779.6" stroke="#a3a3a3" stroke-width="2.3" stroke-linecap="round" stroke-dasharray="0.1 4.7"/>
<line x1="964.8" y1="790" x2="994.6" y2="787.5" stroke="#a3a3a3" stroke-width="2.3" stroke-linecap="round" stroke-dasharray="0.1 4.7"/>
<line x1="964.8" y1="796" x2="994.6" y2="790.5" stroke="#a3a3a3" stroke-width="2.3" stroke-linecap="round" stroke-dasharray="0.1 4.7"/>
<line x1="964.8" y1="803.6" x2="994.6" y2="793.5" stroke="#a3a3a3" stroke-width="2.3" stroke-linecap="round" stroke-dasharray="0.1 4.7"/>
<line x1="964.8" y1="811.2" x2="994.6" y2="807.9" stroke="#a3a3a3" stroke-width="2.3" stroke-linecap="round" stroke-dasharray="0.1 4.7"/>
<line x1="964.8" y1="849.1" x2="994.6" y2="841.8" stroke="#a3a3a3" stroke-width="2.3" stroke-linecap="round" stroke-dasharray="0.1 4.7"/>
<line x1="964.8" y1="786" x2="994.6" y2="783" stroke="#a3a3a3" stroke-width="2.3" stroke-linecap="round" stroke-dasharray="0.1 4.7"/>
<line x1="964.8" y1="799" x2="994.6" y2="792" stroke="#a3a3a3" stroke-width="2.3" stroke-linecap="round" stroke-dasharray="0.1 4.7"/>
<circle cx="994.6" cy="779.6" r="4.6" fill="#93cdf2"/>
<circle cx="994.6" cy="787.5" r="4.6" fill="#93cdf2"/>
<circle cx="994.6" cy="790.5" r="4.6" fill="#93cdf2"/>
<circle cx="994.6" cy="793.5" r="4.6" fill="#93cdf2"/>
<circle cx="994.6" cy="807.9" r="4.6" fill="#93cdf2"/>
<circle cx="994.6" cy="841.8" r="4.6" fill="#93cdf2"/>
<circle cx="994.6" cy="783" r="4.6" fill="#93cdf2"/>
<circle cx="994.6" cy="792" r="4.6" fill="#93cdf2"/>
<circle cx="964.8" cy="781.6" r="4.6" fill="#4555a6"/>
<circle cx="964.8" cy="790" r="4.6" fill="#4555a6"/>
<circle cx="964.8" cy="796" r="4.6" fill="#4555a6"/>
<circle cx="964.8" cy="803.6" r="4.6" fill="#4555a6"/>
<circle cx="964.8" cy="811.2" r="4.6" fill="#4555a6"/>
<circle cx="964.8" cy="849.1" r="4.6" fill="#4555a6"/>
<circle cx="964.8" cy="786" r="4.6" fill="#4555a6"/>
<circle cx="964.8" cy="799" r="4.6" fill="#4555a6"/>
<line x1="1044" y1="846.9" x2="1073.8" y2="832.1" stroke="#a3a3a3" stroke-width="2.3" stroke-linecap="round" stroke-dasharray="0.1 4.7"/>
<line x1="1044" y1="851.1" x2="1073.8" y2="835" stroke="#a3a3a3" stroke-width="2.3" stroke-linecap="round" stroke-dasharray="0.1 4.7"/>
<line x1="1044" y1="855" x2="1073.8" y2="846.9" stroke="#a3a3a3" stroke-width="2.3" stroke-linecap="round" stroke-dasharray="0.1 4.7"/>
<line x1="1044" y1="859.6" x2="1073.8" y2="851" stroke="#a3a3a3" stroke-width="2.3" stroke-linecap="round" stroke-dasharray="0.1 4.7"/>
<line x1="1044" y1="864.6" x2="1073.8" y2="857.9" stroke="#a3a3a3" stroke-width="2.3" stroke-linecap="round" stroke-dasharray="0.1 4.7"/>
<line x1="1044" y1="849" x2="1073.8" y2="854.5" stroke="#a3a3a3" stroke-width="2.3" stroke-linecap="round" stroke-dasharray="0.1 4.7"/>
<line x1="1044" y1="862" x2="1073.8" y2="864.6" stroke="#a3a3a3" stroke-width="2.3" stroke-linecap="round" stroke-dasharray="0.1 4.7"/>
<line x1="1044" y1="853" x2="1073.8" y2="850" stroke="#a3a3a3" stroke-width="2.3" stroke-linecap="round" stroke-dasharray="0.1 4.7"/>
<circle cx="1073.8" cy="832.1" r="4.6" fill="#93cdf2"/>
<circle cx="1073.8" cy="835" r="4.6" fill="#93cdf2"/>
<circle cx="1073.8" cy="846.9" r="4.6" fill="#93cdf2"/>
<circle cx="1073.8" cy="851" r="4.6" fill="#93cdf2"/>
<circle cx="1073.8" cy="857.9" r="4.6" fill="#93cdf2"/>
<circle cx="1073.8" cy="854.5" r="4.6" fill="#93cdf2"/>
<circle cx="1073.8" cy="864.6" r="4.6" fill="#93cdf2"/>
<circle cx="1073.8" cy="850" r="4.6" fill="#93cdf2"/>
<circle cx="1044" cy="846.9" r="4.6" fill="#4555a6"/>
<circle cx="1044" cy="851.1" r="4.6" fill="#4555a6"/>
<circle cx="1044" cy="855" r="4.6" fill="#4555a6"/>
<circle cx="1044" cy="859.6" r="4.6" fill="#4555a6"/>
<circle cx="1044" cy="864.6" r="4.6" fill="#4555a6"/>
<circle cx="1044" cy="849" r="4.6" fill="#4555a6"/>
<circle cx="1044" cy="862" r="4.6" fill="#4555a6"/>
<circle cx="1044" cy="853" r="4.6" fill="#4555a6"/>
<line x1="1123.4" y1="827.9" x2="1153.2" y2="815.9" stroke="#a3a3a3" stroke-width="2.3" stroke-linecap="round" stroke-dasharray="0.1 4.7"/>
<line x1="1123.4" y1="838.9" x2="1153.2" y2="822" stroke="#a3a3a3" stroke-width="2.3" stroke-linecap="round" stroke-dasharray="0.1 4.7"/>
<line x1="1123.4" y1="840.5" x2="1153.2" y2="827.4" stroke="#a3a3a3" stroke-width="2.3" stroke-linecap="round" stroke-dasharray="0.1 4.7"/>
<line x1="1123.4" y1="842.3" x2="1153.2" y2="834.2" stroke="#a3a3a3" stroke-width="2.3" stroke-linecap="round" stroke-dasharray="0.1 4.7"/>
<line x1="1123.4" y1="856.2" x2="1153.2" y2="848.2" stroke="#a3a3a3" stroke-width="2.3" stroke-linecap="round" stroke-dasharray="0.1 4.7"/>
<line x1="1123.4" y1="839.5" x2="1153.2" y2="838.4" stroke="#a3a3a3" stroke-width="2.3" stroke-linecap="round" stroke-dasharray="0.1 4.7"/>
<line x1="1123.4" y1="841" x2="1153.2" y2="831" stroke="#a3a3a3" stroke-width="2.3" stroke-linecap="round" stroke-dasharray="0.1 4.7"/>
<circle cx="1153.2" cy="815.9" r="4.6" fill="#93cdf2"/>
<circle cx="1153.2" cy="822" r="4.6" fill="#93cdf2"/>
<circle cx="1153.2" cy="827.4" r="4.6" fill="#93cdf2"/>
<circle cx="1153.2" cy="834.2" r="4.6" fill="#93cdf2"/>
<circle cx="1153.2" cy="848.2" r="4.6" fill="#93cdf2"/>
<circle cx="1153.2" cy="838.4" r="4.6" fill="#93cdf2"/>
<circle cx="1153.2" cy="831" r="4.6" fill="#93cdf2"/>
<circle cx="1123.4" cy="827.9" r="4.6" fill="#4555a6"/>
<circle cx="1123.4" cy="838.9" r="4.6" fill="#4555a6"/>
<circle cx="1123.4" cy="840.5" r="4.6" fill="#4555a6"/>
<circle cx="1123.4" cy="842.3" r="4.6" fill="#4555a6"/>
<circle cx="1123.4" cy="856.2" r="4.6" fill="#4555a6"/>
<circle cx="1123.4" cy="839.5" r="4.6" fill="#4555a6"/>
<circle cx="1123.4" cy="841" r="4.6" fill="#4555a6"/>
<line x1="1202.7" y1="854" x2="1232.5" y2="853.6" stroke="#a3a3a3" stroke-width="2.3" stroke-linecap="round" stroke-dasharray="0.1 4.7"/>
<line x1="1202.7" y1="859.5" x2="1232.5" y2="859" stroke="#a3a3a3" stroke-width="2.3" stroke-linecap="round" stroke-dasharray="0.1 4.7"/>
<line x1="1202.7" y1="864.5" x2="1232.5" y2="864" stroke="#a3a3a3" stroke-width="2.3" stroke-linecap="round" stroke-dasharray="0.1 4.7"/>
<line x1="1202.7" y1="869" x2="1232.5" y2="868" stroke="#a3a3a3" stroke-width="2.3" stroke-linecap="round" stroke-dasharray="0.1 4.7"/>
<line x1="1202.7" y1="873.6" x2="1232.5" y2="872.3" stroke="#a3a3a3" stroke-width="2.3" stroke-linecap="round" stroke-dasharray="0.1 4.7"/>
<line x1="1202.7" y1="857" x2="1232.5" y2="856.5" stroke="#a3a3a3" stroke-width="2.3" stroke-linecap="round" stroke-dasharray="0.1 4.7"/>
<line x1="1202.7" y1="866.5" x2="1232.5" y2="866" stroke="#a3a3a3" stroke-width="2.3" stroke-linecap="round" stroke-dasharray="0.1 4.7"/>
<circle cx="1232.5" cy="853.6" r="4.6" fill="#93cdf2"/>
<circle cx="1232.5" cy="859" r="4.6" fill="#93cdf2"/>
<circle cx="1232.5" cy="864" r="4.6" fill="#93cdf2"/>
<circle cx="1232.5" cy="868" r="4.6" fill="#93cdf2"/>
<circle cx="1232.5" cy="872.3" r="4.6" fill="#93cdf2"/>
<circle cx="1232.5" cy="856.5" r="4.6" fill="#93cdf2"/>
<circle cx="1232.5" cy="866" r="4.6" fill="#93cdf2"/>
<circle cx="1202.7" cy="854" r="4.6" fill="#4555a6"/>
<circle cx="1202.7" cy="859.5" r="4.6" fill="#4555a6"/>
<circle cx="1202.7" cy="864.5" r="4.6" fill="#4555a6"/>
<circle cx="1202.7" cy="869" r="4.6" fill="#4555a6"/>
<circle cx="1202.7" cy="873.6" r="4.6" fill="#4555a6"/>
<circle cx="1202.7" cy="857" r="4.6" fill="#4555a6"/>
<circle cx="1202.7" cy="866.5" r="4.6" fill="#4555a6"/>
<line x1="865.8" y1="638.35" x2="865.8" y2="897.85" stroke="#000" stroke-width="2.1" stroke-linecap="butt"/>
<line x1="858.6" y1="639.4" x2="865.8" y2="639.4" stroke="#000" stroke-width="2.1" stroke-linecap="butt"/>
<text font-size="30.3" text-anchor="end" transform="translate(853.4 650.3) scale(1 1.035)" fill="#000">60</text>
<line x1="858.6" y1="725.2" x2="865.8" y2="725.2" stroke="#000" stroke-width="2.1" stroke-linecap="butt"/>
<text font-size="30.3" text-anchor="end" transform="translate(853.4 736.1) scale(1 1.035)" fill="#000">40</text>
<line x1="858.6" y1="811" x2="865.8" y2="811" stroke="#000" stroke-width="2.1" stroke-linecap="butt"/>
<text font-size="30.3" text-anchor="end" transform="translate(853.4 821.9) scale(1 1.035)" fill="#000">20</text>
<line x1="858.6" y1="896.8" x2="865.8" y2="896.8" stroke="#000" stroke-width="2.1" stroke-linecap="butt"/>
<text font-size="30.3" text-anchor="end" transform="translate(853.4 907.7) scale(1 1.035)" fill="#000">0</text>
<line x1="858.9" y1="896.8" x2="1252.2" y2="896.8" stroke="#000" stroke-width="2.1" stroke-linecap="butt"/>
<line x1="899.8" y1="896.8" x2="899.8" y2="904" stroke="#000" stroke-width="2.1" stroke-linecap="butt"/>
<line x1="979.4" y1="896.8" x2="979.4" y2="904" stroke="#000" stroke-width="2.1" stroke-linecap="butt"/>
<line x1="1058.6" y1="896.8" x2="1058.6" y2="904" stroke="#000" stroke-width="2.1" stroke-linecap="butt"/>
<line x1="1138" y1="896.8" x2="1138" y2="904" stroke="#000" stroke-width="2.1" stroke-linecap="butt"/>
<line x1="1217.3" y1="896.8" x2="1217.3" y2="904" stroke="#000" stroke-width="2.1" stroke-linecap="butt"/>
<text x="899.8" y="936.6" font-size="30.3" text-anchor="middle" fill="#000">δ</text>
<text x="979.4" y="936.6" font-size="30.3" text-anchor="middle" fill="#000">θ</text>
<text x="1058.6" y="936.6" font-size="30.3" text-anchor="middle" fill="#000">α</text>
<text x="1138" y="936.6" font-size="30.3" text-anchor="middle" fill="#000">β</text>
<text x="1217.3" y="936.6" font-size="30.3" text-anchor="middle" fill="#000">γ</text>
<line x1="884.2" y1="632.6" x2="915.4" y2="632.6" stroke="#000" stroke-width="2.4" stroke-linecap="round"/>
<text x="899.8" y="631.6" font-size="46" text-anchor="middle" font-weight="bold" fill="#000">**</text>
<line x1="963.8" y1="632.6" x2="995" y2="632.6" stroke="#000" stroke-width="2.4" stroke-linecap="round"/>
<text x="979.4" y="631.6" font-size="46" text-anchor="middle" font-weight="bold" fill="#000">**</text>
<line x1="1122.4" y1="632.6" x2="1153.6" y2="632.6" stroke="#000" stroke-width="2.4" stroke-linecap="round"/>
<text x="1138" y="631.6" font-size="46" text-anchor="middle" font-weight="bold" fill="#000">**</text>
<text font-size="29" text-anchor="middle" transform="translate(806.9 767) rotate(-90) scale(1 1.09)" fill="#000">% Power</text>
</g>
<g>
<polyline points="1366.8,710.5 1424.4,729 1456.5,733.8 1480.2,716.5 1498.9,696 1513.2,689.2 1526.8,698 1546.5,711 1556.6,712.5 1564.3,731 1574,742.5 1586,748 1597,749.5 1606,758 1613,775 1621,787 1628,799 1636,806.5 1645,813 1647.5,813.7 1650,818.7 1652.5,816.7 1655,820.5 1658,821.7 1661,817.4 1664,817.5 1666.7,818.2 1669.3,815.5 1672,816 1674.7,818.5 1677.3,816.6 1680,820 1682.7,822 1685.3,820.3 1688,823 1690.7,825.3 1693.3,824.1 1696,826.5 1697.7,828.7 1699.3,819.5 1701,827.2 1702.7,820.5 1704.3,823.8 1706,820 1707.6,818.8 1709.2,827 1710.8,818.2 1712.4,828.8 1714,825 1715.7,819.9 1717.3,829 1719,818.9 1720.7,828.7 1722.3,821.1 1724,823.5 1725.8,828.8 1727.6,820.8 1729.4,829.3 1731.2,821.3 1733,825.5 1734.8,826.8 1736.5,818.4 1738.2,822.8 1740,817.5 1741.6,813.8 1743.3,817.9 1744.9,815" fill="none" stroke="#93cdf2" stroke-width="1.2" stroke-linejoin="round" stroke-linecap="butt" stroke-dasharray="5 1.7"/>
<polyline points="1366.8,750.5 1424.4,769 1456.5,773.8 1480.2,754.5 1498.9,734 1513.2,727.2 1526.8,736 1546.5,749 1556.6,750.5 1564.3,757 1574,768.5 1586,774 1597,775.5 1606,784 1613,801 1621,813 1628,825 1636,832.5 1645,839 1647.5,839.9 1650,844.7 1652.5,842.7 1655,846.5 1658,847.9 1661,843.3 1664,843.5 1666.7,844.2 1669.3,840.5 1672,842 1674.7,845.2 1677.3,843.4 1680,846 1682.7,848.9 1685.3,846.6 1688,849 1690.7,852.3 1693.3,850.4 1696,852.5 1697.7,853.9 1699.3,845.2 1701,852.3 1702.7,845.5 1704.3,851.8 1706,846 1707.6,842.9 1709.2,850.2 1710.8,845.2 1712.4,854.2 1714,851 1715.7,848.5 1717.3,854.7 1719,848.1 1720.7,852.9 1722.3,847.8 1724,849.5 1725.8,852.3 1727.6,844.9 1729.4,853.9 1731.2,845.6 1733,851.5 1734.8,852.8 1736.5,843.5 1738.2,850.5 1740,843.5 1741.6,838.4 1743.3,843.9 1744.9,841" fill="none" stroke="#93cdf2" stroke-width="1.2" stroke-linejoin="round" stroke-linecap="butt" stroke-dasharray="5 1.7"/>
<polyline points="1366.8,731.5 1424.4,750 1456.5,754.8 1480.2,736.5 1498.9,716 1513.2,709.2 1526.8,718 1546.5,731 1556.6,732.5 1564.3,744 1574,755.5 1586,761 1597,762.5 1606,771 1613,788 1621,800 1628,812 1636,819.5 1645,826 1647.5,826 1650,831.8 1652.5,828.8 1655,833.5 1658,834.4 1661,829.5 1664,830.5 1666.7,832.1 1669.3,828.2 1672,829 1674.7,832.3 1677.3,829.4 1680,833 1682.7,836.6 1685.3,833.9 1688,836 1690.7,838.7 1693.3,837.2 1696,839.5 1698,842.5 1700,833 1702,837.2 1704,829.4 1706,833 1708,839.1 1710,831.7 1712,840.4 1714,838 1716,835.6 1718,839 1720,833.8 1722,838.5 1724,836.5 1725.8,834.7 1727.6,839.6 1729.4,836.1 1731.2,841.2 1733,838.5 1735.3,832.8 1737.7,837.6 1740,830.5 1742.5,825.9 1744.9,828" fill="none" stroke="#93cdf2" stroke-width="4.6" stroke-linejoin="round" stroke-linecap="butt"/>
<polyline points="1366.8,710.3 1424.4,728.6 1456.5,731.5 1480.2,711 1498.9,701 1513.2,699.3 1526.8,700.5 1546.5,713.4 1556.6,716.4 1564.3,724.7 1571,732.6 1582.9,740.7 1588.8,752.6 1593.9,751.7 1599,760.2 1608.3,767 1611.7,784.8 1621,794.1 1626,792.4 1629.4,799.1 1634,800 1641.3,808.5 1644.7,806 1647.2,804.8 1649.8,808.5 1654,810 1657,810.3 1659.9,809.1 1663.3,811.6 1665.8,808.7 1668.4,809.9 1672.6,815.8 1675.2,819.8 1677.7,821.8 1680.2,818.2 1682.8,820.3 1685.3,818.4 1687.5,811 1688.7,789 1689.9,813 1692.1,829.4 1693.8,824.4 1695.5,833.7 1697.1,824.4 1698.8,834.9 1700.5,829.4 1702.7,819.2 1704.8,814.2 1706.7,820.1 1708.6,815.7 1710.5,825.8 1712.4,826 1714.1,822.2 1715.8,826.3 1717.5,822.6 1719.2,819.8 1720.8,831.9 1722.5,824.3 1724.2,831.1 1725.9,832.6 1727.6,823.8 1729.3,831.7 1731,824.5 1732.7,826 1734.4,826.9 1736.1,817.7 1737.8,820.4 1739.5,815.9 1741.2,815.4 1742.9,822.6 1743.8,804 1745,782 1746.2,806" fill="none" stroke="#3f4a9e" stroke-width="1.3" stroke-linejoin="round" stroke-linecap="butt" stroke-dasharray="5 1.7"/>
<polyline points="1366.8,752.3 1424.4,770.6 1456.5,773.5 1480.2,749.5 1498.9,739.5 1513.2,737.8 1526.8,739 1546.5,751.9 1556.6,754.9 1564.3,754.7 1571,762.6 1582.9,770.7 1588.8,782.6 1593.9,781.7 1599,790.2 1608.3,797 1611.7,814.8 1621,824.1 1626,822.4 1629.4,829.1 1634,830 1641.3,838.5 1644.7,836 1647.2,835.9 1649.8,838.5 1654,833 1657,834.1 1659.9,832.1 1663.3,834.6 1665.8,832.3 1668.4,832.9 1672.6,838.8 1675.2,843.3 1677.7,844.8 1680.2,842.2 1682.8,844.4 1685.3,841.4 1688.7,826.5 1692.1,852.4 1693.8,849.8 1695.5,856.5 1697.1,850.7 1698.8,855.2 1700.5,852.4 1702.7,841.9 1704.8,837.2 1706.7,842.3 1708.6,838.6 1710.5,848.9 1712.4,849 1714.1,843.2 1715.8,852.1 1717.5,845.6 1719.2,845.1 1720.8,854.9 1722.5,847.2 1724.2,854.1 1725.9,857.3 1727.6,850.3 1729.3,854.4 1731,846 1732.7,849 1734.4,849.3 1736.1,841.4 1737.8,844.3 1739.5,838.9 1741.2,839.6 1742.9,845.6 1744.9,815.1" fill="none" stroke="#3f4a9e" stroke-width="1.3" stroke-linejoin="round" stroke-linecap="butt" stroke-dasharray="5 1.7"/>
<polyline points="1366.8,730.8 1424.4,749.1 1456.5,752 1480.2,730.5 1498.9,720.5 1513.2,718.8 1526.8,720 1546.5,732.9 1556.6,735.9 1564.3,739.7 1571,747.6 1582.9,755.7 1588.8,767.6 1593.9,766.7 1599,775.2 1608.3,782 1611.7,799.8 1621,809.1 1626,807.4 1629.4,814.1 1634,815 1641.3,823.5 1644.7,821 1647.2,821 1649.8,823.5 1654,821 1657,822.1 1659.9,820.1 1663.3,822.6 1665.8,820.2 1668.4,820.9 1672.6,826.8 1675.2,830.6 1677.7,832.8 1680.2,831.1 1682.8,831.7 1685.3,829.4 1688.7,814.5 1692.1,840.4 1693.8,837.9 1695.5,844.7 1697.1,836.5 1698.8,844 1700.5,840.4 1702.7,829.3 1704.8,825.2 1706.3,831.4 1707.8,827.9 1709.4,835.3 1710.9,832.6 1712.4,837 1714.1,840.5 1715.8,833 1717.5,833.6 1719.2,840.1 1720.8,836.1 1722.5,843.9 1724.2,842.1 1725.9,838.4 1727.6,843 1729.3,834.6 1731,839.6 1732.7,837 1734.4,832.8 1736.1,836.7 1737.8,826.1 1739.5,826.9 1741.2,832.1 1742.9,833.6 1744.9,803.1" fill="none" stroke="#4555a6" stroke-width="4.6" stroke-linejoin="round" stroke-linecap="butt"/>
<text font-size="37.6" text-anchor="start" font-weight="bold" transform="translate(1264.3 609.6) scale(1 1.04)" fill="#000">H</text>
<line x1="1361.2" y1="640.55" x2="1361.2" y2="898.65" stroke="#000" stroke-width="2.1" stroke-linecap="butt"/>
<line x1="1354" y1="641.6" x2="1361.2" y2="641.6" stroke="#000" stroke-width="2.1" stroke-linecap="butt"/>
<text font-size="30.3" text-anchor="end" transform="translate(1348.9 652.5) scale(1 1.035)" fill="#000">0.9</text>
<line x1="1354" y1="684.27" x2="1361.2" y2="684.27" stroke="#000" stroke-width="2.1" stroke-linecap="butt"/>
<text font-size="30.3" text-anchor="end" transform="translate(1348.9 695.17) scale(1 1.035)" fill="#000">0.8</text>
<line x1="1354" y1="726.93" x2="1361.2" y2="726.93" stroke="#000" stroke-width="2.1" stroke-linecap="butt"/>
<text font-size="30.3" text-anchor="end" transform="translate(1348.9 737.83) scale(1 1.035)" fill="#000">0.7</text>
<line x1="1354" y1="769.6" x2="1361.2" y2="769.6" stroke="#000" stroke-width="2.1" stroke-linecap="butt"/>
<text font-size="30.3" text-anchor="end" transform="translate(1348.9 780.5) scale(1 1.035)" fill="#000">0.6</text>
<line x1="1354" y1="812.27" x2="1361.2" y2="812.27" stroke="#000" stroke-width="2.1" stroke-linecap="butt"/>
<text font-size="30.3" text-anchor="end" transform="translate(1348.9 823.17) scale(1 1.035)" fill="#000">0.5</text>
<line x1="1354" y1="854.93" x2="1361.2" y2="854.93" stroke="#000" stroke-width="2.1" stroke-linecap="butt"/>
<text font-size="30.3" text-anchor="end" transform="translate(1348.9 865.83) scale(1 1.035)" fill="#000">0.4</text>
<line x1="1354" y1="897.6" x2="1361.2" y2="897.6" stroke="#000" stroke-width="2.1" stroke-linecap="butt"/>
<text font-size="30.3" text-anchor="end" transform="translate(1348.9 908.5) scale(1 1.035)" fill="#000">0.3</text>
<text font-size="29.6" text-anchor="middle" transform="translate(1292.2 770.5) rotate(-90) scale(1 1.09)" fill="#000">Coherence</text>
<line x1="1354" y1="897.6" x2="1746.95" y2="897.6" stroke="#000" stroke-width="2.1" stroke-linecap="butt"/>
<line x1="1369.3" y1="897.6" x2="1369.3" y2="904.8" stroke="#000" stroke-width="2.1" stroke-linecap="butt"/>
<line x1="1425.98" y1="897.6" x2="1425.98" y2="902" stroke="#000" stroke-width="2.1" stroke-linecap="butt"/>
<line x1="1459.14" y1="897.6" x2="1459.14" y2="902" stroke="#000" stroke-width="2.1" stroke-linecap="butt"/>
<line x1="1482.67" y1="897.6" x2="1482.67" y2="902" stroke="#000" stroke-width="2.1" stroke-linecap="butt"/>
<line x1="1500.92" y1="897.6" x2="1500.92" y2="902" stroke="#000" stroke-width="2.1" stroke-linecap="butt"/>
<line x1="1515.83" y1="897.6" x2="1515.83" y2="902" stroke="#000" stroke-width="2.1" stroke-linecap="butt"/>
<line x1="1528.43" y1="897.6" x2="1528.43" y2="902" stroke="#000" stroke-width="2.1" stroke-linecap="butt"/>
<line x1="1539.35" y1="897.6" x2="1539.35" y2="902" stroke="#000" stroke-width="2.1" stroke-linecap="butt"/>
<line x1="1548.98" y1="897.6" x2="1548.98" y2="902" stroke="#000" stroke-width="2.1" stroke-linecap="butt"/>
<line x1="1557.6" y1="897.6" x2="1557.6" y2="904.8" stroke="#000" stroke-width="2.1" stroke-linecap="butt"/>
<line x1="1614.28" y1="897.6" x2="1614.28" y2="902" stroke="#000" stroke-width="2.1" stroke-linecap="butt"/>
<line x1="1647.44" y1="897.6" x2="1647.44" y2="902" stroke="#000" stroke-width="2.1" stroke-linecap="butt"/>
<line x1="1670.97" y1="897.6" x2="1670.97" y2="902" stroke="#000" stroke-width="2.1" stroke-linecap="butt"/>
<line x1="1689.22" y1="897.6" x2="1689.22" y2="902" stroke="#000" stroke-width="2.1" stroke-linecap="butt"/>
<line x1="1704.13" y1="897.6" x2="1704.13" y2="902" stroke="#000" stroke-width="2.1" stroke-linecap="butt"/>
<line x1="1716.73" y1="897.6" x2="1716.73" y2="902" stroke="#000" stroke-width="2.1" stroke-linecap="butt"/>
<line x1="1727.65" y1="897.6" x2="1727.65" y2="902" stroke="#000" stroke-width="2.1" stroke-linecap="butt"/>
<line x1="1737.28" y1="897.6" x2="1737.28" y2="902" stroke="#000" stroke-width="2.1" stroke-linecap="butt"/>
<line x1="1745.9" y1="897.6" x2="1745.9" y2="904.8" stroke="#000" stroke-width="2.1" stroke-linecap="butt"/>
<text font-size="30.3" text-anchor="middle" transform="translate(1369.3 936.8) scale(1 1.035)" fill="#000">1</text>
<text font-size="30.3" text-anchor="middle" transform="translate(1557.6 936.8) scale(1 1.035)" fill="#000">10</text>
<text font-size="30.3" text-anchor="middle" transform="translate(1745.9 936.8) scale(1 1.035)" fill="#000">100</text>
<text x="1454" y="972.3" font-size="29" text-anchor="start" fill="#000">Frequency (Hz)</text>
</g>
<g>
<text font-size="37.6" text-anchor="start" font-weight="bold" transform="translate(0 1088.9) scale(1 1.04)" fill="#000">I</text>
<polyline points="62.9,1170.5 63.6,1172.7 63.8,1175 64.1,1172.8 63.7,1170.5 64.2,1168.3 63.9,1166 64.3,1163.8 64,1161.5 64.6,1159.3 64.2,1157 64.7,1154.8 64.6,1152.5 64.9,1154.6 64.7,1156.7 65.3,1158.7 64.9,1160.9 65.6,1162.9 65.4,1165 65.7,1167.1 67.4,1164.3 67.9,1161.7 68.8,1159.2 69.1,1157.1 68.9,1154.9 69.5,1152.8 69.3,1150.6 69.8,1148.5 69.7,1146.3 70.3,1148.4 70.1,1150.6 70.8,1152.7 70.6,1154.9 71.4,1157 71.4,1159.2 72,1157.1 71.7,1154.9 72.5,1152.8 72.3,1150.6 73,1148.5 73.1,1146.3 73.6,1148.7 73.5,1151.1 74.2,1153.5 74.4,1155.9 74.5,1158.2 75,1160.4 74.9,1162.7 75.3,1164.9 75.6,1167.1 75.5,1169.4 76,1171.6 75.9,1173.9 76.5,1176.1 76.4,1178.4 78.1,1178.4 78.5,1176.3 78.4,1174.2 78.9,1172.2 78.8,1170 79.3,1168 79.1,1165.9 79.6,1163.8 79.6,1165.8 80.3,1167.7 80.3,1169.7 80.7,1171.7 80.6,1169.3 81.3,1167 81.2,1164.7 81.7,1162.3 81.5,1160 82,1157.7 82.1,1155.3 83.8,1156.4 84.1,1158.6 83.8,1160.8 84.3,1163 83.9,1165.2 84.5,1167.4 84,1169.6 84.6,1171.8 84.4,1174 84.6,1176.2 84.8,1174.2 85.8,1172.5 86,1170.5 86.8,1172.7 86.9,1175.1 87.7,1177.3 88.7,1178.9 89.4,1180.7 89.9,1178.5 90.2,1176.2 90.8,1174 91.1,1171.7 91.8,1173.9 92.1,1176.2 92.8,1178.4 92.9,1176.1 93.6,1173.9 93.4,1171.6 93.9,1169.4 94.2,1167.2 94.2,1164.9 94.8,1162.7 94.6,1160.4 95.1,1158.2 95.1,1155.9 95.6,1157.9 95.4,1160.1 96.2,1162.1 96.1,1164.2 96.8,1166.2 96.8,1168.3 97.2,1166.2 97.1,1164.1 97.6,1162 97.6,1159.9 98.3,1157.8 98.2,1155.7 98.5,1153.6 98.5,1155.7 99.1,1157.7 99.1,1159.7 99.7,1161.7 99.6,1163.8 100.3,1161.9 100.2,1159.8 101.2,1157.9 101.3,1155.9 101.9,1153.5 103,1151.3 103,1153.6 103.6,1155.8 103.4,1158.1 104.1,1160.3 103.9,1162.7 104.4,1164.9 104.4,1162.8 105,1160.8 105,1158.7 105.6,1156.6 105.6,1154.5 106,1152.5 106,1154.8 106.5,1157 106.2,1159.3 106.7,1161.5 106.4,1163.8 106.9,1166 106.9,1168.3 107.1,1166.1 106.8,1164 107.3,1161.8 107.1,1159.6 107.5,1157.5 107.3,1155.3 107.7,1153.1 107.5,1151 108,1148.8 107.7,1146.6 108.1,1144.5 108,1142.3 108.9,1144.3 109.7,1146.3 109.6,1148.5 110.2,1150.7 109.8,1152.9 110.3,1155.1 110.1,1157.3 110.5,1159.5 110.4,1161.7 110.9,1163.9 110.6,1166.1 110.9,1168.3 111.4,1165.8 112.1,1163.4 112.6,1160.9 113.4,1163.4 113.7,1166 113.7,1168.3 114.2,1170.5 114,1172.8 114.6,1175 114.4,1177.4 114.8,1179.6 115.4,1181.5 115.6,1183.6 116.3,1185.5 116.5,1187.5 116.9,1185.3 116.6,1183 117.2,1180.7 116.8,1178.4 117.3,1176.2 117.2,1173.9 117.6,1171.7 117.6,1169.4 118.3,1171.6 118.5,1174 119.3,1176.2 119.6,1174.2 120.7,1172.5 121,1170.5 121.1,1168.4 121.7,1166.4 121.6,1164.3 122.2,1162.3 122,1160.1 122.5,1158.1 122.5,1160.4 123.1,1162.6 122.9,1164.9 123.6,1167.1 123.5,1169.4 124,1171.6 124.1,1173.9 124.5,1171.7 124.2,1169.5 124.8,1167.4 124.6,1165.1 125.2,1163 125.1,1160.8 125.5,1158.6 125.5,1156.4 126.1,1158.5 126.1,1160.7 126.6,1162.8 126.8,1165 127.2,1167.1 127.7,1164.5 128.6,1162.1 128.8,1164.2 129.7,1166.2 130.1,1168.3 130.2,1170.3 130.7,1172.3 130.5,1174.4 131.3,1176.3 131.2,1178.4 131.7,1180.2 132.8,1181.8 133.4,1183.5 134.2,1181.1 134.4,1178.6 135.1,1176.2 135.5,1174.2 135.4,1172.1 136.2,1170.1 136,1168 136.5,1166 138,1167.1 138.5,1164.9 138.3,1162.6 138.9,1160.4 138.6,1158.1 139.1,1155.9 139.9,1153.9 140.1,1151.7 140.8,1149.7 140.9,1151.8 141.2,1153.9 141.2,1156 141.6,1158.1 141.4,1160.3 142.1,1162.4 141.7,1164.5 142.1,1166.6 142.2,1164.4 142.8,1162.3 142.9,1160.2 143.5,1158.1 143.6,1155.9 144.1,1158.1 143.9,1160.4 144.4,1162.7 144.3,1164.9 144.8,1167.2 144.6,1169.5 145.1,1171.7 147,1169.4 147.6,1171.2 147.6,1173.2 148.1,1175 148.8,1177.2 149.1,1179.6 149.8,1181.8 150.8,1183.8 151.3,1186 152.3,1188 152.5,1185.8 153.1,1183.7 153.1,1181.5 153.7,1179.3 153.8,1177.1 154.3,1175 154.7,1177.4 155.6,1179.7 155.7,1182.2 156.4,1184.6 156.2,1182.5 156.8,1180.4 156.5,1178.3 156.9,1176.2 156.8,1174.1 157.2,1172 157,1169.9 157.3,1167.8 157.1,1165.7 157.7,1163.6 157.5,1161.5 158,1163.3 158.2,1165.3 158.8,1167.1 158.8,1164.8 159.3,1162.6 159,1160.3 159.5,1158.1 159.1,1155.8 159.6,1153.6 159.4,1151.3 159.7,1149.1 160.3,1146.8 160.1,1144.3 160.8,1142 160.6,1139.6 161.1,1137.2 161,1139.6 161.6,1141.9 161.4,1144.3 162.1,1146.6 161.8,1149 162.2,1151.3 162.5,1148.8 163.3,1146.5 163.6,1144 164,1146.3 163.7,1148.7 164.2,1151 164,1153.4 164.7,1155.7 164.4,1158.1 164.7,1160.4 165.6,1162 166.2,1163.8 166.5,1165.8 167.3,1167.7 167.2,1165.6 167.7,1163.5 167.4,1161.3 167.8,1159.2 167.6,1157.1 168,1155 167.7,1152.9 168.3,1150.8 167.9,1148.6 168.4,1146.5 168,1144.4 168.4,1142.3 168.7,1144.1 169.6,1145.7 169.5,1143.3 170.3,1141 170,1138.6 170.8,1136.3 170.6,1133.9 171,1131.6 171.4,1134.1 172.5,1136.4 172.9,1138.9 173.1,1141.4 173.9,1143.8 174.1,1146.3 174,1148.5 174.6,1150.7 174.3,1152.9 174.9,1155 174.5,1157.3 175.1,1159.4 174.8,1161.6 175.2,1163.8 175.8,1166.1 175.5,1168.6 176.3,1170.9 176.2,1173.3 176.7,1175.6 176.7,1173.4 177.3,1171.3 177.3,1169.2 178,1167.1 178,1164.9 178.2,1162.6 179.1,1160.4 179.1,1158.1 179.7,1155.9 179.7,1158.3 180.4,1160.6 180.6,1163 181.1,1165.3 181,1167.7 181.6,1170 181.6,1167.9 182,1165.8 181.9,1163.7 182.4,1161.7 182.1,1159.5 182.6,1157.5 182.4,1155.4 182.9,1153.3 182.8,1151.2 183.1,1149.1 184.6,1148 184.8,1150 185.6,1152 185.6,1154.1 186.3,1156 186.5,1158.1 186.9,1155.9 186.9,1153.7 187.4,1151.6 187.3,1149.4 187.8,1147.3 187.8,1145 188.2,1142.9 188.3,1145.3 189,1147.6 188.9,1150 189.6,1152.3 189.5,1154.7 189.9,1157 190,1154.6 190.6,1152.2 190.6,1149.8 191,1147.4 191.5,1145 191.5,1142.6 192.1,1140.3 191.9,1137.8 192.5,1135.5 192.5,1137.6 193,1139.7 192.7,1141.9 193.3,1144 193.1,1146.1 193.6,1148.2 193.5,1150.4 193.8,1152.5 194.2,1154.7 194,1157 194.4,1159.3 194.4,1161.5 194.9,1163.8 194.7,1166.1 195,1168.3 195.7,1170.5 196.1,1172.8 196.5,1170.8 196.4,1168.7 197,1166.7 196.8,1164.6 197.5,1162.6 197.5,1160.5 198,1158.5 198.1,1156.4 198.5,1158.7 198.3,1161.1 199.1,1163.4 198.9,1165.8 199.4,1168.1 199.5,1170.5 200,1168.5 199.9,1166.5 200.7,1164.6 200.8,1162.6 201.1,1164.7 200.9,1166.8 201.7,1168.8 201.5,1170.9 202.1,1172.9 202,1175 202.4,1172.8 202.2,1170.5 202.8,1168.3 202.4,1166 203.1,1163.8 202.9,1161.5 203.5,1159.3 203.4,1157 203.8,1154.7 204.8,1152.5 205.1,1150.2 205.5,1152.4 205.6,1154.7 206.1,1157 206.1,1159.3 206.5,1161.5 206.6,1159.2 207.1,1157 207.1,1154.7 207.7,1152.5 207.4,1150.2 207.9,1148 208.3,1149.9 209.2,1151.7 209.6,1153.6 209.7,1155.9 210.6,1158.1 210.4,1160.4 211.2,1162.6 211.3,1164.9 211.7,1162.8 211.3,1160.6 212,1158.5 211.7,1156.4 212,1154.2 211.8,1152.1 212.4,1150 212,1147.8 212.6,1145.7 212.3,1143.5 212.9,1141.4 212.6,1139.3 213.1,1137.1 213,1135 213.5,1137.1 213.3,1139.2 213.9,1141.3 213.7,1143.4 214.4,1145.5 214.2,1147.6 214.7,1149.7 214.7,1147.4 215.5,1145.2 215.3,1142.9 215.8,1140.7 215.6,1138.4 216.3,1136.2 216.4,1133.9 217.3,1132.4 218.4,1131 218.3,1133.2 218.8,1135.3 218.6,1137.5 219.2,1139.6 218.9,1141.8 219.4,1143.9 219.1,1146.1 219.5,1148.2 219.4,1150.4 219.8,1152.5 219.8,1154.7 220.2,1157 220.9,1159.2 221.6,1157.5 222.6,1155.9 222.7,1158.3 223.5,1160.6 223.2,1163 224,1165.3 224.1,1167.7 224.6,1165.6 224.6,1163.4 225.2,1161.3 225.2,1159.1 225.7,1157 226.8,1154.8 227.5,1152.5 227.8,1154.6 227.5,1156.8 228.2,1158.9 227.8,1161.1 228.3,1163.2 228.2,1165.3 228.6,1167.4 228.5,1169.6 228.8,1171.7 229.2,1174.1 229.2,1176.5 229.9,1178.9 229.9,1181.3 230.4,1179.1 230,1176.9 230.6,1174.7 230.3,1172.4 230.8,1170.3 230.8,1168 231.4,1165.9 231.1,1163.6 231.6,1161.4 231.6,1159.2 231.7,1157.1 232.2,1155 232,1152.8 232.6,1150.8 232.3,1148.6 233,1146.5 232.7,1144.4 233.1,1142.3 233.3,1144.4 233.7,1146.4 233.6,1148.5 234.4,1150.5 234.2,1152.7 234.7,1154.7 234.6,1152.4 235.2,1150.1 234.9,1147.7 235.5,1145.5 235.3,1143.1 235.8,1140.8 235.7,1138.5 236.2,1136.2 236.2,1133.9 236.6,1136.2 236.5,1138.6 237,1140.9 236.8,1143.3 237.6,1145.6 237.6,1148 237.7,1150 238.3,1152 238.5,1154.1 239.1,1156.1 239.2,1158.1 239.4,1160.3 239.9,1162.5 239.7,1164.7 240.5,1166.8 240.3,1169.1 241,1171.2 241,1173.4 241.3,1171 241.2,1168.6 241.9,1166.3 241.7,1163.9 242.4,1161.6 242.4,1159.2 242.8,1161.5 242.8,1163.8 243.5,1166 243.3,1168.3 244,1170.5 244.1,1172.8 244.4,1170.5 244.1,1168.3 244.6,1166 244.5,1163.7 245,1161.5 244.7,1159.2 245.2,1157 245.1,1154.7 245.5,1152.5 245.5,1150.2 246,1152.5 245.9,1155 246.5,1157.3 246.5,1159.7 246.9,1162.1 247.2,1160 247.9,1158 248.2,1155.9 248.8,1158.1 248.7,1160.4 249.3,1162.6 249.3,1164.9 249.8,1167.1 250,1169.4 250.5,1167.4 250.7,1165.4 251.5,1163.5 251.7,1161.5 252.3,1163.3 252.3,1165.3 252.8,1167.1 252.7,1164.8 253.2,1162.6 253,1160.3 253.5,1158.1 253.1,1155.8 253.7,1153.6 253.4,1151.3 253.9,1149.1 253.6,1146.8 254,1144.6 254,1142.3 254.4,1144.4 254.1,1146.6 254.7,1148.7 254.5,1150.8 255,1153 254.8,1155.1 255.3,1157.2 255.1,1159.4 255.4,1161.5 255.8,1163.5 255.9,1165.6 256.5,1167.6 256.6,1169.7 257,1171.7 257.3,1169.7 258,1167.8 258,1165.7 258.5,1163.8 258.7,1165.8 259.4,1167.7 259.3,1169.8 259.9,1171.7 260.2,1169.4 260.9,1167.2 261.3,1164.9 261.3,1162.6 261.8,1160.4 261.7,1158.1 262.2,1155.8 262,1153.5 262.4,1151.3 262.5,1153.7 263.2,1156 263.2,1158.5 264,1160.8 264.1,1163.2 264.4,1160.8 264.3,1158.4 265.1,1156.1 264.7,1153.7 265.2,1151.3 265.9,1153.1 266.9,1154.7 267.7,1156.9 268.3,1159.2 268.3,1161.3 268.7,1163.5 268.7,1165.6 269.1,1167.7 269,1169.9 269.5,1172 269.2,1174.2 269.9,1176.2 269.8,1178.4 270.1,1176.2 269.8,1173.9 270.4,1171.6 270,1169.4 270.6,1167.1 270.4,1164.9 270.8,1162.6 270.5,1160.3 270.9,1158.1 270.8,1160.2 271.6,1162.3 271.3,1164.4 271.9,1166.5 271.7,1168.6 272.4,1170.7 272.3,1172.8 272.7,1170.8 272.7,1168.7 273.3,1166.7 273.3,1164.6 273.7,1162.6 274.2,1160.5 274.1,1158.4 275,1156.3 275.1,1154.2 275.5,1156.4 275.4,1158.6 275.9,1160.7 275.7,1162.9 276.4,1165 276.2,1167.2 276.5,1169.4 276.9,1167.1 277.7,1164.9 278,1162.6 278.1,1160.4 278.6,1158.3 278.4,1156.1 279,1154 279,1151.8 279.3,1149.7 279.4,1152 279.9,1154.2 279.6,1156.5 280.3,1158.7 280.1,1161 280.7,1163.2 280.6,1165.5 281,1167.7 281,1165.5 281.5,1163.4 281.1,1161.2 281.8,1159.1 281.4,1156.9 282,1154.8 281.9,1152.6 282.4,1150.5 282.1,1148.3 282.5,1146.1 282.3,1143.9 282.7,1141.8 282.7,1144.1 283.3,1146.4 283.2,1148.8 283.7,1151.1 283.5,1153.4 284.2,1155.7 284,1158.1 284.4,1160.4 284.3,1158.2 285,1156.1 284.7,1153.9 285.2,1151.8 285.1,1149.6 285.6,1147.5 285.5,1145.3 285.9,1143.2 285.8,1141 286.1,1138.9 286.4,1141.2 287.1,1143.4 287.2,1145.8 287.8,1148 288,1145.7 288.7,1143.5 288.9,1141.2 289.4,1139.4 290.4,1137.8 290.5,1140.1 291.1,1142.3 290.8,1144.6 291.5,1146.8 291.3,1149.1 291.8,1151.3 292.1,1148.7 292.9,1146.3 292.8,1148.6 293.4,1150.9 293.2,1153.2 293.7,1155.5 293.5,1157.9 294.1,1160.1 293.7,1162.5 294.3,1164.8 294.2,1167.1 294.4,1169.4 295.1,1171.6 295.1,1173.9 295.4,1171.7 295.2,1169.5 295.7,1167.3 295.5,1165.1 296,1163 295.8,1160.8 296.4,1158.6 296.3,1156.4 296.7,1158.7 296.6,1161.1 297.2,1163.4 297.1,1165.8 297.8,1168.1 297.7,1170.5 298,1172.8 298.3,1170.8 299.1,1168.9 299.2,1166.9 299.7,1164.9 300,1167.2 301,1169.4 301.4,1171.7 303,1173.9 303.7,1171.7 303.6,1169.3 304.4,1167.1 304.9,1165.1 304.8,1163 305.5,1161.1 305.4,1159 305.9,1157 306.1,1159 306.9,1161 306.8,1163.1 307.4,1165.1 307.6,1167.1 308.2,1164.8 308.1,1162.4 308.8,1160.1 308.8,1157.6 309.3,1155.3 309.4,1157.7 310.1,1160 310,1162.4 310.8,1164.7 310.9,1167.1 311.9,1169.4 311.9,1171.8 312.5,1174.1 312.4,1176.5 313.1,1178.8 312.9,1181.2 313.4,1183.5 313.6,1181.1 314.1,1178.8 314.2,1176.4 314.7,1174.1 314.9,1171.7 315,1169.6 315.8,1167.7 315.7,1165.6 316.3,1163.6 316.4,1161.5 316.7,1163.6 316.6,1165.7 317,1167.8 316.7,1170 317.3,1172 317.1,1174.2 317.5,1176.3 317.5,1178.4 317.8,1176.3 317.6,1174.1 318.1,1172 317.8,1169.8 318.2,1167.7 318,1165.6 318.4,1163.4 318.2,1161.3 318.6,1159.1 318.6,1157 319.2,1159.1 319,1161.4 319.8,1163.5 319.6,1165.7 320.3,1167.8 320.5,1170 321,1167.8 320.7,1165.6 321.4,1163.5 321.1,1161.2 321.8,1159.1 321.5,1156.8 322.1,1154.7 322.2,1152.5 322.6,1150.4 323.3,1148.4 323.6,1146.3 323.6,1144 324.4,1141.8 324.3,1139.5 324.7,1137.2 324.9,1139.4 325.7,1141.5 325.7,1143.7 326.3,1145.8 326.5,1148 326.6,1150.4 327.4,1152.8 327.4,1155.2 327.9,1157.6 327.7,1155.5 328.3,1153.4 328.1,1151.3 328.5,1149.2 328.2,1147.1 328.8,1145.1 328.5,1143 329,1140.9 328.7,1138.8 329,1136.7 330.4,1133.9 330.3,1136.2 330.8,1138.4 330.5,1140.7 331.2,1142.9 330.8,1145.2 331.4,1147.4 331.2,1149.7 331.5,1151.9 331.7,1149.8 332.7,1147.8 333,1145.7 333.3,1147.9 333.3,1150.2 333.9,1152.4 333.6,1154.7 334.3,1156.9 334.4,1159.2 335,1157 335.1,1154.7 335.8,1152.5 336,1150.2 336.5,1152.4 336.3,1154.6 337,1156.7 336.8,1159 337.4,1161.1 337.3,1163.3 337.8,1165.5 338,1167.7 338.5,1165.7 338.6,1163.5 339.2,1161.5 339.6,1159.5 339.5,1157.3 340.1,1155.3 339.9,1153.2 340.5,1151.2 340.5,1149.1 341.1,1146.8 342,1144.6 342.6,1146.4 343.7,1148 344,1150.2 343.6,1152.5 344.1,1154.7 344,1157 344.4,1159.2 344.3,1161.5 344.7,1163.7 344.6,1166 345.3,1164.2 345.3,1162.2 345.9,1160.4 345.9,1162.7 346.6,1164.9 346.3,1167.2 347,1169.4 347,1171.7 347.3,1173.9 347.6,1171.6 348.6,1169.4 348.8,1167.1 348.8,1165.1 349.5,1163.2 349.4,1161.1 349.9,1159.2 350.3,1156.8 350.2,1154.4 350.9,1152.1 351,1149.7 352,1152.1 352.5,1154.7 353,1152.5 352.7,1150.2 353.3,1147.9 353.1,1145.7 353.6,1143.4 353.5,1141.1 353.8,1138.9 353.8,1141.2 354.5,1143.4 354.2,1145.7 354.9,1147.9 354.5,1150.2 355.2,1152.4 355.2,1154.7 355.4,1157.2 356.3,1159.6 356.7,1162.1 357.2,1160 357,1157.9 357.5,1155.8 357.3,1153.7 358,1151.6 357.8,1149.5 358.1,1147.4 358.1,1149.6 358.6,1151.8 358.3,1154 358.9,1156.1 358.6,1158.4 359.2,1160.5 358.9,1162.7 359.3,1164.9 359.8,1167.1 359.8,1169.4 360.4,1171.6 360.6,1173.9 361,1176.4 361.9,1178.8 362.3,1181.3 363,1178.9 363.1,1176.3 363.8,1173.9 364.1,1171.7 363.9,1169.5 364.4,1167.4 364.1,1165.2 364.7,1163.1 364.5,1160.9 364.9,1158.7 365,1160.8 365.4,1162.9 365.3,1165 365.9,1167.1 365.8,1169.2 366.3,1171.3 366.3,1173.4 366.7,1171.3 366.5,1169.2 367.1,1167.2 367,1165.1 367.6,1163 367.6,1160.9 368,1163.1 367.7,1165.4 368.2,1167.7 367.8,1169.9 368.4,1172.2 368.2,1174.5 368.6,1176.7 368.4,1179 368.9,1181.2 368.6,1183.5 369.2,1185.7 369.1,1188 369.3,1185.8 369.2,1183.6 369.6,1181.4 369.4,1179.2 370,1177 369.6,1174.7 370.2,1172.6 369.8,1170.3 370.4,1168.1 370.1,1165.9 370.6,1163.7 370.5,1161.5 370.6,1159.5 371.2,1157.6 371.2,1155.5 371.7,1153.6 372.1,1156.1 373.2,1158.4 373.6,1160.9 374.6,1158.4 375.3,1155.9 375.6,1153.8 376.3,1151.7 376.4,1149.5 377,1147.4 377.2,1149.8 377.9,1152.2 377.8,1154.6 378.4,1157 378.8,1159.2 378.6,1161.5 379.2,1163.8 378.9,1166 379.4,1168.3 379.3,1170.6 379.6,1172.8 379.9,1175 379.9,1177.2 380.4,1179.3 380,1181.5 380.8,1183.6 380.5,1185.8 380.9,1188 381,1185.7 381.6,1183.5 381.4,1181.2 382.1,1179 381.9,1176.7 382.3,1174.5 382.4,1176.6 383.2,1178.7 383.1,1180.8 383.7,1182.9 383.7,1180.6 384.5,1178.4 384.4,1176.1 385.2,1174 385.2,1171.7 385.2,1169.5 385.8,1167.3 385.6,1165.1 386.2,1163 386,1160.8 386.4,1158.6 386.2,1156.4 386.6,1154.2 387.2,1156.2 388.3,1158.1 388.9,1160.2 388.8,1162.5 389.4,1164.6 389.3,1166.9 390.1,1169 390,1171.2 390.5,1173.4 390.6,1171.2 391.2,1169.1 391.1,1166.9 391.5,1164.8 391.6,1162.6 392.6,1164.8 393.3,1167.1 393.7,1165 393.7,1162.9 394.3,1160.8 394.2,1158.6 394.9,1156.6 394.9,1154.4 395.4,1152.3 395.6,1150.2 396.1,1152.4 395.9,1154.6 396.6,1156.7 396.5,1159 397.2,1161.1 397.2,1163.3 397.6,1165.5 397.7,1163.3 398.6,1161.2 398.6,1159 399.3,1156.9 399.5,1154.7 399.9,1156.7 399.9,1158.8 400.7,1160.8 400.6,1162.9 401.2,1164.9 401.8,1167.1 401.8,1169.5 402.7,1171.6 402.9,1173.9 403.4,1171.9 403.2,1169.7 403.8,1167.7 403.8,1165.6 404.3,1163.6 404.4,1161.5 404.8,1163.6 404.8,1165.9 405.4,1168 405.3,1170.2 405.9,1172.3 406,1174.5 406.5,1172.3 406.2,1170 406.8,1167.7 406.6,1165.5 407.1,1163.2 407,1160.9 407.4,1158.7 407.3,1156.4 407.7,1154.2 407.8,1151.9 408.3,1154.3 408.2,1156.7 409,1159 408.8,1161.5 409.4,1163.8 409.3,1161.6 409.9,1159.4 409.8,1157.2 410.2,1155.1 410.1,1152.8 410.7,1150.7 410.5,1148.5 410.8,1146.3 411.4,1148.1 412.5,1149.7 412.9,1151.9 412.7,1154.1 413.1,1156.3 412.9,1158.5 413.3,1160.7 413.1,1162.9 413.6,1165.1 413.4,1167.3 413.9,1169.5 413.9,1171.7 414.6,1169.5 414.7,1167.1 415.3,1164.9 415.4,1167.1 416.1,1169.2 416.1,1171.4 416.8,1173.4 417,1175.6 417.2,1173.4 417,1171.2 417.5,1169 417.2,1166.7 417.9,1164.6 417.5,1162.3 418,1160.1 417.8,1157.9 418.3,1155.7 418.1,1153.5 418.4,1151.3 419,1149.2 419,1147 419.9,1145 420.2,1142.9 420.6,1145.2 420.4,1147.6 421,1149.9 420.8,1152.2 421.4,1154.5 421.1,1156.9 421.6,1159.2 421.9,1161.3 421.7,1163.5 422.2,1165.6 422,1167.8 422.6,1169.9 422.3,1172.1 423,1174.2 422.8,1176.4 423.3,1178.5 423.3,1180.7 423.6,1178.4 423.5,1176.1 424.2,1173.9 424,1171.6 424.7,1169.4 424.7,1167.1 425.1,1169.1 425,1171.2 425.6,1173.2 425.5,1175.3 426.1,1177.3 426,1179.4 426.5,1181.4 426.6,1183.5 427,1181.2 426.8,1178.8 427.5,1176.6 427.2,1174.2 427.9,1171.9 427.6,1169.5 428.2,1167.2 428.3,1164.9 429.3,1167.1 429.7,1169.4 430.1,1167.2 429.9,1164.8 430.6,1162.6 430.3,1160.3 430.9,1158.1 430.8,1155.8 431.5,1153.6 431.5,1151.3 431.9,1153.4 431.6,1155.5 432.1,1157.6 432.1,1159.7 432.6,1161.8 432.3,1164 432.9,1166 432.7,1168.2 433.2,1170.3 433,1172.4 433.4,1174.5 433.3,1172.2 434,1169.9 433.8,1167.5 434.4,1165.2 434.2,1162.8 435,1160.6 434.6,1158.2 435.1,1155.9 435.1,1158 435.7,1160.1 435.7,1162.2 436.2,1164.2 436.2,1166.3 436.9,1168.4 436.8,1170.5 437.3,1168.5 437.3,1166.4 437.9,1164.3 437.7,1162.2 438.4,1160.2 438.5,1158.1 439.1,1160.1 438.9,1162.2 439.8,1164.2 439.6,1166.3 440.2,1168.3 440.2,1166 440.9,1163.8 440.8,1161.5 441.5,1159.3 441.4,1156.9 441.9,1154.7 442,1156.8 442.5,1158.8 442.4,1160.8 442.9,1162.8 443,1164.9" fill="none" stroke="#262324" stroke-width="3.5" stroke-linejoin="round" stroke-linecap="round"/>
<polyline points="62.9,1236.5 63.2,1233.9 64,1231.5 65.7,1233.1 65.9,1235.4 66.9,1237.6 67.2,1239.9 68.3,1240.5 68.7,1238.2 68.2,1235.8 68.9,1233.5 68.7,1231.1 69,1228.8 68.8,1226.4 69.1,1224.1 69.2,1226.3 70.1,1228.3 70,1230.5 70.6,1232.6 70.6,1230.2 71.1,1227.9 70.8,1225.6 71.4,1223.2 71.3,1220.9 71.7,1218.6 71.7,1216.2 73.6,1216.8 74,1219.1 73.8,1221.5 74.4,1223.8 74,1226.1 74.6,1228.4 74.5,1230.8 74.8,1233.1 74.8,1230.8 75.5,1228.6 75.2,1226.4 76,1224.2 75.9,1221.9 76.2,1223.9 76.2,1226 76.7,1227.9 76.5,1230 77,1232 77.3,1234.2 77,1236.5 77.4,1238.8 77.2,1241 77.8,1243.3 77.3,1245.5 77.8,1247.8 77.5,1250 78.1,1252.3 77.7,1254.6 78.1,1256.8 78.1,1254.7 78.7,1252.6 78.5,1250.5 78.9,1248.5 78.7,1246.3 79.3,1244.3 79.3,1242.2 79.5,1239.9 80.4,1237.7 80.7,1235.4 81.5,1233.1 81.5,1230.8 82.2,1228.6 82.2,1226.3 82.7,1224.1 82.8,1226.4 83.3,1228.6 83.1,1230.9 83.8,1233.1 83.8,1235.4 84.1,1237.7 84.7,1239.9 84.7,1242.2 85.5,1244.4 85.7,1246.7 86.2,1244.7 86,1242.6 86.7,1240.6 86.6,1238.5 87.2,1236.5 87.3,1238.6 87.8,1240.7 87.7,1242.9 88.2,1245 88,1247.1 88.7,1249.2 88.4,1251.4 88.9,1253.5 88.9,1251.2 89.5,1249 89.1,1246.7 89.6,1244.4 89.5,1242.2 90.1,1239.9 89.8,1237.6 90.2,1235.4 90.2,1233.1 91.3,1231.5 91.7,1233.6 91.5,1235.8 92.3,1237.9 92.2,1240.1 92.8,1242.2 92.8,1244.4 93.4,1242.2 93.3,1239.9 93.9,1237.7 95.4,1236.5 96,1234.3 95.8,1232 96.6,1229.8 96.8,1227.5 97.1,1225.2 97.8,1223 97.9,1220.7 98.5,1218.5 98.5,1220.5 99.2,1222.4 99.1,1224.5 99.6,1226.4 100.2,1228.4 100.1,1230.5 100.8,1232.4 100.8,1234.5 101.3,1236.5 101.3,1234.2 102.1,1232 102,1229.7 102.6,1227.5 102.6,1225.2 103.8,1222.4 104.3,1224.7 104,1227.1 104.6,1229.4 104.4,1231.8 104.9,1234.1 104.9,1236.5 105.2,1238.8 106.7,1236.5 106.8,1234.2 107.3,1232 107.3,1229.7 107.9,1227.5 108,1225.2 108.3,1223.2 108.9,1221.3 108.8,1219.2 109.4,1217.3 109.4,1219.6 110.1,1221.8 109.9,1224.1 110.4,1226.3 110.3,1228.6 110.9,1230.8 110.9,1233.1 111.4,1231 111.3,1228.9 111.9,1226.8 112,1224.7 112.4,1227 112.3,1229.4 112.9,1231.7 112.9,1234.1 113.4,1236.4 113.5,1238.8 113.7,1240.8 114.4,1242.7 114.2,1244.8 114.8,1246.7 115.8,1249.2 116.5,1251.8 116.7,1249.7 116.5,1247.5 116.9,1245.4 116.6,1243.3 117.2,1241.1 116.8,1239 117.4,1236.9 117,1234.7 117.3,1232.6 117.4,1234.7 118.3,1236.8 118.2,1238.9 118.8,1241 119.1,1243.1 119,1245.2 119.5,1247.2 119.3,1249.4 119.9,1251.4 119.9,1253.5 120.5,1251.3 120.6,1248.9 121.3,1246.7 121.6,1244.4 121.6,1242.1 122.2,1239.9 122,1237.6 122.6,1235.4 122.3,1233.1 122.7,1230.9 123,1233.2 123.7,1235.4 123.7,1237.7 124.4,1239.9 124.6,1237.9 125.1,1236 125,1233.9 125.5,1232 125.9,1230 126,1228 126.6,1226.1 126.7,1224.1 127.6,1226.3 128.1,1228.6 128.1,1230.7 128.7,1232.8 128.3,1235 129,1237.1 128.7,1239.2 129.3,1241.3 129.1,1243.5 129.5,1245.6 129.5,1243.5 130.2,1241.5 130.1,1239.3 130.9,1237.3 130.7,1235.2 131.2,1233.1 131.2,1235.3 131.7,1237.5 131.4,1239.7 132,1241.9 131.8,1244.2 132.3,1246.3 132.1,1248.6 132.7,1250.8 132.3,1253 132.9,1255.2 132.9,1257.4 133.7,1255.4 133.9,1253.2 134.6,1251.2 135.2,1249 135,1246.7 135.7,1244.5 135.6,1242.1 136,1239.9 136.5,1237.7 136.5,1235.4 137.2,1233.2 137.4,1230.9 137.5,1228.8 138.1,1226.8 138,1224.8 138.6,1222.8 138.7,1220.7 139.2,1223 139.3,1225.3 140,1227.5 140.2,1229.8 140.5,1227.7 140.3,1225.6 141.1,1223.6 140.9,1221.5 141.4,1219.4 141.2,1217.3 141.6,1215.3 141.5,1213.2 141.9,1211.1 142.7,1213.4 143.6,1215.7 143.9,1217.9 143.6,1220.1 143.9,1222.3 143.8,1224.6 144.2,1226.8 143.9,1229 144.3,1231.2 144.1,1233.4 144.4,1235.6 144.3,1237.8 144.7,1240 144.4,1242.3 144.8,1244.5 144.7,1246.7 145.1,1244.6 144.8,1242.4 145.3,1240.3 145.1,1238.1 145.8,1236.1 145.4,1233.9 146,1231.8 145.7,1229.6 146.2,1227.5 146.3,1229.5 147.1,1231.4 147.1,1233.4 147.6,1235.4 147.9,1237.6 147.6,1239.9 148.4,1242.2 148.1,1244.4 148.7,1246.7 148.4,1249 148.7,1251.2 149.2,1253 149.2,1255 149.8,1256.8 149.9,1254.8 150.4,1252.8 150.3,1250.7 151,1248.8 150.9,1246.7 151.6,1248.5 151.9,1250.5 152.6,1252.3 152.9,1250 153.9,1247.9 154.3,1245.6 154.4,1243.5 155,1241.5 155.1,1239.3 155.7,1237.3 155.4,1235.1 156,1233.1 156.6,1230.9 156.7,1228.6 157.4,1226.4 157.7,1224.1 158.1,1226.3 157.8,1228.6 158.4,1230.9 158.1,1233.2 158.6,1235.4 158.6,1233.2 158.9,1231.1 158.5,1228.9 159.1,1226.7 158.7,1224.5 159.2,1222.4 158.8,1220.2 159.2,1218 158.9,1215.9 159.4,1213.7 158.9,1211.5 159.4,1209.4 159.2,1207.2 159.6,1205 159.2,1202.8 159.8,1200.7 159.4,1198.5 159.8,1196.3 159.5,1194.2 159.7,1192 161.1,1194.8 160.9,1197 161.6,1199.1 161.1,1201.3 161.7,1203.5 161.4,1205.7 161.8,1207.8 161.5,1210 162,1212.1 161.6,1214.3 162.1,1216.5 161.9,1218.7 162.3,1220.8 162.2,1223 162.6,1225.3 163.5,1227.5 163.9,1229.8 164.2,1232.1 165,1234.2 165.4,1236.5 166.5,1238.8 166.9,1236.7 166.7,1234.6 167.3,1232.5 167,1230.3 167.6,1228.3 167.5,1226.1 168,1224 167.9,1221.9 168.3,1220 169.3,1218.2 169.6,1216.2 170.1,1218.4 169.8,1220.7 170.3,1223 170.2,1225.2 170.7,1227.5 170.7,1229.8 171,1232 170.9,1229.7 171.6,1227.5 171.4,1225.2 171.8,1223 171.7,1220.7 172.2,1218.5 172.1,1216.2 172.4,1214 172.9,1212 172.7,1209.9 173.3,1207.9 173.3,1205.8 173.7,1203.8 173.6,1206.1 174.2,1208.3 173.9,1210.6 174.4,1212.8 174.3,1215.1 174.8,1217.4 174.5,1219.7 174.9,1221.9 175.2,1224 175,1226.1 175.5,1228.2 175.4,1230.4 175.9,1232.5 175.7,1234.6 176.4,1236.7 176.3,1238.8 176.4,1241.2 177,1243.6 177,1246 177.5,1248.4 177.6,1246 178.4,1243.6 178.3,1241.2 178.9,1238.8 179.4,1240.6 180.5,1242.2 180.8,1239.9 181.6,1237.7 181.7,1235.3 182.3,1233.1 182.9,1230.9 183.1,1228.6 184,1226.4 184.2,1224.1 186.5,1221.9 187,1224 186.7,1226.1 187.4,1228.1 187.1,1230.3 187.8,1232.3 187.6,1234.4 188,1236.5 188,1234.2 188.3,1232 188.2,1229.7 188.5,1227.5 188.2,1225.2 188.8,1223 188.4,1220.7 189,1218.5 188.7,1216.2 189.1,1213.9 188.9,1211.7 189.3,1209.4 188.9,1207.1 189.3,1204.9 189.4,1207 189.9,1209 189.7,1211.1 190.3,1213.2 190.3,1215.3 190.7,1217.3 190.8,1215.2 191.3,1213.2 191.2,1211.1 191.8,1209 191.6,1206.9 192.1,1204.9 192.2,1207.2 192.6,1209.4 192.3,1211.7 193,1213.9 192.7,1216.2 193.3,1218.4 193,1220.7 193.6,1222.9 193.6,1225.2 193.6,1227.5 194.1,1229.7 194,1232 194.5,1234.2 194.4,1236.5 194.9,1234.5 194.8,1232.3 195.4,1230.3 195.3,1228.2 196.1,1226.2 196.1,1224.1 197.8,1223 198.2,1225.1 198.1,1227.1 198.6,1229.2 198.5,1231.3 199.1,1233.3 199.2,1235.4 199.8,1233.4 199.9,1231.3 200.6,1229.3 200.7,1227.2 201.2,1225.2 201.9,1223 201.9,1220.7 202.8,1218.5 202.9,1216.2 203.2,1218.4 203.1,1220.7 203.6,1223 203.3,1225.2 203.8,1227.5 203.7,1229.8 204,1232 203.9,1229.8 204.5,1227.6 204.4,1225.4 204.8,1223.3 204.6,1221 205.2,1218.9 205,1216.7 205.3,1214.5 205.4,1216.7 206,1218.8 206.1,1220.9 206.7,1223 206.8,1225.2 207.1,1227.2 207.8,1229.1 207.8,1231.2 208.5,1233.1 208.5,1230.8 209.2,1228.6 209,1226.3 209.8,1224.1 209.6,1221.8 210.1,1219.6 210,1217.3 210.5,1215.1 210.5,1217.4 211.2,1219.6 211,1221.9 211.7,1224.1 211.4,1226.4 211.9,1228.6 211.9,1226.3 212.6,1224.1 212.3,1221.8 213,1219.6 212.8,1217.3 213.3,1215.1 213.3,1212.8 213.8,1210.6 213.9,1208.3 214.2,1210.4 214.1,1212.6 214.5,1214.7 214.3,1216.8 214.9,1219 214.7,1221.1 215.2,1223.2 215,1225.4 215.3,1227.5 215.4,1225.3 215.8,1223.1 215.7,1220.9 216.3,1218.8 216.2,1216.5 216.8,1214.4 216.7,1212.2 217,1210 219.2,1211.7 219.4,1214 220,1216.2 219.8,1218.5 220.6,1220.7 220.7,1223 221,1225.3 221.8,1227.5 221.9,1229.8 222.6,1232 223.1,1234.2 223.1,1236.6 223.7,1238.8 223.8,1236.5 224.4,1234.3 224.3,1232 225,1229.8 224.9,1227.4 225.4,1225.2 226.2,1223 226.3,1220.7 227.1,1218.5 227.1,1220.6 227.8,1222.7 227.5,1224.9 228.1,1226.9 227.9,1229.1 228.5,1231.2 228.4,1233.3 228.8,1235.4 229.6,1237.2 229.7,1239.2 230.5,1241 232.2,1242.2 232.1,1240.1 232.6,1237.9 232.3,1235.8 232.9,1233.7 232.7,1231.5 233.1,1229.4 232.9,1227.3 233.4,1225.1 233.3,1223 233.3,1220.8 234,1218.7 233.9,1216.5 234.5,1214.4 234.2,1212.1 234.7,1210 235.5,1212.3 236.7,1214.5 237,1216.7 236.9,1218.9 237.3,1221.1 237.2,1223.3 237.8,1225.4 237.5,1227.6 238,1229.8 238.1,1232 238.9,1234.6 240.1,1237.1 240.2,1234.8 240.8,1232.6 240.8,1230.3 241.5,1228.1 241.4,1225.8 241.8,1223.6 241.9,1226 242.5,1228.3 242.4,1230.7 242.9,1233 242.9,1235.4 243.3,1237.7 244.6,1238.9 245.5,1240.5 245.8,1238.3 245.8,1236.1 246.5,1234 246.3,1231.8 246.9,1229.7 246.9,1227.5 247,1225.1 247.8,1222.8 247.7,1220.4 248.6,1218.1 248.6,1215.7 249.5,1218.1 250,1220.7 250,1223 250.6,1225.2 250.5,1227.5 251,1229.7 250.9,1232 251.3,1234.2 251.4,1236.5 251.8,1234.2 251.5,1231.8 252.1,1229.5 251.9,1227.2 252.5,1224.9 252.3,1222.5 252.7,1220.2 252.8,1217.9 253.1,1220 252.9,1222.2 253.4,1224.3 253.1,1226.5 253.6,1228.6 253.5,1230.7 253.9,1232.8 253.8,1235 254,1237.1 254,1234.9 254.7,1232.8 254.5,1230.6 255.1,1228.4 254.9,1226.2 255.6,1224.1 255.6,1221.9 256,1223.9 256.1,1226 256.9,1227.9 256.7,1230 257.3,1232 257.9,1229.7 258.8,1227.5 259,1229.7 259.8,1231.7 259.6,1233.9 260.2,1236 260.9,1233.4 261.9,1230.9 262.6,1229.1 262.9,1227.1 263.5,1225.2 263.7,1227.2 264.6,1229.1 264.5,1231.2 265.2,1233.1 265.4,1230.9 266.4,1228.9 266.4,1226.6 267.3,1224.6 267.5,1222.4 267.9,1224.5 267.7,1226.6 268.1,1228.7 268,1230.8 268.5,1232.9 268.2,1235.1 268.8,1237.1 268.6,1239.3 269.1,1241.4 268.8,1243.5 269.2,1245.6 269.4,1243.5 269.9,1241.5 269.9,1239.3 270.6,1237.3 270.4,1235.2 270.9,1233.1 271.6,1231.2 271.6,1229.1 272.4,1227.2 272.6,1225.2 273.1,1227.2 272.9,1229.4 273.6,1231.4 273.5,1233.6 274.2,1235.6 274.3,1237.7 274.8,1235.6 274.6,1233.5 275.3,1231.5 275.2,1229.3 275.9,1227.3 276,1225.2 276.7,1227.1 276.7,1229.2 277.4,1231.1 277.7,1233.1 277.9,1230.9 277.8,1228.7 278.2,1226.6 278,1224.4 278.5,1222.2 278.4,1220 278.9,1217.9 278.8,1215.7 279.3,1218 279,1220.4 279.6,1222.7 279.4,1225 280,1227.3 279.8,1229.7 280.6,1232 280.5,1234.3 280.8,1232.1 280.6,1229.9 281.3,1227.7 280.9,1225.4 281.6,1223.2 281.3,1221 281.8,1218.8 281.6,1216.6 282.2,1214.4 282,1212.1 282.6,1209.9 282.3,1207.7 282.7,1205.5 282.6,1207.7 283.2,1209.8 282.8,1212 283.2,1214.2 283,1216.4 283.6,1218.6 283.2,1220.8 283.8,1222.9 283.4,1225.1 283.8,1227.3 283.7,1229.5 284.1,1231.6 283.9,1233.8 284.1,1236 284.1,1233.8 284.5,1231.7 284.2,1229.4 284.8,1227.3 284.6,1225.1 285,1222.9 284.7,1220.7 285.3,1218.6 285.1,1216.4 285.6,1214.2 285.2,1212 285.8,1209.9 285.6,1207.7 285.9,1205.5 286.1,1207.9 286.8,1210.2 286.9,1212.6 287.7,1214.9 287.8,1217.3 288.5,1215 288.4,1212.5 289.3,1210.2 289.5,1207.8 291.2,1208.3 291.6,1210.4 291.2,1212.6 291.6,1214.7 291.5,1216.9 291.9,1219 291.6,1221.2 292.2,1223.3 291.8,1225.5 292.4,1227.6 292.3,1229.8 292.3,1232 292.7,1234.1 292.5,1236.2 293.2,1238.3 292.8,1240.5 293.5,1242.6 293.2,1244.8 293.7,1246.9 293.5,1249.1 293.8,1251.2 293.7,1248.9 294.3,1246.7 293.9,1244.4 294.6,1242.2 294.4,1239.9 294.9,1237.7 294.6,1235.4 295.2,1233.2 295.1,1230.9 295,1228.8 295.6,1226.8 295.5,1224.8 295.9,1222.8 296,1220.7 296.7,1223 296.5,1225.5 297.4,1227.8 297.3,1230.3 298,1232.6 299.7,1235.4 300.3,1237.5 300.1,1239.7 300.9,1241.8 300.9,1244 301.4,1246.1 301.4,1243.9 302.1,1241.8 301.9,1239.6 302.4,1237.4 302.5,1235.3 302.8,1233.1 303,1235.4 303.9,1237.6 304,1240 304.7,1242.2 305,1239.9 305.8,1237.7 305.8,1235.3 306.4,1233.1 307,1235.3 308.2,1237.2 308.7,1239.4 309.3,1237.1 309.2,1234.6 310,1232.3 309.9,1229.9 310.4,1227.5 311,1229.8 312.1,1232 312.4,1234.2 312.2,1236.4 312.9,1238.5 312.6,1240.8 313.2,1242.9 313,1245.1 313.4,1247.3 313.4,1245.1 314.1,1243 313.9,1240.8 314.7,1238.7 314.5,1236.4 314.9,1234.3 315.2,1236.3 316,1238.2 316,1240.3 316.6,1242.2 317.9,1244.3 318.8,1246.7 319.2,1244.5 319.1,1242.1 319.8,1239.9 319.8,1237.6 320.2,1235.4 320.6,1233.3 320.5,1231.2 321.1,1229.1 320.9,1227 321.4,1224.9 321.4,1222.8 321.7,1220.7 322.2,1218.5 322.1,1216.2 323,1214 323.1,1211.7 325.1,1209.4 325.6,1211.6 325.4,1214 326.2,1216.1 326.1,1218.5 326.5,1220.7 326.9,1223 326.8,1225.4 327.4,1227.7 327.3,1230.1 327.8,1232.4 327.7,1234.8 328.1,1237.1 328.1,1234.9 328.5,1232.7 328.3,1230.5 328.9,1228.3 328.6,1226.1 329.3,1223.9 329,1221.7 329.4,1219.5 329.2,1217.3 329.6,1215.1 330.3,1213.2 330.6,1211.3 331.3,1209.4 331.3,1211.5 332,1213.6 331.9,1215.7 332.6,1217.8 332.6,1219.9 333.2,1222 333.3,1224.1 333.7,1222.1 333.7,1220 334.4,1218.1 334.2,1216 334.7,1214 335.1,1216.3 336,1218.4 336.3,1220.7 336.2,1222.9 336.8,1225.1 336.4,1227.4 336.9,1229.6 336.7,1231.8 337.2,1234 336.9,1236.2 337.4,1238.4 337.1,1240.7 337.7,1242.9 337.5,1245.1 337.8,1247.3 337.5,1249.6 338,1251.8 338,1254 338.4,1251.7 338.2,1249.3 338.9,1247.1 338.6,1244.7 339.3,1242.4 339.2,1240 339.8,1237.7 339.7,1235.4 339.6,1233.1 340.3,1230.9 340.1,1228.6 340.6,1226.4 340.4,1224.1 340.9,1221.9 341.6,1219.7 341.4,1217.3 342,1215.1 342.1,1217.2 342.9,1219.1 342.9,1221.2 343.5,1223.2 343.7,1225.2 343.9,1227.5 344.6,1229.7 344.5,1232 345.2,1234.2 345.4,1236.5 345.8,1238.5 346.5,1240.5 346.5,1238.2 347.2,1235.9 347,1233.5 347.6,1231.2 347.4,1228.9 348,1226.6 347.9,1224.2 348.2,1221.9 348.9,1219.9 349.1,1217.7 349.9,1215.7 350.1,1218.1 350.6,1220.4 350.5,1222.9 351,1225.2 351.2,1223.2 352,1221.2 351.8,1219.1 352.6,1217.2 352.7,1215.1 353.1,1213 354.1,1211.1 354,1213.2 354.5,1215.3 354.2,1217.4 354.9,1219.5 354.5,1221.7 355.1,1223.7 354.9,1225.9 355.4,1228 355,1230.1 355.5,1232.2 355.5,1234.3 355.9,1232.3 355.9,1230.1 356.5,1228.1 356.4,1226 357.2,1224 357.2,1221.9 357.6,1224 357.5,1226.1 358.1,1228.1 358,1230.3 358.6,1232.3 358.4,1234.4 358.9,1236.5 359.4,1234 360.1,1231.7 360.6,1229.2 361.1,1231.5 361.1,1234 361.9,1236.3 362,1238.7 362.6,1241 362.8,1239 363.5,1237.1 363.4,1235 364,1233.1 364.4,1231 364.3,1228.9 365.1,1226.8 365.1,1224.7 365.5,1226.9 365.1,1229.2 365.7,1231.5 365.5,1233.7 366.1,1236 365.9,1238.2 366.4,1240.5 366.1,1242.8 366.6,1245 366.4,1247.3 366.8,1249.5 366.7,1247.1 367.5,1244.8 367.3,1242.4 368,1240.2 367.8,1237.8 368.5,1235.5 368.5,1233.1 368.6,1230.9 369.3,1228.9 369.1,1226.7 369.9,1224.6 369.9,1222.4 370.2,1224.6 370,1226.8 370.6,1228.9 370.5,1231.2 371.1,1233.3 370.9,1235.5 371.3,1237.7 371.4,1235.4 372.1,1233.2 372,1230.9 373,1228.7 373,1226.4 373.6,1228.6 373.5,1230.9 374.3,1233.1 374.4,1235.4 374.7,1233.2 374.4,1231 374.9,1228.8 374.8,1226.6 375.1,1224.5 375,1222.3 375.4,1220.1 375.3,1217.9 375.5,1215.7 376.6,1214.1 377.3,1212.3 377.6,1214.5 377.2,1216.7 377.8,1218.9 377.6,1221.1 378.1,1223.3 377.8,1225.6 378.2,1227.7 378,1230 378.5,1232.2 378.2,1234.4 378.6,1236.6 378.4,1238.8 378.7,1241 379.2,1243.2 378.9,1245.4 379.6,1247.5 379.6,1249.8 380.1,1251.9 380,1254.1 380.4,1256.3 380.4,1254.1 381.1,1252 381,1249.7 381.5,1247.6 381.5,1245.4 382.1,1243.2 382.1,1241 382.4,1243.4 382.3,1245.8 382.9,1248.1 382.9,1250.5 383.3,1252.8 383.4,1255.2 383.7,1253 383.5,1250.8 384.2,1248.7 383.9,1246.4 384.5,1244.3 384.4,1242.1 384.8,1239.9 384.9,1237.7 384.9,1235.6 385.6,1233.5 385.5,1231.4 386,1229.3 385.9,1227.2 386.5,1225.1 386.6,1223 387.1,1225 387.2,1227.1 387.8,1229 387.7,1231.1 388.3,1233.1 389,1235.5 389.2,1238.1 390,1240.5 390.1,1238.1 390.7,1235.8 390.5,1233.3 391.3,1231 391.3,1228.6 392.1,1230.6 392.8,1232.6 392.9,1234.6 393.6,1236.6 393.5,1238.7 394.1,1240.7 394.2,1242.7 394.6,1240.6 394.4,1238.5 394.9,1236.4 394.7,1234.3 395.2,1232.2 395.1,1230.1 395.8,1228 395.5,1225.9 396,1223.8 395.9,1221.7 396.2,1219.6 396.1,1221.7 396.7,1223.8 396.7,1225.9 397.3,1228 397.1,1230.1 397.6,1232.2 397.6,1234.3 399.2,1233.1 399.5,1235.1 400.2,1237 400.2,1239.1 400.7,1241 400.6,1238.9 401.3,1236.8 401.1,1234.6 401.7,1232.6 401.6,1230.4 402.2,1228.3 402,1226.2 402.4,1224.1 402.4,1226.2 403,1228.3 402.7,1230.4 403.3,1232.4 403.2,1234.6 403.9,1236.6 403.6,1238.8 404.2,1240.8 404,1242.9 404.4,1245 404.5,1242.8 405.3,1240.7 405.4,1238.5 406.1,1236.5 406.3,1234.3 406.4,1232 407,1229.8 406.9,1227.4 407.4,1225.2 408,1227.7 408.9,1230.1 409.4,1232.6 409.7,1230.4 409.6,1228.2 410.2,1226.1 409.9,1223.8 410.5,1221.7 410.3,1219.5 410.9,1217.3 410.8,1215.1 411.2,1217.3 411,1219.6 411.4,1221.9 411.1,1224.1 411.9,1226.4 411.4,1228.6 412.1,1230.9 411.9,1233.1 412.5,1235.4 412.2,1237.7 412.5,1239.9 412.5,1237.6 413.1,1235.4 412.9,1233.1 413.5,1230.9 413.4,1228.6 413.9,1226.4 413.8,1224.1 414.2,1221.9 414.2,1224.2 414.8,1226.5 414.7,1228.9 415.1,1231.2 415.1,1233.5 415.7,1235.8 415.5,1238.2 415.9,1240.5 416,1238.1 416.6,1235.8 416.4,1233.4 417,1231.1 416.8,1228.7 417.3,1226.4 417.8,1224 417.8,1221.6 418.5,1219.2 418.7,1216.8 419.1,1218.9 419.1,1221.2 419.8,1223.3 419.6,1225.5 420.3,1227.6 420.4,1229.8 421.1,1227.7 421,1225.5 421.9,1223.5 422.1,1221.3 422.7,1223.4 422.6,1225.6 423.3,1227.7 423.4,1229.9 423.8,1232 424.3,1234 424.2,1236.1 424.9,1238.1 424.7,1240.2 425.5,1242.2 425.3,1244.3 426,1246.3 426.1,1248.4 426.4,1246.2 426.3,1244 427,1241.9 427,1239.6 427.5,1237.5 427.3,1235.3 427.8,1233.1 428.1,1230.9 427.9,1228.7 428.5,1226.6 428.2,1224.4 428.9,1222.3 428.6,1220.1 428.9,1217.9 428.8,1220.1 429.6,1222.2 429.4,1224.4 430.2,1226.6 429.9,1228.8 430.6,1230.9 430.6,1233.1 431.1,1231 430.8,1228.9 431.5,1226.9 431.1,1224.7 431.7,1222.7 431.6,1220.6 431.9,1218.5 431.8,1220.8 432.3,1223 432,1225.3 432.7,1227.5 432.5,1229.8 433,1232 432.7,1234.3 433.2,1236.5 432.9,1238.8 433.4,1241 433.4,1243.3 433.8,1241.2 433.5,1239 434.1,1236.9 434,1234.8 434.6,1232.7 434.3,1230.5 434.8,1228.4 434.7,1226.2 435.1,1224.1 435.1,1226.3 435.8,1228.5 435.5,1230.7 436,1232.9 435.9,1235.1 436.5,1237.3 436.2,1239.5 436.7,1241.7 436.8,1243.9 437.3,1241.7 437,1239.5 437.5,1237.3 437.3,1235.1 437.9,1232.9 437.6,1230.7 438.2,1228.5 437.9,1226.3 438.6,1224.1 438.5,1221.9 438.8,1224 438.6,1226.2 438.9,1228.3 438.6,1230.5 439.3,1232.6 439,1234.7 439.6,1236.9 439.2,1239 439.6,1241.2 439.6,1243.3 439.8,1241.2 439.6,1239.1 440.1,1237 439.8,1234.8 440.4,1232.7 440.1,1230.6 440.5,1228.5 440.3,1226.4 440.8,1224.3 440.5,1222.1 441.1,1220 441,1217.9 441.3,1220.1 441.2,1222.3 441.9,1224.4 441.6,1226.6 442.3,1228.7 442,1230.9 442.4,1233.1 443.3,1234.7 443.6,1236.5" fill="none" stroke="#262324" stroke-width="3.5" stroke-linejoin="round" stroke-linecap="round"/>
<polyline points="62.3,1356.8 62.6,1354.9 63.7,1353.1 64,1351.2 64.4,1353.4 64,1355.6 64.5,1357.7 64.3,1359.9 64.8,1362 64.6,1364.2 64.9,1366.4 65,1364.1 65.6,1361.9 65.3,1359.6 66,1357.4 65.9,1355.1 66.3,1352.9 66.3,1355.2 67.3,1357.4 67.2,1359.7 67.8,1361.9 68,1364.2 69.1,1361.9 69.4,1359.7 69.2,1357.4 69.7,1355.2 69.4,1352.9 69.8,1350.7 69.5,1348.4 70,1346.2 69.9,1343.9 71.4,1342.7 71.8,1345 71.4,1347.2 71.9,1349.5 71.5,1351.7 72,1354 71.6,1356.3 72.2,1358.5 71.8,1360.8 72.3,1363 71.8,1365.3 72.4,1367.6 72.2,1369.8 72.5,1372.1 72.1,1374.3 72.5,1376.6 72.8,1374.6 73.4,1372.7 73.4,1370.6 74,1368.7 74.4,1366.6 74.2,1364.5 74.8,1362.4 74.6,1360.3 75,1358.2 74.9,1356.1 75.3,1354 75.5,1356.3 76.1,1358.5 76,1360.8 76.4,1363 76.3,1360.9 76.9,1358.8 76.4,1356.6 77.1,1354.6 76.8,1352.4 77.3,1350.3 77.1,1348.2 77.3,1346.1 78.9,1347.2 80.4,1349.5 80.3,1351.8 81,1354 80.8,1356.3 81.3,1358.5 81.1,1360.8 81.7,1363 81.6,1365.3 82.1,1367.5 82.1,1369.8 82.5,1367.6 82.2,1365.3 82.7,1363 82.4,1360.7 82.9,1358.5 82.7,1356.2 83.2,1354 83,1351.7 83.5,1349.5 83.4,1347.2 84.1,1345.7 85.2,1344.4 86.6,1347.2 86.5,1349.3 87.2,1351.4 86.8,1353.6 87.4,1355.7 87.1,1357.8 87.7,1359.9 87.4,1362 87.9,1364.1 87.8,1366.3 88.2,1368.4 87.9,1370.5 88.3,1372.6 88.6,1370.5 89.5,1368.5 89.8,1366.4 89.7,1364.3 90.4,1362.2 90,1360 90.6,1358 90.5,1355.8 91,1353.7 90.8,1351.6 91.1,1349.5 91.1,1351.8 91.6,1354 91.4,1356.3 92,1358.5 91.8,1360.8 92.3,1363.1 92.1,1365.4 92.5,1367.6 93.9,1369.8 93.7,1367.6 94.3,1365.4 93.9,1363.1 94.3,1360.9 94.2,1358.7 94.6,1356.5 94.3,1354.3 94.7,1352.1 94.5,1349.9 95,1347.7 94.7,1345.4 95,1343.2 94.8,1341 95.1,1338.8 95.1,1341.1 95.8,1343.4 95.6,1345.8 96.2,1348.1 95.9,1350.5 96.6,1352.7 96.5,1355.1 96.5,1357.4 97.3,1359.6 97.3,1361.9 98,1364.1 98.1,1366.4 98.4,1364.3 98.2,1362.2 98.6,1360.1 98.4,1358 98.9,1355.9 98.6,1353.8 99.3,1351.7 98.9,1349.6 99.5,1347.5 99.2,1345.4 99.6,1343.3 100.1,1345.3 101,1347.2 101.4,1349.3 101.3,1351.4 101.8,1353.4 101.5,1355.6 102.1,1357.6 102.2,1359.7 102.2,1361.9 102.8,1364 102.5,1366.2 103.1,1368.3 103,1370.5 103.3,1372.6 103.3,1370.4 103.9,1368.3 103.6,1366.1 104.4,1363.9 104,1361.7 104.8,1359.6 104.7,1357.4 105.7,1359.6 106.4,1361.9 106.8,1359.8 106.6,1357.7 107.2,1355.7 107.1,1353.6 107.8,1351.6 107.8,1349.5 108.2,1351.5 108.1,1353.6 108.8,1355.7 108.5,1357.8 109.1,1359.8 109.2,1361.9 109.5,1359.7 109.4,1357.4 110,1355.2 109.7,1352.9 110.2,1350.7 110,1348.4 110.4,1346.2 110.5,1343.9 111,1346.1 110.9,1348.4 111.5,1350.6 111.5,1352.9 112,1355.1 112.1,1352.8 112.8,1350.6 112.6,1348.3 113.4,1346.1 113.1,1343.8 113.7,1341.6 115.4,1343.9 115.3,1346.1 115.9,1348.2 115.6,1350.4 116.3,1352.6 115.9,1354.8 116.6,1356.9 116.5,1359.1 118.2,1357.4 118.8,1355.2 118.8,1352.8 119.8,1350.7 119.9,1348.4 120.3,1346.6 121,1345 121.5,1342.9 121.2,1340.6 121.7,1338.5 121.6,1336.3 122,1334.2 121.9,1332 122.2,1329.8 122.3,1332.2 122.9,1334.5 122.7,1336.9 123.3,1339.2 123.2,1341.6 123.6,1343.9 123.9,1346 123.6,1348.1 124.3,1350.2 124.1,1352.4 124.4,1354.5 124.3,1356.6 124.8,1358.7 124.8,1360.8 125.9,1363 126.2,1360.8 125.9,1358.5 126.4,1356.2 126.2,1354 126.7,1351.7 126.5,1349.5 126.9,1347.2 126.7,1345 127.1,1342.7 126.8,1340.4 127.2,1338.2 127.1,1340.3 127.8,1342.4 127.5,1344.6 128.2,1346.6 127.9,1348.8 128.5,1350.9 128.2,1353 128.6,1355.1 128.7,1352.7 129.5,1350.4 129.4,1348 130.2,1345.7 130.4,1343.3 130.8,1345.6 130.6,1348 131.1,1350.3 130.9,1352.6 131.5,1354.9 131.2,1357.3 131.7,1359.6 131.7,1361.9 132.2,1359.5 132.3,1357.1 133,1354.7 133.1,1352.3 133.5,1354.6 133.4,1357 134,1359.3 134,1361.7 134.6,1364 134.6,1366.4 136.8,1367.6 137.2,1365.4 137.3,1363.1 137.9,1360.8 137.8,1358.5 138.3,1356.3 138.8,1354.3 138.6,1352.2 139.1,1350.2 138.9,1348.1 139.4,1346.1 139.5,1348.2 140.1,1350.2 140.1,1352.3 140.7,1354.3 140.5,1356.5 141,1358.5 140.9,1356.3 141.2,1354.1 141,1351.9 141.5,1349.7 141.1,1347.5 141.6,1345.3 141.1,1343.1 141.6,1340.9 141.3,1338.7 141.7,1336.6 141.2,1334.4 141.8,1332.2 141.5,1330 141.8,1327.8 141.5,1325.6 142,1323.4 141.7,1321.2 142,1319 141.9,1316.8 142.8,1314.5 143.1,1316.6 142.8,1318.8 143.5,1320.9 143.1,1323.1 143.6,1325.3 143.3,1327.4 143.8,1329.6 143.6,1331.7 144.1,1333.9 143.9,1336.1 144.2,1338.2 145,1340.4 145.5,1342.7 145.6,1344.8 146.1,1346.9 145.9,1349 146.6,1351.1 146.4,1353.2 147,1355.3 147,1357.4 147.4,1359.3 148.3,1361.1 148.7,1363 150.4,1364.2 150.7,1361.9 150.5,1359.7 151.1,1357.4 150.7,1355.1 151.3,1352.9 150.9,1350.6 151.6,1348.4 151.5,1346.1 152,1348.1 152,1350.2 152.8,1352.2 152.7,1354.3 153.2,1356.3 153.7,1358.7 153.6,1361.1 154.2,1363.5 154.3,1365.9 154.8,1363.8 154.6,1361.6 155.4,1359.5 155.2,1357.2 155.7,1355.1 156.2,1353.2 156.1,1351.1 156.8,1349.2 156.8,1347.2 157.1,1349.4 156.9,1351.6 157.4,1353.8 157.3,1356 157.8,1358.2 157.6,1360.4 158.1,1362.6 157.9,1364.8 158.3,1367 158.3,1364.6 159.1,1362.3 158.9,1359.8 159.6,1357.5 159.7,1355.1 159.8,1352.8 160.2,1350.5 160,1348.1 160.7,1345.8 160.5,1343.4 161.1,1341.1 161.1,1338.8 161.7,1337 162.8,1335.4 162.6,1337.6 163.2,1339.8 162.9,1342 163.3,1344.1 163,1346.4 163.5,1348.5 163.2,1350.7 163.8,1352.9 163.6,1355.1 163.6,1357.4 163.9,1359.6 163.8,1361.9 164.3,1364.2 163.8,1366.4 164.3,1368.7 164.1,1371 164.6,1373.2 164.5,1375.5 165,1373.4 164.9,1371.3 165.6,1369.3 165.4,1367.1 166,1365.1 166.2,1363 166.1,1360.9 166.8,1358.8 166.4,1356.7 167,1354.6 166.6,1352.4 167.2,1350.3 166.9,1348.2 167.3,1346.1 167.2,1348.3 167.7,1350.4 167.3,1352.6 167.9,1354.8 167.6,1357 168.1,1359.1 167.9,1361.3 168.4,1363.4 168.1,1365.6 168.6,1367.8 168.3,1370 168.9,1372.1 168.8,1374.3 169.3,1372.3 169.2,1370.1 170,1368.1 169.8,1366 170.5,1364 170.7,1361.9 171.1,1364 171.1,1366.1 171.8,1368.1 171.7,1370.2 172.3,1372.2 172.4,1374.3 172.8,1372.2 172.4,1370 172.9,1367.9 172.8,1365.7 173.2,1363.6 172.9,1361.4 173.5,1359.3 173.3,1357.2 173.8,1355.1 173.7,1352.9 174.5,1354.7 174.6,1356.7 175.5,1358.5 175.9,1360.6 175.8,1362.7 176.3,1364.8 176.2,1366.9 176.7,1369 176.4,1371.1 176.9,1373.2 177.8,1375.4 178.3,1377.7 178.6,1375.6 178.3,1373.5 178.7,1371.4 178.6,1369.3 179,1367.3 178.7,1365.1 179.2,1363.1 179,1361 179.6,1358.9 179.4,1356.8 179.9,1359.1 179.6,1361.5 180.2,1363.8 180,1366.2 180.7,1368.5 180.4,1370.9 180.8,1373.2 181.3,1375.6 181,1378 181.8,1380.3 181.5,1382.7 182,1385.1 182.1,1382.7 182.6,1380.4 182.5,1378.1 183,1375.7 182.8,1373.4 183.3,1371.1 183.4,1368.7 183.9,1370.9 183.9,1373.2 184.6,1375.4 184.8,1377.7 185.1,1375.6 185,1373.4 185.4,1371.3 185.3,1369.1 185.7,1367 185.7,1364.9 186.2,1362.7 185.9,1360.6 186.6,1358.5 186.5,1356.3 186.9,1358.4 186.8,1360.5 187.3,1362.6 187.1,1364.8 187.8,1366.8 187.6,1369 188.2,1371.1 188.2,1373.2 188.8,1371.2 188.7,1369.1 189.5,1367.1 189.5,1365 189.9,1363 189.8,1365.2 190.4,1367.3 190.1,1369.4 190.7,1371.5 190.5,1373.7 190.9,1375.8 190.7,1378 191.4,1380 191.3,1382.2 191.7,1380.1 191.5,1377.9 191.9,1375.8 191.8,1373.7 192.3,1371.5 192.1,1369.4 192.6,1367.3 192.5,1365.1 192.7,1363 192.8,1365.3 193.5,1367.5 193.6,1369.8 194.3,1372 194.4,1374.3 194.7,1372.1 194.4,1369.9 194.9,1367.7 194.8,1365.5 195.2,1363.3 195,1361.1 195.6,1358.9 195.3,1356.7 195.7,1354.5 195.7,1352.3 195.9,1350.1 195.9,1352.3 196.5,1354.4 196.2,1356.5 196.7,1358.6 196.4,1360.8 197,1362.9 196.8,1365.1 197.3,1367.2 197,1369.4 197.4,1371.5 197.4,1369.4 197.9,1367.3 197.8,1365.2 198.4,1363.1 198.2,1361 198.9,1358.9 198.9,1356.8 199.4,1359.2 199.4,1361.6 200.2,1363.9 200,1366.4 200.6,1368.7 200.6,1366.4 201.3,1364.2 201.2,1361.9 201.7,1359.7 202.1,1357.5 201.9,1355.3 202.5,1353.1 202.1,1350.9 202.6,1348.7 202.4,1346.5 202.9,1344.3 202.7,1342.1 203.1,1339.9 203,1342.1 203.5,1344.3 203.2,1346.6 203.7,1348.8 203.2,1351 203.8,1353.2 203.5,1355.4 204,1357.6 203.6,1359.8 204.1,1362 203.8,1364.3 204.3,1366.5 204.2,1368.7 204.4,1366.6 204.2,1364.4 204.7,1362.3 204.4,1360.1 204.9,1358 204.6,1355.8 205.1,1353.7 204.9,1351.5 205.4,1349.4 205.1,1347.2 205.5,1345.1 205.1,1342.9 205.7,1340.8 205.4,1338.6 205.7,1336.5 205.8,1338.9 206.6,1341.2 206.6,1343.7 207.3,1346 207.4,1348.4 208.1,1346.2 208,1343.8 208.8,1341.6 209.1,1339.3 209.1,1337 209.6,1334.8 209.4,1332.5 209.8,1330.3 209.5,1328 210,1325.8 210,1323.5 210.2,1321.3 210.2,1323.5 210.7,1325.6 210.5,1327.8 211,1329.9 210.7,1332.1 211.2,1334.2 211,1336.4 211.6,1338.5 211.3,1340.7 211.7,1342.8 211.7,1345 211.6,1347.3 212.2,1349.5 212,1351.8 212.5,1354 212.4,1356.3 213.1,1354.1 213.4,1351.7 214.1,1349.5 214,1351.7 214.5,1353.9 214.2,1356.1 214.7,1358.3 214.5,1360.5 214.9,1362.7 214.6,1365 215.3,1367.2 214.9,1369.4 215.5,1371.6 215.2,1373.8 215.5,1376 215.4,1373.7 216,1371.5 215.5,1369.2 216.1,1367 215.8,1364.7 216.3,1362.5 216,1360.2 216.5,1358 216.2,1355.7 216.7,1353.5 216.4,1351.2 216.9,1349 216.5,1346.7 217.1,1344.5 217,1342.2 217.5,1344.3 217.3,1346.5 218,1348.6 217.9,1350.8 218.4,1352.9 218.8,1355 218.6,1357.2 219,1359.3 218.9,1361.4 219.4,1363.6 219,1365.7 219.6,1367.8 219.5,1370 219.8,1372.1 219.9,1369.8 220.5,1367.6 220.5,1365.3 221,1363.1 221.1,1360.8 221.6,1362.8 221.5,1364.9 222.2,1366.8 222.1,1368.9 222.6,1370.9 222.6,1368.6 223.2,1366.4 222.9,1364.1 223.6,1361.9 223.4,1359.6 223.9,1357.4 223.7,1355.1 224.1,1352.9 224.4,1350.8 224.5,1348.6 225,1346.5 224.9,1344.3 225.4,1342.2 225.4,1344.6 226.2,1346.9 226.2,1349.3 226.9,1351.6 227.1,1354 227.7,1351.8 227.6,1349.5 228.5,1347.3 228.6,1345 229.3,1342.7 230.2,1340.5 230.1,1342.8 230.6,1345 230.4,1347.3 230.9,1349.5 230.6,1351.8 231,1354 230.8,1356.3 231.3,1358.6 231,1360.8 231.6,1363.1 231.3,1365.4 231.6,1367.6 232.2,1369.6 232.1,1371.7 232.8,1373.6 232.8,1375.7 233.3,1377.7 233.2,1375.5 233.9,1373.4 233.5,1371.3 234.1,1369.2 233.7,1367 234.2,1364.9 234,1362.7 234.7,1360.6 234.3,1358.4 234.7,1356.3 234.9,1354 234.8,1351.8 235.2,1349.5 235,1347.2 235.5,1345 235.2,1342.7 235.6,1340.5 235.6,1338.2 236,1340.4 235.7,1342.7 236.4,1344.9 236.2,1347.2 236.7,1349.5 236.4,1351.8 236.9,1354 236.9,1351.9 237.6,1350 237.6,1347.9 238.3,1345.9 238.4,1343.9 238.7,1346.1 238.5,1348.3 239.2,1350.4 239,1352.6 239.4,1354.7 239.3,1356.9 239.9,1359.1 239.6,1361.3 240.3,1363.4 240,1365.6 240.6,1367.7 240.4,1369.9 240.7,1372.1 240.8,1369.8 241.2,1367.6 241.1,1365.3 241.5,1363.1 241.3,1360.8 242,1358.5 241.6,1356.2 242.1,1354 242.6,1352 242.4,1349.9 243,1348 242.9,1345.9 243.3,1343.9 244.3,1341.9 244.5,1339.7 245.5,1337.7 245.5,1339.9 246.1,1342 245.8,1344.2 246.5,1346.4 246.1,1348.6 246.7,1350.7 246.6,1352.9 246.9,1355.1 247,1352.9 247.7,1350.8 247.4,1348.6 248,1346.4 248,1344.2 248.5,1342.1 248.6,1339.9 249.2,1341.7 249.4,1343.5 250,1345.3 250.5,1347.5 250.2,1349.8 250.8,1352.1 250.5,1354.4 251.2,1356.6 251.1,1358.9 251.1,1361.2 251.8,1363.4 251.7,1365.7 252.3,1367.9 252.1,1370.2 252.5,1372.4 252.3,1370.3 252.9,1368.2 252.8,1366.1 253.2,1364 253.1,1361.8 253.4,1359.7 253.2,1357.6 253.6,1355.5 254.1,1353.4 254,1351.2 254.8,1349.1 254.5,1346.9 255.1,1344.8 255,1347 255.6,1349.1 255.3,1351.2 255.8,1353.3 255.6,1355.5 256.1,1357.6 255.8,1359.8 256.4,1361.9 256.1,1364.1 256.5,1366.2 257.1,1364.2 257.9,1362.2 258.5,1360 258.6,1357.7 259.3,1355.5 259.7,1353.3 259.5,1351 259.9,1348.7 259.8,1346.5 260.4,1344.2 260,1341.9 260.4,1339.7 261.6,1338.1 262.4,1336.3 262.7,1338.5 262.5,1340.8 262.9,1343.1 262.8,1345.3 263.2,1347.6 262.9,1349.8 263.5,1352.1 263.2,1354.4 263.5,1356.6 263.8,1354.2 264.5,1351.8 264.6,1349.4 265.2,1347 265.3,1349.2 265.9,1351.4 265.6,1353.6 266.4,1355.8 266.2,1358 266.8,1360.2 266.5,1362.4 267.1,1364.6 267.2,1366.8 267.8,1364.6 267.7,1362.2 268.5,1360 268.6,1357.7 269.3,1355.4 270.3,1353.2 270.3,1355.5 271,1357.7 270.9,1360 271.3,1362.2 271.4,1364.5 271.9,1362.3 271.8,1359.9 272.7,1357.8 272.5,1355.4 273.1,1353.2 273.5,1351.2 273.4,1349.1 274,1347.2 273.8,1345.1 274.3,1343.1 274.4,1345.2 274.9,1347.3 274.6,1349.4 275.2,1351.4 275.2,1353.5 275.6,1355.6 275.7,1357.7 276,1355.5 276,1353.3 276.4,1351.1 276.3,1348.9 276.8,1346.7 276.7,1344.5 277.1,1342.3 276.9,1340.1 277.5,1337.9 277.3,1335.7 277.7,1333.5 277.7,1335.8 278.4,1338.1 278.2,1340.5 278.8,1342.8 278.5,1345.2 279.1,1347.5 279.1,1349.8 279.2,1352 279.8,1354.1 279.8,1356.3 280.3,1358.4 280.5,1360.6 280.9,1358.5 280.5,1356.4 281,1354.3 280.9,1352.2 281.2,1350.1 281,1347.9 281.4,1345.8 281.2,1343.7 281.8,1341.6 281.4,1339.5 281.8,1337.4 282.3,1335.3 282.4,1333.2 283.2,1331.1 283.3,1329 283.8,1331.3 283.6,1333.7 284.2,1336 284.1,1338.3 284.7,1340.6 284.6,1343 285,1345.3 285.3,1347.4 285,1349.6 285.6,1351.7 285.2,1353.8 285.8,1356 285.5,1358.1 286.1,1360.2 285.8,1362.4 286.1,1364.5 286.2,1362.1 286.9,1359.8 287,1357.4 287.7,1355.1 287.8,1352.7 288.3,1354.9 288.1,1357.1 288.5,1359.2 288.3,1361.4 289,1363.6 288.6,1365.8 289.4,1367.9 289.3,1370.1 289.8,1372.4 291,1374.5 291.5,1376.9 291.8,1374.7 291.4,1372.5 292,1370.4 291.6,1368.2 292.1,1366 291.9,1363.8 292.4,1361.7 292,1359.5 292.6,1357.3 292.1,1355.1 292.7,1352.9 292.3,1350.7 292.9,1348.6 292.7,1346.4 292.8,1344.2 293.3,1342.1 293,1339.9 293.7,1337.7 293.4,1335.5 294.1,1333.4 293.9,1331.2 294.2,1329 294.1,1331.2 294.5,1333.4 294.2,1335.6 294.7,1337.8 294.4,1340 294.9,1342.2 294.6,1344.4 295,1346.6 294.7,1348.8 295.3,1350.9 294.9,1353.1 295.4,1355.3 295.1,1357.5 295.6,1359.7 295.2,1361.9 295.7,1364.1 295.4,1366.3 295.7,1368.5 295.6,1366.3 296.1,1364.2 295.9,1362 296.5,1359.8 296.1,1357.6 296.7,1355.4 296.3,1353.2 296.9,1351.1 296.7,1348.9 297.2,1346.7 296.9,1344.5 297.5,1342.4 297.4,1340.2 297.8,1342.4 297.5,1344.6 297.9,1346.8 297.8,1349 298.2,1351.2 298.1,1353.4 298.5,1355.6 298.4,1357.8 298.8,1360 298.8,1362.2 298.7,1364.4 299.4,1366.6 299.1,1368.8 299.5,1370.9 299.4,1373.1 300,1375.3 299.9,1377.5 300.4,1375.2 300.1,1372.8 300.7,1370.5 300.6,1368.2 301.1,1365.9 300.7,1363.5 301.4,1361.2 301.4,1358.9 301.7,1356.6 302.4,1354.4 302.5,1352.1 303.2,1354.3 303.3,1356.7 304,1358.9 304.5,1361.2 304.3,1363.6 305.1,1365.9 304.8,1368.4 305.3,1370.7 305.5,1368.6 306.2,1366.5 306.2,1364.3 306.7,1362.2 307.1,1359.9 307,1357.5 307.6,1355.1 307.4,1352.7 307.8,1350.4 307.7,1352.5 308.3,1354.6 308.2,1356.8 308.8,1358.8 308.5,1361 309.1,1363.1 308.9,1365.2 309.3,1367.3 309.2,1365.2 309.9,1363.1 309.9,1361 310.4,1359 310.2,1356.8 310.9,1354.8 310.9,1352.7 311.5,1355 311.5,1357.5 312.4,1359.8 312.6,1362.2 312.7,1364.5 313.5,1366.7 313.2,1369.1 313.8,1371.3 314.6,1369 315.5,1366.8 316,1364.6 315.9,1362.3 316.4,1360 316.4,1357.7 316.8,1355.5 316.9,1357.8 317.5,1360 317.6,1362.3 318.1,1364.5 318.3,1366.8 320,1366.8 320.3,1364.7 320.1,1362.6 320.5,1360.5 320.2,1358.3 320.8,1356.3 320.5,1354.1 321.1,1352.1 320.8,1349.9 321.2,1347.8 320.9,1345.7 321.3,1343.6 321.4,1346 322.2,1348.4 322.2,1350.8 322.8,1353.2 323.2,1355.3 322.8,1357.4 323.3,1359.5 323.1,1361.7 323.7,1363.7 323.3,1365.9 323.9,1368 323.9,1370.1 324.5,1372.5 325.4,1374.7 325.4,1372.5 325.9,1370.4 325.7,1368.2 326,1366.1 325.9,1363.9 326.4,1361.8 326.1,1359.6 326.6,1357.5 326.4,1355.3 326.7,1353.2 326.6,1355.4 327.2,1357.5 326.8,1359.7 327.4,1361.9 327,1364 327.5,1366.2 327.4,1368.4 327.8,1370.5 327.5,1372.7 328.1,1374.9 327.9,1377 328.1,1379.2 328,1377 328.7,1375 328.4,1372.8 329.1,1370.7 328.9,1368.6 329.5,1366.5 329.3,1364.3 329.6,1362.2 330.1,1360 329.9,1357.7 330.4,1355.5 330.1,1353.2 330.6,1351 330.5,1348.7 330.9,1346.5 331,1344.2 333,1346.4 333.2,1348.6 332.9,1350.8 333.3,1353 333,1355.2 333.5,1357.3 333.2,1359.5 333.5,1361.7 333.2,1363.9 333.6,1366.1 333.3,1368.3 333.8,1370.5 333.4,1372.7 333.7,1374.8 333.4,1377 333.7,1379.2 333.7,1381.4 333.7,1383.5 334.2,1385.6 333.9,1387.7 334.4,1389.8 334.2,1391.9 334.8,1394 334.7,1396.1 335,1393.9 334.8,1391.8 335.1,1389.6 335,1387.4 335.4,1385.3 335.3,1383.1 335.6,1380.9 335.5,1378.8 336,1376.6 335.6,1374.4 336,1372.3 336,1370.1 336.1,1368 336.6,1366 336.4,1363.8 337.1,1361.8 336.9,1359.7 337.5,1357.6 337.5,1355.5 338.1,1353.4 339.2,1351.5 339.2,1353.9 339.9,1356.2 339.7,1358.7 340.3,1361 340.3,1363.4 340.7,1361.2 340.3,1358.9 341,1356.6 340.7,1354.4 341.2,1352.1 341,1349.8 341.4,1347.6 341.9,1345.5 341.7,1343.3 342.2,1341.2 342.1,1339 342.6,1336.9 342.6,1339.3 343.2,1341.6 343,1344 343.7,1346.3 343.5,1348.7 343.9,1351 344.2,1353.1 344,1355.2 344.4,1357.3 344.1,1359.5 344.8,1361.5 344.4,1363.7 344.9,1365.8 344.8,1367.9 346.5,1370.1 348.2,1368.5 348.5,1366.3 348.4,1364 348.9,1361.7 348.7,1359.5 349.1,1357.2 349,1354.9 349.3,1352.7 349.6,1354.8 350.4,1356.8 350.7,1358.9 351.4,1357.2 351.8,1355.5 352.1,1357.7 351.9,1360 352.3,1362.2 352.2,1364.5 352.7,1366.7 352.4,1369 353,1371.2 352.9,1373.5 353.2,1371.4 353,1369.3 353.5,1367.2 353.3,1365.1 353.8,1363 353.5,1360.9 354,1358.8 353.7,1356.7 354.3,1354.6 354.1,1352.5 354.4,1350.4 356.1,1351 356.5,1353.3 357.4,1355.4 357.8,1357.7 357.7,1359.9 358.1,1362.1 357.7,1364.3 358.3,1366.4 357.8,1368.6 358.4,1370.8 358,1373 358.5,1375.2 358.1,1377.4 358.5,1379.6 358.2,1381.8 358.6,1383.9 358.3,1386.1 358.8,1388.3 358.6,1390.5 358.9,1388.3 358.7,1386.1 359.4,1383.9 359.1,1381.7 359.7,1379.5 359.5,1377.3 360,1375.1 359.9,1372.9 360.4,1370.7 360.4,1368.5 360.7,1370.6 360.5,1372.8 361.1,1374.9 360.8,1377.1 361.3,1379.2 361.2,1381.4 361.4,1383.6 362,1385.7 361.9,1387.9 362.5,1390 362.6,1392.2 363.2,1390.1 363,1387.9 363.9,1385.9 364,1383.7 364.1,1381.6 364.6,1379.6 364.4,1377.5 365,1375.5 365,1373.4 365.3,1371.3 365.9,1373.2 367,1374.9 367.4,1376.9 367.9,1374.6 367.8,1372.2 368.3,1369.9 368.1,1367.6 368.9,1365.3 368.6,1362.9 369.1,1360.6 369.1,1363 369.8,1365.3 369.6,1367.7 370.2,1370 370.1,1372.4 370.5,1374.7 370.6,1372.3 371.3,1370 370.9,1367.6 371.6,1365.3 371.5,1363 372,1360.7 372.1,1358.3 372.5,1360.4 372.1,1362.6 372.5,1364.7 372.4,1366.8 372.8,1368.9 372.7,1371 373.2,1373.1 372.8,1375.3 373.3,1377.4 373,1379.5 373.6,1381.6 373.3,1383.8 373.6,1385.9 373.6,1383.8 374.4,1381.8 374.2,1379.6 374.8,1377.6 374.6,1375.4 375.3,1373.4 375.3,1371.3 375.6,1373.5 375.3,1375.6 375.8,1377.8 375.4,1380 376.1,1382.1 375.8,1384.3 376.2,1386.5 376,1388.7 376.5,1390.8 376.2,1393 376.7,1395.1 376.3,1397.3 376.6,1399.5 376.4,1397.2 377.1,1395 376.6,1392.7 377.2,1390.5 376.9,1388.2 377.3,1385.9 377.1,1383.7 377.6,1381.4 377.3,1379.1 377.7,1376.9 377.5,1374.6 377.8,1372.4 377.8,1370.1 377.7,1367.8 378.2,1365.6 377.8,1363.3 378.3,1361.1 377.9,1358.8 378.4,1356.6 378.2,1354.3 378.5,1352.1 378.2,1349.8 378.8,1347.6 378.5,1345.3 378.7,1343.1 378.6,1345.2 379.2,1347.3 378.9,1349.5 379.4,1351.6 379.2,1353.7 379.7,1355.8 379.5,1358 380,1360.1 380,1362.2 380,1364.5 380.8,1366.7 380.7,1369 381.4,1371.2 381.5,1373.5 381.6,1375.8 382.2,1378 382,1380.3 382.8,1382.5 382.6,1384.8 383.2,1387 383.4,1389.3 383.6,1387 383.5,1384.8 383.9,1382.5 383.8,1380.3 384.2,1378 383.9,1375.7 384.4,1373.5 384.2,1371.2 384.7,1369 384.5,1366.7 385.1,1364.5 384.9,1362.2 384.9,1359.9 385.4,1357.7 385.3,1355.4 385.9,1353.2 385.5,1350.9 386.2,1348.7 385.9,1346.4 386.3,1344.2 386.2,1346.4 386.6,1348.5 386.3,1350.7 386.9,1352.9 386.6,1355.1 387.1,1357.2 387,1359.4 387.4,1361.5 387.2,1363.7 387.6,1365.9 387.4,1368.1 387.8,1370.2 387.7,1372.4 388.7,1374.2 390,1375.8 389.8,1373.6 390.4,1371.4 390.1,1369.1 390.4,1366.9 390.3,1364.7 390.7,1362.5 390.4,1360.2 390.9,1358 390.6,1355.8 391,1353.6 390.7,1351.3 391.2,1349.1 390.9,1346.9 391.4,1344.7 391.1,1342.4 391.3,1340.2 391.3,1342.4 391.7,1344.6 391.5,1346.8 392.1,1349 391.8,1351.2 392.4,1353.4 392.2,1355.6 392.6,1357.8 392.4,1360 392.8,1362.2 393.3,1364.2 393.2,1366.2 394,1368.1 394.2,1370.1 394.6,1368 394.3,1365.9 394.9,1363.8 394.7,1361.7 395.2,1359.6 395.1,1357.5 395.7,1355.4 395.5,1353.3 395.9,1351.2 395.9,1349.1 396.2,1347 396.2,1349.2 396.6,1351.4 396.3,1353.6 396.8,1355.8 396.5,1358.1 397,1360.2 396.8,1362.5 397.3,1364.7 397,1366.9 397.5,1369.1 397.4,1371.3 397.6,1373.5 398.8,1375.9 399.5,1378.6 399.7,1376.4 399.5,1374.2 400,1372 399.8,1369.7 400.1,1367.5 400,1365.3 400.4,1363.1 400.1,1360.8 400.7,1358.6 400.3,1356.4 400.9,1354.2 400.5,1352 401.1,1349.8 400.8,1347.5 401.3,1345.3 401.2,1343.1 402,1345.3 402.2,1347.6 402.9,1349.8 403.3,1352 402.9,1354.2 403.6,1356.4 403.4,1358.6 404,1360.8 403.8,1363 404.2,1365.2 404,1367.4 404.6,1369.6 404.6,1371.8 405,1369.7 404.9,1367.5 405.5,1365.4 405.3,1363.2 406,1361.1 406,1358.9 406.4,1357.1 407.4,1355.5 407.5,1357.6 408.1,1359.6 408.1,1361.7 408.7,1363.7 408.7,1365.9 409.1,1367.9 409,1365.8 409.5,1363.6 409.2,1361.5 409.6,1359.4 409.5,1357.2 409.9,1355.1 409.7,1353 410.1,1350.9 409.8,1348.7 410.3,1346.6 410.1,1344.5 410.5,1342.3 410.5,1340.2 410.9,1342.3 410.5,1344.5 410.9,1346.6 410.8,1348.7 411.1,1350.9 410.9,1353 411.4,1355.1 411.2,1357.3 411.7,1359.4 411.5,1361.6 412,1363.7 411.5,1365.8 412.2,1368 412,1370.1 412.6,1371.9 413.7,1373.4 414.2,1375.2 414.6,1373 414.2,1370.8 414.8,1368.6 414.4,1366.4 415,1364.2 414.8,1361.9 415.2,1359.7 415.1,1357.5 415.4,1355.3 415.3,1353.1 415.8,1350.9 415.7,1348.7 416,1346.3 416.7,1343.9 416.6,1341.5 417.3,1339.1 417.8,1337 417.9,1334.8 418.5,1332.8 418.7,1330.6 420.2,1330.6 420.5,1332.9 420.2,1335.1 420.8,1337.4 420.5,1339.7 420.8,1341.9 420.7,1344.2 421,1346.4 420.8,1348.7 421.4,1351 421.1,1353.2 421.3,1355.5 421.4,1353.5 422.2,1351.6 422.1,1349.5 422.7,1347.6 422.6,1349.8 423,1352 422.6,1354.2 423.1,1356.3 422.8,1358.5 423.2,1360.7 423,1362.9 423.3,1365.1 423.1,1367.3 423.4,1369.5 423,1371.7 423.6,1373.8 423.2,1376 423.8,1378.2 423.3,1380.4 423.6,1382.6 423.6,1380.5 424.2,1378.4 424.1,1376.3 424.6,1374.2 424.6,1372.1 425.2,1370 425.2,1367.9 425.1,1365.8 425.8,1363.7 425.7,1361.6 426.2,1359.5 426,1357.4 426.5,1355.3 426.6,1353.2 426.5,1351 427,1348.8 426.6,1346.6 427.1,1344.5 427,1342.3 427.4,1340.1 427.1,1337.9 427.4,1335.7 427.7,1338.1 428.4,1340.4 428.3,1342.9 428.9,1345.2 429.2,1347.6 429.2,1349.7 429.8,1351.7 429.6,1353.8 430.4,1355.8 430.2,1358 430.6,1360 432.3,1358.9 432.2,1356.6 432.7,1354.4 432.5,1352.1 433.1,1349.8 432.9,1347.6 433.5,1345.3 433.1,1343 433.8,1340.8 433.7,1338.5 434.3,1340.4 434.1,1342.5 435,1344.4 435.1,1346.4 436.8,1345.3 436.7,1347.6 437.3,1349.8 437.1,1352.1 437.6,1354.3 437.4,1356.6 437.7,1358.8 437.5,1361.1 438.1,1363.3 437.9,1365.6 438.3,1367.8 438.3,1370.1 438.8,1367.9 438.6,1365.6 439.3,1363.4 439.2,1361.1 439.6,1358.9 439.7,1361.3 440.4,1363.6 440.3,1366 440.9,1368.3 440.8,1370.7 441.3,1373 441.4,1370.8 442.2,1368.7 442,1366.5 442.8,1364.4 443,1362.2 443.5,1363.9 443.6,1365.6" fill="none" stroke="#808080" stroke-width="3.5" stroke-linejoin="round" stroke-linecap="round"/>
<polyline points="62,1425.6 62.2,1423.7 62.9,1421.9 63.1,1420 63.3,1422.2 63.1,1424.4 63.5,1426.6 63.2,1428.8 63.8,1431 63.4,1433.3 63.9,1435.4 63.6,1437.7 64,1439.9 63.6,1442.1 64.1,1444.3 64,1446.5 64.4,1444.2 64.2,1441.8 64.9,1439.5 64.7,1437.1 65.3,1434.8 65,1432.4 65.4,1430.1 65.5,1432.4 66.2,1434.6 66.2,1436.9 66.7,1439.1 66.9,1441.4 67.3,1439.3 67.1,1437.2 67.6,1435.1 67.4,1432.9 67.9,1430.9 67.7,1428.7 68.3,1426.6 68.3,1424.5 68.4,1422.3 69,1420.2 68.9,1418 69.6,1416 69.7,1413.8 70.1,1416.1 69.8,1418.5 70.4,1420.8 70.3,1423.1 70.7,1425.4 70.7,1427.8 71,1430.1 71.5,1432.5 71.2,1434.9 71.8,1437.2 71.8,1439.6 72.2,1442 72.2,1439.8 72.9,1437.7 72.7,1435.5 73.4,1433.4 73.1,1431.1 73.6,1429 74.3,1431.3 75.3,1433.5 75.5,1431.5 76.1,1429.5 76.1,1427.4 76.8,1425.4 77,1423.4 77.5,1421.6 78.5,1420 78.8,1422.3 79.7,1424.5 79.8,1426.8 79.8,1429.1 80.5,1431.3 80.4,1433.6 81.2,1435.7 81.2,1438 81.6,1435.9 81.4,1433.8 81.9,1431.7 81.7,1429.5 82.4,1427.5 82,1425.3 82.7,1423.2 82.7,1421.1 84.6,1423.4 85,1425.4 84.9,1427.5 85.4,1429.6 85.4,1431.7 86,1433.7 86,1435.8 86.2,1437.9 86.7,1440 86.7,1442.2 87.2,1444.3 87.2,1442.2 87.8,1440.2 87.7,1438.1 88.1,1436 87.9,1433.9 88.5,1431.9 88.2,1429.7 88.9,1427.7 88.9,1425.6 89.3,1427.8 89.1,1430 89.9,1432.2 89.5,1434.4 90.3,1436.6 90,1438.8 90.7,1441 90.4,1443.2 90.9,1445.4 90.8,1443.2 91.3,1441 90.9,1438.7 91.5,1436.5 91.2,1434.3 91.7,1432.1 91.4,1429.8 91.8,1427.6 91.6,1425.4 92.1,1423.2 91.8,1421 92.1,1418.7 91.9,1416.5 92.2,1414.3 92.2,1416.6 93,1418.8 92.8,1421.1 93.4,1423.3 93.3,1425.6 93.9,1427.8 93.9,1430.1 94.3,1427.8 94,1425.4 94.6,1423.1 94.6,1420.7 95.1,1418.4 95.1,1416 95.5,1418.1 95.2,1420.2 95.7,1422.2 95.5,1424.3 96.1,1426.4 95.9,1428.5 96.5,1430.5 96.1,1432.6 96.5,1434.7 96.7,1432.4 97.5,1430.2 97.4,1427.8 98.1,1425.6 99,1423.8 99.2,1421.8 100.1,1420 100,1422.3 100.7,1424.5 100.5,1426.8 101.1,1429 100.8,1431.3 101.5,1433.5 101.5,1435.8 102.2,1433.6 102.3,1431.3 103,1429.1 103.3,1426.8 104.1,1429.2 104.5,1431.7 105.2,1434.1 105.3,1431.9 105.9,1429.8 105.8,1427.6 106.4,1425.5 106.3,1423.2 106.7,1421.1 107,1423.4 107.8,1425.6 107.8,1427.9 108.3,1430.1 108.6,1428.1 109.5,1426.2 109.4,1424.1 110.1,1422.2 111.4,1424.5 111.9,1422.2 111.8,1419.8 112.5,1417.4 112.4,1415 112.8,1412.7 112.9,1414.9 113.5,1417 113.4,1419.2 114.3,1421.2 114.3,1423.4 116.5,1424.5 117.1,1422.3 117.2,1420 118.1,1417.8 118.2,1415.5 118.9,1412.9 119.9,1410.4 121.6,1412.1 121.5,1414.2 122.2,1416.1 122.1,1418.2 122.6,1420.2 122.7,1422.2 123.5,1424.6 124.8,1426.8 124.8,1424.7 125.1,1422.6 124.9,1420.5 125.2,1418.4 125,1416.3 125.3,1414.3 125.1,1412.2 125.6,1410.1 125.3,1408 125.5,1405.9 125.6,1408.1 126.2,1410.2 126,1412.4 126.7,1414.5 126.5,1416.8 127,1418.9 127.1,1416.8 127.9,1414.8 128.1,1412.7 128.6,1415 128.4,1417.4 129.1,1419.7 128.7,1422.1 129.5,1424.4 129.5,1426.8 130,1428.5 130.8,1430.1 130.9,1427.9 131.6,1425.8 131.4,1423.6 132.2,1421.6 132.3,1419.4 132.8,1421.7 132.8,1424.1 133.3,1426.4 133.2,1428.8 133.8,1431.1 134,1433.5 134.3,1435.5 135,1437.4 135.1,1439.5 135.7,1441.4 135.8,1439.1 136.3,1436.9 136.2,1434.6 136.8,1432.4 136.8,1430.1 137.2,1427.9 138,1426 138.3,1424 139.1,1422.2 140,1420 140.6,1417.7 140.4,1415.5 140.9,1413.3 140.6,1411.1 141.1,1408.9 140.7,1406.7 141.3,1404.5 140.9,1402.3 141.3,1400.1 141,1397.9 141.5,1395.7 141.3,1393.5 141.8,1395.8 141.6,1398.2 142,1400.5 141.8,1402.9 142.5,1405.2 142.5,1407.6 142.4,1409.7 143.1,1411.7 142.9,1413.9 143.4,1415.9 143.2,1418 143.7,1420.1 143.6,1422.2 144,1420.2 143.8,1418.1 144.4,1416.2 144.4,1414.1 144.7,1412.1 145.1,1414.4 146.1,1416.6 146.4,1418.9 146.3,1421.2 147,1423.4 146.7,1425.7 147.2,1427.9 147,1430.2 147.5,1432.4 147.3,1434.7 147.6,1436.9 147.9,1434.9 148.6,1432.9 148.7,1430.8 149.5,1428.9 149.8,1426.8 150.2,1429 150,1431.3 150.5,1433.6 150.5,1435.8 151.1,1438.1 150.8,1440.4 151.2,1442.6 151.3,1440.2 152,1437.9 151.8,1435.4 152.6,1433.1 152.6,1430.7 153.2,1432.8 153.2,1435 153.9,1437.1 154.1,1439.2 154.2,1441.2 155,1443.1 155,1445.2 155.5,1447.1 155.7,1445.1 156.4,1443.2 156.6,1441.2 157.1,1439.2 157.6,1436.9 157.6,1434.6 158.3,1432.4 158.3,1430.1 158.5,1427.8 159,1425.6 158.9,1423.3 159.4,1421.1 161.1,1420.6 161.4,1423 162.2,1425.3 162.1,1427.8 162.8,1430.1 163.1,1432.4 162.8,1434.6 163.3,1436.9 163.3,1439.2 163.6,1441.4 163.4,1443.7 164,1445.9 163.9,1448.2 164.4,1446.1 164.2,1444 164.7,1441.9 164.6,1439.8 165.2,1437.7 165,1435.6 165.4,1433.5 165.9,1431.3 165.8,1429 166.4,1426.7 166.1,1424.4 166.7,1422.2 166.7,1424.3 167.3,1426.4 167.1,1428.6 167.6,1430.7 167.4,1432.9 168,1435 167.9,1437.1 168.4,1439.2 168.4,1441.4 169.1,1439.2 169.2,1436.9 169.9,1434.7 169.8,1437.1 170.5,1439.4 170.4,1441.8 171,1444.1 170.8,1446.5 171.3,1448.8 171.5,1446.4 172.1,1444.1 172.1,1441.7 172.8,1439.4 172.7,1437 173.3,1434.7 173.4,1437.1 174,1439.4 173.9,1441.8 174.5,1444.1 174.6,1446.5 175.2,1444.4 175.2,1442.2 175.8,1440.1 175.8,1437.9 176.3,1435.8 176.4,1438.1 177.1,1440.3 177,1442.6 177.6,1444.8 177.8,1447.1 178.1,1444.9 177.9,1442.6 178.4,1440.3 178.3,1438.1 178.7,1435.8 178.5,1433.6 179,1431.3 178.9,1429 179.2,1426.8 179.4,1428.9 179.9,1430.9 179.8,1433 180.6,1435 180.4,1437.2 180.8,1439.2 181.1,1437.2 181.7,1435.3 181.8,1433.3 182.3,1431.3 182.4,1433.4 182.8,1435.5 182.6,1437.7 183.2,1439.7 183,1441.9 183.5,1444 183.3,1446.1 183.7,1448.2 184.4,1450.6 184.4,1453.1 185,1455.5 184.8,1453.3 185.4,1451.2 184.9,1449 185.4,1446.9 185.2,1444.7 185.7,1442.6 185.4,1440.4 185.8,1438.3 185.5,1436.1 186,1434 185.6,1431.8 186,1429.7 185.7,1427.5 186.2,1425.4 185.9,1423.2 186.2,1421.1 187.3,1420 187.4,1422.1 188.3,1424 188.2,1426.1 188.8,1428.1 189.1,1430.1 189.2,1432.2 189.9,1434.1 189.7,1436.2 190.3,1438.2 190.4,1440.3 192.1,1441.4 192.4,1443.6 193.1,1445.6 193.3,1447.8 193.8,1449.9 194,1447.5 194.6,1445.2 194.6,1442.7 195.3,1440.4 195.5,1438 196.1,1439.9 196.1,1442 196.9,1443.9 197,1445.9 197.4,1443.8 197.3,1441.7 197.8,1439.7 197.8,1437.5 198.4,1435.5 198.1,1433.4 198.6,1431.3 198.6,1433.4 199.2,1435.4 199.1,1437.6 199.5,1439.6 199.5,1441.7 199.9,1443.8 200,1445.9 200.3,1443.8 200.1,1441.6 200.7,1439.5 200.4,1437.3 200.9,1435.2 200.6,1433 201.3,1430.9 201,1428.8 201.5,1426.7 201.5,1424.5 202,1422.7 202.9,1421.1 203.1,1423.4 203.9,1425.6 204.2,1427.9 204.5,1425.7 204.3,1423.4 204.9,1421.1 204.7,1418.9 205.2,1416.6 204.8,1414.3 205.3,1412.1 205.3,1414.2 205.9,1416.3 205.7,1418.4 206.4,1420.5 206.2,1422.6 206.8,1424.7 206.8,1426.8 207.3,1424.7 207.4,1422.4 208.1,1420.3 208.1,1418.1 208.7,1416 208.8,1418.4 209.6,1420.7 209.6,1423.2 210.4,1425.5 210.5,1427.9 211.3,1426.1 211.7,1424.1 212.4,1422.2 212.4,1424.5 213,1426.7 213,1429 213.5,1431.2 213.4,1433.5 214.1,1435.7 214.1,1438 214.7,1440.3 215.5,1442.6 215.5,1440.4 215.8,1438.3 215.7,1436.1 216.2,1433.9 215.9,1431.7 216.3,1429.5 216.1,1427.4 216.5,1425.2 216.3,1423 216.9,1420.8 216.6,1418.6 217,1416.5 217,1414.3 217.4,1416.5 217,1418.8 217.5,1421.1 217.3,1423.3 217.7,1425.6 217.4,1427.9 218,1430.1 217.5,1432.4 218.1,1434.6 217.8,1436.9 218.4,1439.1 218,1441.4 218.5,1443.6 218.4,1445.9 218.8,1443.7 218.5,1441.4 219.1,1439.1 219,1436.9 219.7,1434.6 219.4,1432.3 219.8,1430.1 220.1,1432 220.9,1433.8 221.1,1435.8 221.6,1433.4 221.6,1431 222.1,1428.7 222,1426.2 222.6,1423.9 222.7,1426.1 223.5,1428.2 223.4,1430.4 223.9,1432.5 224.1,1434.7 224.9,1432.4 225.4,1430.1 225.5,1427.7 226.3,1425.4 226,1423 226.7,1420.7 226.8,1418.3 227.3,1420.6 227.1,1423 227.8,1425.3 227.6,1427.7 228.2,1430 228.3,1432.4 228.7,1430.2 228.3,1427.9 228.9,1425.6 228.6,1423.3 229.3,1421.1 229,1418.8 229.4,1416.6 229.3,1414.3 229.7,1412.1 229.7,1409.8 230.1,1411.9 229.8,1414.1 230.2,1416.3 229.8,1418.4 230.3,1420.6 230,1422.8 230.6,1424.9 230.2,1427.1 230.7,1429.2 230.4,1431.4 231,1433.5 230.7,1435.7 231.2,1437.9 230.9,1440 231.3,1442.2 231.1,1444.3 231.3,1446.5 231.4,1444.1 232.1,1441.8 231.9,1439.5 232.5,1437.2 232.3,1434.8 232.9,1432.5 233.1,1430.1 233.3,1427.8 234,1425.6 234.1,1423.3 234.7,1421.1 234.7,1423.2 235.4,1425.3 235.2,1427.4 235.8,1429.5 235.7,1431.6 236.1,1433.7 236.2,1435.8 236.5,1433.7 236.2,1431.5 236.8,1429.4 236.6,1427.3 237.1,1425.1 237,1423 237.4,1420.9 237.3,1418.7 237.6,1416.6 237.5,1418.9 238.3,1421.1 237.9,1423.4 238.6,1425.6 238.2,1427.9 238.7,1430.1 239.2,1432 239.3,1434.1 239.8,1436 240.1,1438 240.6,1436 240.6,1433.9 241.3,1432 241.4,1429.9 241.8,1427.9 242.4,1426 242.6,1424.1 243.3,1422.2 243.7,1420.2 243.7,1418.1 244.4,1416.2 244.1,1414.1 244.6,1412.1 244.8,1414.4 245.3,1416.6 245.2,1418.9 246,1421.1 246,1423.4 246.4,1421.3 246.2,1419.1 246.9,1417 246.7,1414.9 247.4,1412.8 247.1,1410.6 247.8,1408.5 247.8,1406.4 248.2,1408.6 247.9,1411 248.6,1413.2 248.4,1415.5 248.9,1417.7 248.9,1420 249.5,1422.2 249.4,1424.5 249.8,1422.4 249.4,1420.4 249.8,1418.3 249.6,1416.2 250.1,1414.2 250,1412.1 250.2,1414.3 250,1416.4 250.4,1418.6 250.3,1420.7 250.7,1422.9 250.4,1425.1 250.9,1427.2 250.6,1429.4 251,1431.5 250.7,1433.7 251.1,1435.8 251.1,1438 251.6,1436 251.8,1434 252.6,1432.1 252.8,1430.1 252.8,1427.9 253.5,1425.8 253.4,1423.6 254,1421.4 253.9,1419.2 254.3,1417.1 254.5,1414.9 255.2,1417.3 255.4,1419.8 256.2,1422.2 256.9,1424.4 257.2,1426.8 257.9,1429 257.9,1426.9 258.6,1424.9 258.5,1422.8 259.2,1420.8 259.1,1418.6 259.6,1416.6 259.9,1418.9 260.9,1421.1 261.3,1423.4 261.7,1421.2 261.6,1418.9 262.1,1416.7 261.9,1414.4 262.5,1412.1 262.3,1409.8 262.6,1407.6 262.8,1409.6 263.5,1411.6 263.4,1413.7 264,1415.7 264.1,1417.7 264.2,1419.8 264.9,1421.9 264.7,1424 265.4,1426.1 265.2,1428.2 265.7,1430.3 265.8,1432.4 266,1434.5 266.5,1436.5 266.5,1438.5 267.2,1440.5 267.2,1442.6 267.7,1440.4 267.7,1438 268.4,1435.8 268.6,1433.5 268.6,1431.1 269.3,1428.8 269.2,1426.4 269.8,1424.1 269.8,1421.7 270.3,1423.9 270,1426.1 270.5,1428.3 270.4,1430.5 270.8,1432.6 270.6,1434.9 271.3,1437 271.1,1439.2 271.4,1441.4 271.5,1439.3 272.1,1437.2 271.8,1435 272.5,1433 272.2,1430.8 272.8,1428.7 272.8,1426.6 273.1,1424.5 273.5,1422.4 273.4,1420.2 274,1418.1 273.8,1415.9 274.3,1413.8 274.4,1416.2 275,1418.5 274.8,1420.9 275.5,1423.2 275.2,1425.6 275.7,1427.9 275.9,1425.5 276.5,1423.2 276.3,1420.8 277,1418.5 276.8,1416.1 277.3,1413.8 277.5,1416.2 278.3,1418.6 278.4,1421 279.1,1423.4 279.5,1425.4 279.6,1427.4 280.1,1429.3 280.2,1431.3 280.7,1429 280.6,1426.7 281.5,1424.5 281.6,1422.2 282,1420.3 282.9,1418.5 283.3,1416.6 283.7,1418.8 283.8,1421.2 284.6,1423.3 284.5,1425.7 285,1427.9 285.7,1429.7 285.7,1431.7 286.3,1433.5 286.5,1431.2 287.2,1429 287.2,1426.7 287.8,1424.5 287.9,1426.6 288.3,1428.7 288.2,1430.8 288.8,1432.9 288.7,1435 289.2,1437.1 289.3,1439.2 289.7,1441.8 290.6,1444.3 290.8,1441.9 291.5,1439.6 291.5,1437.1 292.1,1434.8 292.3,1432.4 292.4,1430.2 292.9,1428.1 292.7,1425.9 293.3,1423.8 293.2,1421.6 293.5,1419.4 293.4,1421.6 294.2,1423.7 294,1426 294.6,1428.1 294.4,1430.3 294.8,1432.5 294.6,1434.7 295.1,1436.9 295.2,1434.8 295.8,1432.7 295.7,1430.6 296.3,1428.5 296.2,1426.4 296.8,1424.3 296.8,1422.2 297.3,1424.4 297.1,1426.6 297.6,1428.8 297.3,1431.1 298,1433.2 297.7,1435.5 298.3,1437.6 298.1,1439.9 298.6,1442.1 298.5,1444.3 298.8,1446.5 298.9,1444.1 299.5,1441.8 299.3,1439.4 300,1437.1 299.8,1434.7 300.2,1432.4 300.9,1430.4 301,1428.2 301.7,1426.2 301.8,1428.5 302.3,1430.7 302.3,1433 303,1435.2 303,1437.5 303.8,1435.1 303.9,1432.5 304.7,1430.1 304.8,1432.2 305.5,1434.2 305.6,1436.2 306.2,1438.2 306.4,1440.3 307,1438.1 306.9,1435.8 307.7,1433.6 307.8,1431.3 308.1,1433.5 307.8,1435.8 308.5,1438 308.2,1440.3 308.6,1442.5 308.4,1444.8 309,1447 308.9,1449.3 309.3,1447.2 309.2,1445.1 310,1443.1 309.9,1440.9 310.5,1438.9 310.3,1436.7 310.9,1434.7 313,1433.5 313.7,1431.7 313.9,1429.7 314.6,1427.9 315.2,1425.5 315.4,1423 316,1420.6 316.2,1423 316.9,1425.3 316.8,1427.7 317.4,1430 317.5,1432.4 317.7,1434.8 318.4,1437.2 318.2,1439.6 318.8,1442 319.1,1439.6 319.6,1437.3 319.7,1434.8 320.3,1432.5 320.5,1430.1 320.5,1427.9 321,1425.8 320.9,1423.6 321.5,1421.4 321.1,1419.2 321.7,1417.1 321.7,1414.9 322.1,1417.1 321.8,1419.3 322.4,1421.4 322.2,1423.7 322.7,1425.8 322.6,1428 323,1430.2 323.1,1432.4 323.3,1434.7 324.1,1436.9 324.1,1439.2 324.7,1441.4 324.6,1439 325.3,1436.8 325.1,1434.4 325.9,1432.1 325.7,1429.8 326.3,1427.5 326.1,1425.1 326.5,1422.8 326.4,1425.1 327,1427.3 326.8,1429.6 327.2,1431.8 326.9,1434.1 327.5,1436.3 327.2,1438.6 327.6,1440.8 327.5,1443.1 328,1445.3 327.9,1447.6 328.4,1445.4 328.1,1443.2 328.7,1441.1 328.5,1438.8 329.1,1436.7 329,1434.5 329.7,1432.3 329.6,1430.1 329.9,1427.8 330.8,1425.7 330.9,1423.3 331.5,1421.1 331.5,1423.3 331.8,1425.5 331.6,1427.7 332.1,1429.8 331.8,1432 332.3,1434.2 332.1,1436.4 332.5,1438.5 332.1,1440.7 332.7,1442.9 332.4,1445.1 332.9,1447.3 332.6,1449.4 333.1,1451.6 333,1453.8 333.4,1451.8 333.2,1449.6 333.9,1447.6 333.7,1445.5 334.4,1443.5 334.4,1441.4 334.8,1439.5 335.8,1437.7 336,1435.8 336.3,1433.3 337.2,1431 337.5,1428.5 337.9,1430.6 337.8,1432.8 338.4,1434.9 338.4,1437.1 338.9,1439.2 338.9,1436.9 339.5,1434.7 339.3,1432.4 339.7,1430.2 339.5,1427.9 340.1,1425.6 339.9,1423.3 340.3,1421.1 341,1419.1 341,1416.9 341.6,1414.9 342,1417.4 342.8,1419.7 343.1,1422.2 343,1424.4 343.6,1426.5 343.4,1428.6 344,1430.7 343.8,1432.9 344.2,1435 344,1437.2 344.7,1439.2 344.6,1441.4 345,1444 345.7,1446.5 345.9,1444.3 346.7,1442.3 346.8,1440.1 347.3,1438 347.8,1436.1 347.9,1434 348.6,1432.1 348.8,1430.1 349.3,1432.3 349.2,1434.6 349.8,1436.9 349.8,1439.2 350.2,1441.4 350.2,1439.1 350.9,1436.9 350.8,1434.6 351.5,1432.4 351.3,1430.1 351.8,1427.9 352.4,1425.5 352.6,1423.1 353.3,1420.7 353.6,1418.3 355.5,1418.9 355.9,1421.1 355.7,1423.4 356.2,1425.7 356,1427.9 356.5,1430.2 356.3,1432.5 356.7,1434.7 357,1436.8 356.7,1439 357.2,1441.2 356.8,1443.3 357.4,1445.5 357.1,1447.6 357.7,1449.8 357.3,1451.9 357.8,1454.1 357.5,1456.3 357.8,1458.4 357.9,1456.4 358.8,1454.5 358.8,1452.5 359.3,1450.5 359.8,1448.3 359.8,1445.9 360.5,1443.7 360.6,1441.4 360.9,1443.5 360.7,1445.6 361.5,1447.6 361.2,1449.8 361.8,1451.8 361.6,1454 362.3,1456 361.9,1458.1 362.5,1460.2 362.6,1462.3 363.1,1460 362.8,1457.6 363.5,1455.3 363.4,1452.9 363.9,1450.6 364,1448.2 364.1,1445.8 364.8,1443.5 364.6,1441.1 365.3,1438.8 365.3,1436.4 366,1438.8 366,1441.3 366.8,1443.7 368.3,1440.9 368.9,1443.3 368.7,1445.7 369.4,1448.1 369.6,1450.5 370.1,1448.2 369.8,1445.8 370.5,1443.5 370.4,1441.1 371,1438.8 370.9,1436.4 371.3,1434.1 371.4,1436.4 372.2,1438.6 372.2,1440.9 372.8,1443.1 372.8,1440.7 373.6,1438.4 373.4,1436 374.1,1433.7 374.2,1431.3 374.6,1433.5 374.3,1435.8 375,1438 374.6,1440.3 375.3,1442.5 375,1444.8 375.5,1447 375.5,1449.3 375.8,1447.2 375.5,1445 376,1442.9 375.8,1440.8 376.5,1438.7 376.1,1436.5 376.7,1434.5 376.5,1432.3 376.9,1430.2 376.7,1428.1 377.3,1426 377,1423.8 377.3,1421.7 377.5,1424.1 378.1,1426.5 378.1,1428.9 378.7,1431.3 379.7,1433.5 380.4,1435.8 380.5,1438.1 381,1440.3 380.8,1442.6 381.5,1444.8 381.4,1447.1 381.8,1449.3 382.9,1451.5 383.4,1453.9 384.3,1456.1 384.2,1453.8 384.6,1451.6 384.4,1449.3 384.8,1447.1 384.5,1444.8 384.9,1442.6 384.7,1440.3 385.1,1438 384.7,1435.8 385.3,1433.5 384.9,1431.3 385.5,1429 385.1,1426.8 385.4,1424.5 385.5,1426.8 386.3,1429 386.2,1431.3 386.8,1433.5 387.3,1435.5 387.3,1437.6 387.8,1439.6 387.8,1441.7 388.3,1443.7 388.5,1441.4 389.1,1439.2 389.1,1436.9 389.9,1434.7 390,1432.4 390.4,1434.5 390.3,1436.6 391,1438.6 390.8,1440.7 391.6,1442.7 391.6,1444.8 392.2,1442.6 392,1440.2 392.8,1438.1 392.7,1435.7 393.3,1433.5 393.6,1435.8 394.4,1438 394.4,1440.4 395,1442.6 395,1440.4 395.6,1438.3 395.5,1436.1 396.3,1434 396.1,1431.8 396.5,1429.6 396.5,1432 397.2,1434.3 397.2,1436.7 397.8,1439 397.9,1441.4 398.4,1443.7 399.2,1445.9 399.2,1443.7 399.7,1441.6 399.6,1439.4 400.1,1437.3 399.9,1435.1 400.5,1433 400.3,1430.8 400.9,1428.7 400.7,1426.5 401.3,1424.4 401.2,1422.2 401.4,1424.3 401.4,1426.5 401.9,1428.6 401.6,1430.8 402.1,1433 401.9,1435.1 402.5,1437.3 402.2,1439.4 402.8,1441.6 402.6,1443.8 402.9,1445.9 403,1443.6 403.5,1441.4 403.4,1439.1 404.1,1436.9 403.8,1434.6 404.5,1432.4 404.6,1430.1 405.1,1428 406.3,1426 406.9,1423.9 407.8,1425.9 408,1428.1 408.9,1430.1 409.3,1432.4 409.2,1434.6 409.7,1436.9 409.6,1439.2 410.3,1441.4 410.3,1443.7 410.8,1441.6 410.5,1439.5 411.2,1437.4 411,1435.2 411.6,1433.2 411.3,1431 412,1428.9 412,1426.8 412.4,1428.9 412.1,1431 412.8,1433.1 412.6,1435.2 413.1,1437.3 413.1,1439.4 413.5,1441.5 413.4,1443.6 414,1445.7 413.8,1447.8 414.2,1449.9 414,1447.7 414.6,1445.5 414.4,1443.2 414.8,1441.1 414.6,1438.8 415.1,1436.6 414.7,1434.4 415.3,1432.2 414.9,1430 415.4,1427.8 415.2,1425.5 415.6,1423.3 415.3,1421.1 415.7,1418.9 416.2,1416.8 416,1414.7 416.4,1412.7 416.3,1410.6 416.8,1408.5 416.8,1406.4 417.2,1408.6 417.1,1411 417.8,1413.2 417.7,1415.5 418.3,1417.7 418.4,1420 418.8,1418 418.7,1415.8 419.4,1413.8 419.1,1411.7 419.9,1409.7 419.9,1407.6 420.4,1409.8 420.1,1412.1 420.8,1414.3 420.6,1416.6 421.2,1418.8 421.3,1421.1 421.3,1423.4 421.9,1425.6 421.7,1427.9 422.1,1430.1 422,1432.4 422.5,1434.6 422.4,1436.9 422.9,1439.1 422.8,1441.4 423.4,1443.6 423.3,1445.9 423.7,1443.7 423.6,1441.4 424.1,1439.1 423.9,1436.9 424.5,1434.6 424.4,1432.3 424.7,1430.1 425.4,1427.7 425.5,1425.2 426.1,1422.8 426.2,1425 427.1,1427 426.8,1429.3 427.7,1431.3 427.8,1433.5 428.4,1431.3 428.5,1429 429.2,1426.8 429.5,1424.5 429.9,1426.7 429.8,1428.9 430.3,1431.1 430.1,1433.4 430.8,1435.5 430.7,1437.8 431.3,1439.9 431.1,1442.2 431.6,1444.4 431.6,1446.6 431.9,1448.8 431.7,1446.5 432.3,1444.3 431.8,1442 432.3,1439.8 432,1437.5 432.5,1435.3 432.2,1433 432.7,1430.7 432.2,1428.5 432.7,1426.2 432.4,1423.9 433,1421.7 432.7,1419.4 433.1,1417.2 432.8,1414.9 433.2,1412.7 433.1,1410.4 433.4,1412.6 433.1,1414.8 433.8,1417 433.3,1419.3 433.9,1421.4 433.7,1423.7 434.3,1425.8 433.9,1428.1 434.4,1430.3 434.1,1432.5 434.5,1434.7 434.4,1432.4 435.1,1430.2 434.9,1427.9 435.4,1425.7 435.2,1423.4 435.7,1421.2 435.7,1418.9 436,1421.1 435.7,1423.4 436.3,1425.7 436.2,1427.9 436.7,1430.2 436.5,1432.4 436.9,1434.7 436.8,1437 437.1,1439.2 437.4,1441.4 437.3,1443.6 437.9,1445.7 437.8,1447.9 438.3,1450 438.3,1452.2 438.7,1450.1 438.3,1448 438.8,1445.9 438.5,1443.8 439.1,1441.8 439,1439.7 439.3,1437.6 439.1,1435.5 439.8,1433.4 439.6,1431.3 439.9,1433.4 439.8,1435.5 440.3,1437.5 440.2,1439.7 440.7,1441.7 440.7,1443.8 441,1445.9 441.1,1443.9 441.8,1441.9 441.6,1439.8 442.3,1437.8 442.4,1435.8 443.1,1438 443.6,1440.3" fill="none" stroke="#808080" stroke-width="3.5" stroke-linejoin="round" stroke-linecap="round"/>
<text font-size="30.8" text-anchor="start" transform="translate(62 1113.1) scale(1 1.035)" fill="#1f1c1d">WT</text>
<text font-size="30.8" text-anchor="start" transform="translate(64.3 1303.5) scale(1 1.035)" fill="#1f1c1d">+CLB, STP</text>
<text font-size="30.8" text-anchor="start" transform="translate(457.6 1179) scale(1 1.035)" fill="#1f1c1d">L</text>
<text font-size="30.8" text-anchor="start" transform="translate(457.6 1260.8) scale(1 1.035)" fill="#1f1c1d">R</text>
<text font-size="30.8" text-anchor="start" transform="translate(457.6 1367.9) scale(1 1.035)" fill="#1f1c1d">L</text>
<text font-size="30.8" text-anchor="start" transform="translate(457.6 1434.2) scale(1 1.035)" fill="#1f1c1d">R</text>
<text font-size="30.8" text-anchor="middle" transform="translate(38.6 1431.5) rotate(-90) scale(1 1.035)" fill="#1f1c1d">2 mV</text>
<line x1="50.4" y1="1415.3" x2="50.4" y2="1444" stroke="#444" stroke-width="2.8" stroke-linecap="butt"/>
<line x1="365.5" y1="1471" x2="443.8" y2="1471" stroke="#444" stroke-width="2.8" stroke-linecap="butt"/>
<text font-size="30.8" text-anchor="middle" transform="translate(406.6 1500.2) scale(1 1.035)" fill="#1f1c1d">1 s</text>
</g>
<g>
<text font-size="37.6" text-anchor="start" font-weight="bold" transform="translate(510 1088.9) scale(1 1.04)" fill="#000">J</text>
<line x1="640.7" y1="1270.6" x2="695.7" y2="1289.1" stroke="#a3a3a3" stroke-width="2.3" stroke-linecap="round" stroke-dasharray="0.1 4.7"/>
<line x1="640.7" y1="1279.5" x2="695.7" y2="1358.5" stroke="#a3a3a3" stroke-width="2.3" stroke-linecap="round" stroke-dasharray="0.1 4.7"/>
<line x1="640.7" y1="1295.9" x2="695.7" y2="1252.4" stroke="#a3a3a3" stroke-width="2.3" stroke-linecap="round" stroke-dasharray="0.1 4.7"/>
<line x1="640.7" y1="1310.8" x2="695.7" y2="1319.7" stroke="#a3a3a3" stroke-width="2.3" stroke-linecap="round" stroke-dasharray="0.1 4.7"/>
<line x1="640.7" y1="1334.5" x2="695.7" y2="1361.4" stroke="#a3a3a3" stroke-width="2.3" stroke-linecap="round" stroke-dasharray="0.1 4.7"/>
<circle cx="695.7" cy="1289.1" r="4.6" fill="#bcbcbc"/>
<circle cx="695.7" cy="1358.5" r="4.6" fill="#bcbcbc"/>
<circle cx="695.7" cy="1252.4" r="4.6" fill="#bcbcbc"/>
<circle cx="695.7" cy="1319.7" r="4.6" fill="#bcbcbc"/>
<circle cx="695.7" cy="1361.4" r="4.6" fill="#bcbcbc"/>
<circle cx="640.7" cy="1270.6" r="4.6" fill="#000"/>
<circle cx="640.7" cy="1279.5" r="4.6" fill="#000"/>
<circle cx="640.7" cy="1295.9" r="4.6" fill="#000"/>
<circle cx="640.7" cy="1310.8" r="4.6" fill="#000"/>
<circle cx="640.7" cy="1334.5" r="4.6" fill="#000"/>
<line x1="605.5" y1="1180.25" x2="605.5" y2="1438.25" stroke="#000" stroke-width="2.1" stroke-linecap="butt"/>
<line x1="598.3" y1="1181.3" x2="605.5" y2="1181.3" stroke="#000" stroke-width="2.1" stroke-linecap="butt"/>
<text font-size="30.3" text-anchor="end" transform="translate(592.4 1192.2) scale(1 1.035)" fill="#000">2.0</text>
<line x1="598.3" y1="1245.28" x2="605.5" y2="1245.28" stroke="#000" stroke-width="2.1" stroke-linecap="butt"/>
<text font-size="30.3" text-anchor="end" transform="translate(592.4 1256.18) scale(1 1.035)" fill="#000">1.5</text>
<line x1="598.3" y1="1309.25" x2="605.5" y2="1309.25" stroke="#000" stroke-width="2.1" stroke-linecap="butt"/>
<text font-size="30.3" text-anchor="end" transform="translate(592.4 1320.15) scale(1 1.035)" fill="#000">1.0</text>
<line x1="598.3" y1="1373.23" x2="605.5" y2="1373.23" stroke="#000" stroke-width="2.1" stroke-linecap="butt"/>
<text font-size="30.3" text-anchor="end" transform="translate(592.4 1384.13) scale(1 1.035)" fill="#000">0.5</text>
<line x1="598.3" y1="1437.2" x2="605.5" y2="1437.2" stroke="#000" stroke-width="2.1" stroke-linecap="butt"/>
<text font-size="30.3" text-anchor="end" transform="translate(592.4 1448.1) scale(1 1.035)" fill="#000">0.0</text>
<line x1="598.3" y1="1437.2" x2="732.4" y2="1437.2" stroke="#000" stroke-width="2.1" stroke-linecap="butt"/>
<line x1="640.7" y1="1437.2" x2="640.7" y2="1444.4" stroke="#000" stroke-width="2.1" stroke-linecap="butt"/>
<line x1="695.7" y1="1437.2" x2="695.7" y2="1444.4" stroke="#000" stroke-width="2.1" stroke-linecap="butt"/>
<text font-size="29" text-anchor="middle" transform="translate(539.9 1311) rotate(-90) scale(1 1.09)" fill="#000" xml:space="preserve">Total power  (<tspan font-family='"Liberation Serif", "DejaVu Serif", serif'>μ</tspan>V<tspan font-size="20.5" dy="-10.5">2</tspan><tspan dy="10.5">/Hz)</tspan></text>
<text font-size="30.5" text-anchor="end" transform="translate(661.8 1468) rotate(-45) scale(1 1.035)" fill="#000">WT</text>
<text font-size="30.5" text-anchor="end" transform="translate(713.1 1461.8) rotate(-45) scale(1 1.035)" fill="#000">+CLB, STP</text>
</g>
<g>
<text font-size="37.6" text-anchor="start" font-weight="bold" transform="translate(775.6 1088.9) scale(1 1.04)" fill="#000">K</text>
<line x1="870.4" y1="1176.45" x2="870.4" y2="1435.74" stroke="#000" stroke-width="2.1" stroke-linecap="butt"/>
<line x1="863.2" y1="1213.5" x2="870.4" y2="1213.5" stroke="#000" stroke-width="2.1" stroke-linecap="butt"/>
<line x1="866" y1="1191.31" x2="870.4" y2="1191.31" stroke="#000" stroke-width="2.1" stroke-linecap="butt"/>
<line x1="866" y1="1178.32" x2="870.4" y2="1178.32" stroke="#000" stroke-width="2.1" stroke-linecap="butt"/>
<line x1="863.2" y1="1287.23" x2="870.4" y2="1287.23" stroke="#000" stroke-width="2.1" stroke-linecap="butt"/>
<line x1="866" y1="1265.04" x2="870.4" y2="1265.04" stroke="#000" stroke-width="2.1" stroke-linecap="butt"/>
<line x1="866" y1="1252.05" x2="870.4" y2="1252.05" stroke="#000" stroke-width="2.1" stroke-linecap="butt"/>
<line x1="866" y1="1242.84" x2="870.4" y2="1242.84" stroke="#000" stroke-width="2.1" stroke-linecap="butt"/>
<line x1="866" y1="1235.69" x2="870.4" y2="1235.69" stroke="#000" stroke-width="2.1" stroke-linecap="butt"/>
<line x1="866" y1="1229.86" x2="870.4" y2="1229.86" stroke="#000" stroke-width="2.1" stroke-linecap="butt"/>
<line x1="866" y1="1224.92" x2="870.4" y2="1224.92" stroke="#000" stroke-width="2.1" stroke-linecap="butt"/>
<line x1="866" y1="1220.65" x2="870.4" y2="1220.65" stroke="#000" stroke-width="2.1" stroke-linecap="butt"/>
<line x1="866" y1="1216.87" x2="870.4" y2="1216.87" stroke="#000" stroke-width="2.1" stroke-linecap="butt"/>
<line x1="863.2" y1="1360.96" x2="870.4" y2="1360.96" stroke="#000" stroke-width="2.1" stroke-linecap="butt"/>
<line x1="866" y1="1338.77" x2="870.4" y2="1338.77" stroke="#000" stroke-width="2.1" stroke-linecap="butt"/>
<line x1="866" y1="1325.78" x2="870.4" y2="1325.78" stroke="#000" stroke-width="2.1" stroke-linecap="butt"/>
<line x1="866" y1="1316.57" x2="870.4" y2="1316.57" stroke="#000" stroke-width="2.1" stroke-linecap="butt"/>
<line x1="866" y1="1309.42" x2="870.4" y2="1309.42" stroke="#000" stroke-width="2.1" stroke-linecap="butt"/>
<line x1="866" y1="1303.59" x2="870.4" y2="1303.59" stroke="#000" stroke-width="2.1" stroke-linecap="butt"/>
<line x1="866" y1="1298.65" x2="870.4" y2="1298.65" stroke="#000" stroke-width="2.1" stroke-linecap="butt"/>
<line x1="866" y1="1294.38" x2="870.4" y2="1294.38" stroke="#000" stroke-width="2.1" stroke-linecap="butt"/>
<line x1="866" y1="1290.6" x2="870.4" y2="1290.6" stroke="#000" stroke-width="2.1" stroke-linecap="butt"/>
<line x1="863.2" y1="1434.69" x2="870.4" y2="1434.69" stroke="#000" stroke-width="2.1" stroke-linecap="butt"/>
<line x1="866" y1="1412.5" x2="870.4" y2="1412.5" stroke="#000" stroke-width="2.1" stroke-linecap="butt"/>
<line x1="866" y1="1399.51" x2="870.4" y2="1399.51" stroke="#000" stroke-width="2.1" stroke-linecap="butt"/>
<line x1="866" y1="1390.3" x2="870.4" y2="1390.3" stroke="#000" stroke-width="2.1" stroke-linecap="butt"/>
<line x1="866" y1="1383.15" x2="870.4" y2="1383.15" stroke="#000" stroke-width="2.1" stroke-linecap="butt"/>
<line x1="866" y1="1377.32" x2="870.4" y2="1377.32" stroke="#000" stroke-width="2.1" stroke-linecap="butt"/>
<line x1="866" y1="1372.38" x2="870.4" y2="1372.38" stroke="#000" stroke-width="2.1" stroke-linecap="butt"/>
<line x1="866" y1="1368.11" x2="870.4" y2="1368.11" stroke="#000" stroke-width="2.1" stroke-linecap="butt"/>
<line x1="866" y1="1364.33" x2="870.4" y2="1364.33" stroke="#000" stroke-width="2.1" stroke-linecap="butt"/>
<line x1="866" y1="1177.5" x2="870.4" y2="1177.5" stroke="#000" stroke-width="2.1" stroke-linecap="butt"/>
<text font-size="29.8" text-anchor="start" fill="#000" transform="translate(805.5 1226.3) scale(1 1.035)">10<tspan font-size="21.5" dy="-11.6">-1</tspan></text>
<text font-size="29.8" text-anchor="start" fill="#000" transform="translate(805.5 1300.03) scale(1 1.035)">10<tspan font-size="21.5" dy="-11.6">-2</tspan></text>
<text font-size="29.8" text-anchor="start" fill="#000" transform="translate(805.5 1373.76) scale(1 1.035)">10<tspan font-size="21.5" dy="-11.6">-3</tspan></text>
<text font-size="29.8" text-anchor="start" fill="#000" transform="translate(805.5 1447.49) scale(1 1.035)">10<tspan font-size="21.5" dy="-11.6">-4</tspan></text>
<line x1="863.6" y1="1434.7" x2="1256.35" y2="1434.7" stroke="#000" stroke-width="2.1" stroke-linecap="butt"/>
<line x1="878.5" y1="1434.7" x2="878.5" y2="1441.9" stroke="#000" stroke-width="2.1" stroke-linecap="butt"/>
<line x1="935.21" y1="1434.7" x2="935.21" y2="1439.1" stroke="#000" stroke-width="2.1" stroke-linecap="butt"/>
<line x1="968.39" y1="1434.7" x2="968.39" y2="1439.1" stroke="#000" stroke-width="2.1" stroke-linecap="butt"/>
<line x1="991.93" y1="1434.7" x2="991.93" y2="1439.1" stroke="#000" stroke-width="2.1" stroke-linecap="butt"/>
<line x1="1010.19" y1="1434.7" x2="1010.19" y2="1439.1" stroke="#000" stroke-width="2.1" stroke-linecap="butt"/>
<line x1="1025.1" y1="1434.7" x2="1025.1" y2="1439.1" stroke="#000" stroke-width="2.1" stroke-linecap="butt"/>
<line x1="1037.72" y1="1434.7" x2="1037.72" y2="1439.1" stroke="#000" stroke-width="2.1" stroke-linecap="butt"/>
<line x1="1048.64" y1="1434.7" x2="1048.64" y2="1439.1" stroke="#000" stroke-width="2.1" stroke-linecap="butt"/>
<line x1="1058.28" y1="1434.7" x2="1058.28" y2="1439.1" stroke="#000" stroke-width="2.1" stroke-linecap="butt"/>
<line x1="1066.9" y1="1434.7" x2="1066.9" y2="1441.9" stroke="#000" stroke-width="2.1" stroke-linecap="butt"/>
<line x1="1123.61" y1="1434.7" x2="1123.61" y2="1439.1" stroke="#000" stroke-width="2.1" stroke-linecap="butt"/>
<line x1="1156.79" y1="1434.7" x2="1156.79" y2="1439.1" stroke="#000" stroke-width="2.1" stroke-linecap="butt"/>
<line x1="1180.33" y1="1434.7" x2="1180.33" y2="1439.1" stroke="#000" stroke-width="2.1" stroke-linecap="butt"/>
<line x1="1198.59" y1="1434.7" x2="1198.59" y2="1439.1" stroke="#000" stroke-width="2.1" stroke-linecap="butt"/>
<line x1="1213.5" y1="1434.7" x2="1213.5" y2="1439.1" stroke="#000" stroke-width="2.1" stroke-linecap="butt"/>
<line x1="1226.12" y1="1434.7" x2="1226.12" y2="1439.1" stroke="#000" stroke-width="2.1" stroke-linecap="butt"/>
<line x1="1237.04" y1="1434.7" x2="1237.04" y2="1439.1" stroke="#000" stroke-width="2.1" stroke-linecap="butt"/>
<line x1="1246.68" y1="1434.7" x2="1246.68" y2="1439.1" stroke="#000" stroke-width="2.1" stroke-linecap="butt"/>
<line x1="1255.3" y1="1434.7" x2="1255.3" y2="1441.9" stroke="#000" stroke-width="2.1" stroke-linecap="butt"/>
<text font-size="30.3" text-anchor="middle" transform="translate(878.5 1474) scale(1 1.035)" fill="#000">1</text>
<text font-size="30.3" text-anchor="middle" transform="translate(1066.9 1474) scale(1 1.035)" fill="#000">10</text>
<text font-size="30.3" text-anchor="middle" transform="translate(1255.3 1474) scale(1 1.035)" fill="#000">100</text>
<text x="963" y="1509.7" font-size="29" text-anchor="start" fill="#000">Frequency (Hz)</text>
<text font-size="29.5" text-anchor="middle" transform="translate(794.4 1308) rotate(-90) scale(1 1.09)" fill="#000">Normalized PSD</text>
<polygon points="876,1211.6 934.4,1211.8 971.6,1220 997,1221.5 1022.4,1220.5 1055.9,1239 1084.6,1260 1101.6,1275 1101.6,1287.5 1084.6,1272.5 1055.9,1251.5 1022.4,1233 997,1234 971.6,1232.5 934.4,1224.3 876,1224.1" fill="#c4c4c4"/>
<polygon points="876,1205.1 934.4,1205.1 988.5,1213.6 1000,1215.1 1022.9,1217.9 1055.9,1238.3 1055.9,1246.3 1022.9,1225.9 1000,1223.1 988.5,1221.6 934.4,1213.1 876,1213.1" fill="#6e6e6e"/>
<polygon points="1125.3,1299.5 1143.9,1316 1155.7,1325.5 1169.3,1331.5 1182.8,1342.5 1197.2,1354.5 1213.3,1369.8 1231.9,1383.3 1242.9,1391 1247.2,1387 1250.5,1397 1254.8,1430.2 1254.8,1438.2 1250.5,1405 1247.2,1395 1242.9,1399 1231.9,1391.3 1213.3,1377.8 1197.2,1362.5 1182.8,1350.5 1169.3,1339.5 1155.7,1333.5 1143.9,1324 1125.3,1307.5" fill="#b0b0b0"/>
<polyline points="876,1218 934.4,1218.2 971.6,1226.4 997,1227.9 1022.4,1226.9 1055.9,1245.4 1084.6,1266.4 1101.6,1281.4 1125.3,1303.9 1143.9,1320.4 1155.7,1329.9 1169.3,1335.9 1182.8,1346.9 1197.2,1358.9 1213.3,1374.2 1231.9,1387.7 1242.9,1395.4 1247.2,1391.4 1250.5,1401.4 1254.8,1434.6" fill="none" stroke="#8f8f8f" stroke-width="4.3" stroke-linejoin="round" stroke-linecap="butt"/>
<polyline points="876,1209.5 934.4,1209.5 988.5,1218 1000,1219.5 1022.9,1222.3 1055.9,1242.7 1084.6,1265.5 1101.6,1280.8 1125.3,1303.6 1132,1305.3 1143.9,1319.7 1155.7,1329 1169.3,1334.1 1172.1,1334.8 1175,1337 1177.8,1338.3 1180.3,1340.9 1182.8,1344.2 1185.6,1345.9 1188.5,1347.4 1191.3,1348.5 1194.2,1351.1 1197.2,1356.1 1200.2,1358.1 1203.1,1362.9 1205.6,1366.2 1208.2,1366.9 1210.8,1369.1 1213.3,1372.2 1215.8,1374.8 1218.4,1374.6 1221,1376.9 1223.5,1377.2 1226.3,1380 1229.1,1383.3 1231.9,1385.7 1234.2,1385.3 1236.4,1387.2 1238.7,1387.4 1242.9,1394.2 1247.2,1389 1250.5,1401.4 1253.1,1418.5 1254.8,1434.6" fill="none" stroke="#000" stroke-width="4.3" stroke-linejoin="round" stroke-linecap="round"/>
<line x1="882.5" y1="1358" x2="926" y2="1358" stroke="#000" stroke-width="4.8" stroke-linecap="round"/>
<text font-size="29.6" text-anchor="start" transform="translate(940.5 1369.2) scale(1 1.035)" fill="#000">WT</text>
<line x1="882.5" y1="1409.7" x2="923.5" y2="1409.7" stroke="#8c8c8c" stroke-width="4.8" stroke-linecap="round"/>
<text font-size="29.5" text-anchor="start" transform="translate(937.5 1420.4) scale(1 1.035)" fill="#000">+CLB, STP</text>
</g>
<g>
<polyline points="1366.8,1211.5 1424.4,1224.5 1458.2,1236.7 1480.5,1223.5 1514.3,1206.7 1527,1207.5 1538,1216 1550,1232 1563,1237 1578,1250 1590,1266 1603,1284 1614,1300 1622,1317 1630,1327 1640,1334 1642.5,1333.7 1645,1341.9 1647.5,1338.7 1650,1344 1652.5,1347 1655,1345.6 1657.5,1351.4 1660,1351.5 1662.5,1349.7 1665,1353.2 1667.5,1350.9 1670,1352.5 1672.5,1356 1675,1354.4 1677.5,1359.2 1680,1359 1682.7,1360 1685.3,1364.1 1688,1365 1691,1363.1 1694,1367.8 1697,1366.5 1698.8,1362.6 1700.6,1373.6 1702.4,1364.7 1704.2,1371.7 1706,1370 1707.7,1363.9 1709.3,1374.7 1711,1364.2 1712.7,1374.5 1714.3,1362.3 1716,1369 1717.7,1373.5 1719.3,1364.3 1721,1374.7 1722.7,1366.4 1724.3,1377.3 1726,1372.5 1727.8,1367 1729.6,1371.2 1731.4,1362.4 1733.2,1370.5 1735,1363 1737,1354.7 1739,1360.6 1741,1353 1743.2,1345.3 1745.4,1348" fill="none" stroke="#b5b5b5" stroke-width="1.2" stroke-linejoin="round" stroke-linecap="butt" stroke-dasharray="5 1.7"/>
<polyline points="1366.8,1225 1424.4,1238.5 1458.2,1250.6 1480.5,1243.7 1500,1239 1522.5,1238.8 1534,1246 1545.5,1273.2 1565,1276.5 1578,1289.7 1595,1312 1611,1334 1624,1357 1637,1368 1650.5,1381.6 1653,1378.7 1655.5,1383.2 1658,1378.8 1660.5,1382.5 1663,1379 1665.8,1378.9 1668.5,1383.7 1671.3,1381.4 1674,1386.2 1676.8,1384.9 1679.4,1385.7 1682.1,1391.3 1684.7,1388.5 1687.4,1395.5 1690,1395 1691.6,1391.7 1693.2,1403.3 1694.9,1391 1696.5,1401.6 1698.1,1395.3 1699.8,1407.7 1701.4,1396.2 1703,1402.9 1704.6,1406.8 1706.2,1398.6 1707.9,1408.6 1709.5,1398.9 1711.1,1406.9 1712.8,1394.5 1714.4,1403.2 1716,1400 1717.8,1396 1719.5,1403.1 1721.2,1394.5 1723,1402.9 1724.8,1392.3 1726.5,1405.1 1728.2,1394.6 1730,1398 1731.7,1403 1733.3,1392.7 1735,1396.2 1736.7,1386.9 1738.3,1396.8 1740,1383.2 1741.7,1394.8 1743.3,1380.1 1745,1385" fill="none" stroke="#b5b5b5" stroke-width="1.2" stroke-linejoin="round" stroke-linecap="butt" stroke-dasharray="5 1.7"/>
<polyline points="1366.8,1219.5 1424.4,1232.5 1458.2,1244.7 1480.5,1239.5 1514.3,1222.7 1527,1223.5 1538,1232 1550,1248 1563,1253 1578,1266 1590,1282 1603,1298 1614,1314 1622,1331 1630,1341 1640,1348 1650,1358 1652.5,1358.6 1655,1364.1 1657.5,1361.4 1660,1365.5 1662.5,1367.7 1665,1364.6 1667.5,1368.8 1670,1366.5 1672.5,1365.5 1675,1371.7 1677.5,1369.4 1680,1373 1682.7,1376.4 1685.3,1376.1 1688,1379 1691,1381.2 1694,1377.9 1697,1380.5 1698.8,1382.9 1700.6,1377.6 1702.4,1384.9 1704.2,1381 1706,1384 1708,1385.4 1710,1378.6 1712,1387.5 1714,1378.6 1716,1383 1718,1387.4 1720,1382.8 1722,1387.8 1724,1382.6 1726,1386.5 1727.8,1386.5 1729.6,1377.9 1731.4,1383.6 1733.2,1376.9 1735,1377 1737,1378 1739,1368.4 1741,1367 1743.2,1369.2 1745.4,1362" fill="none" stroke="#bdbdbd" stroke-width="4.6" stroke-linejoin="round" stroke-linecap="butt"/>
<polyline points="1366.8,1210 1424.4,1221.5 1458.2,1230 1480.5,1225.3 1514.3,1204.2 1527,1201.3 1538,1209.3 1546.5,1212.6 1556.6,1220.3 1570.2,1230.4 1582.9,1243.1 1588.8,1250.7 1594.7,1254.1 1599,1260.9 1605.7,1262.4 1609.1,1266.7 1615.9,1293.8 1621,1287.8 1634.5,1325.9 1638.7,1326.8 1641.3,1321.7 1643.8,1320 1646.4,1321.7 1649.8,1342.9 1652.3,1340.6 1654.9,1330 1657.4,1327.6 1660.3,1334.9 1663.3,1339.5 1666.2,1332.1 1669.2,1330.2 1671.8,1338.8 1674.3,1342.9 1677.7,1338.9 1681.1,1336.9 1685.3,1359.8 1688.3,1330 1689.5,1308 1690.7,1332 1692.1,1349.6 1693.8,1358.5 1695.4,1350.5 1697.1,1359.6 1698.8,1358.1 1700.5,1357.9 1702.2,1371 1703.9,1369.9 1705.6,1375.3 1707.3,1367.5 1709,1370.6 1710.7,1360.1 1712.4,1358.1 1714.1,1373.2 1715.8,1366.8 1717.5,1377 1719.2,1379.8 1720.9,1366.1 1722.5,1372.9 1724.2,1363.7 1725.9,1365.2 1727.6,1371.7 1729.3,1366.8 1731,1378.4 1732.7,1373.6 1734.4,1357.7 1736.1,1354.8 1737.8,1341.5 1739.5,1342.7 1741.2,1358 1742.9,1360.1 1744.8,1328 1746,1306 1747.2,1330" fill="none" stroke="#000" stroke-width="1.3" stroke-linejoin="round" stroke-linecap="butt" stroke-dasharray="5 1.7"/>
<polyline points="1366.8,1224.4 1424.4,1235.9 1458.2,1244.4 1480.5,1249.3 1514.3,1228.2 1527,1225.3 1538,1233.3 1546.5,1236.6 1556.6,1244.3 1570.2,1254.4 1582.9,1267.1 1588.8,1274.7 1594.7,1278.1 1599,1284.9 1605.7,1290.4 1609.1,1294.7 1615.9,1321.8 1621,1315.8 1634.5,1353.9 1638.7,1354.8 1641.3,1349.7 1643.8,1347.2 1646.4,1349.7 1649.8,1370.9 1652.3,1367.1 1654.9,1359.4 1657.4,1355.6 1660.3,1363.7 1663.3,1367.5 1666.2,1361.8 1669.2,1358.2 1671.8,1367.1 1674.3,1370.9 1677.7,1365.4 1681.1,1364.9 1685.3,1387.8 1689.5,1352.2 1692.1,1377.6 1693.8,1382 1695.4,1376.4 1697.1,1388.5 1698.8,1386.1 1700.5,1384.8 1702.2,1400.7 1703.9,1397.9 1705.6,1403.3 1707.3,1391.3 1709,1397.3 1710.7,1388.1 1712.4,1386.1 1714.1,1402.5 1715.8,1393.9 1717.5,1405 1719.2,1404.9 1720.9,1393.6 1722.5,1401.1 1724.2,1392.8 1725.9,1393.2 1727.6,1400.3 1729.3,1391.2 1731,1406.3 1732.7,1401.6 1734.4,1387 1736.1,1386.4 1737.8,1369.5 1739.5,1373.4 1741.2,1388.7 1742.9,1388.1 1745.4,1340.7" fill="none" stroke="#000" stroke-width="1.3" stroke-linejoin="round" stroke-linecap="butt" stroke-dasharray="5 1.7"/>
<polyline points="1366.8,1217.6 1424.4,1229.1 1458.2,1237.6 1480.5,1238.3 1514.3,1217.2 1527,1214.3 1538,1222.3 1546.5,1225.6 1556.6,1233.3 1570.2,1243.4 1582.9,1256.1 1588.8,1263.7 1594.7,1267.1 1599,1273.9 1605.7,1276.4 1609.1,1280.7 1615.9,1307.8 1621,1301.8 1634.5,1339.9 1638.7,1340.8 1641.3,1335.7 1646.4,1335.7 1649.8,1356.9 1657.4,1341.6 1663.3,1353.5 1669.2,1344.2 1674.3,1356.9 1681.1,1350.9 1685.3,1373.8 1689.5,1338.2 1692.1,1363.6 1693.8,1359.9 1695.4,1370.2 1697.1,1368.1 1698.8,1372.1 1700.5,1382 1702.2,1377.4 1703.9,1383.9 1705.6,1389.3 1707.3,1386.5 1709,1374.6 1710.7,1374.1 1712.4,1381.6 1714.1,1377 1715.8,1389.5 1717.5,1391 1719.2,1382.8 1720.9,1389.4 1722.5,1379.6 1724.2,1387.3 1725.9,1379.2 1727.6,1376.6 1729.3,1389.1 1731,1380.7 1732.7,1387.6 1734.4,1378.9 1736.1,1360.7 1737.8,1355.5 1739.5,1366 1741.2,1364.8 1742.9,1374.1 1745.4,1326.7" fill="none" stroke="#000" stroke-width="4.8" stroke-linejoin="round" stroke-linecap="butt"/>
<text font-size="37.6" text-anchor="start" font-weight="bold" transform="translate(1264.2 1088.9) scale(1 1.04)" fill="#000">L</text>
<line x1="1362.1" y1="1175.95" x2="1362.1" y2="1434.75" stroke="#000" stroke-width="2.1" stroke-linecap="butt"/>
<line x1="1354.9" y1="1177" x2="1362.1" y2="1177" stroke="#000" stroke-width="2.1" stroke-linecap="butt"/>
<text font-size="30.3" text-anchor="end" transform="translate(1349.8 1187.9) scale(1 1.035)" fill="#000">0.9</text>
<line x1="1354.9" y1="1219.78" x2="1362.1" y2="1219.78" stroke="#000" stroke-width="2.1" stroke-linecap="butt"/>
<text font-size="30.3" text-anchor="end" transform="translate(1349.8 1230.68) scale(1 1.035)" fill="#000">0.8</text>
<line x1="1354.9" y1="1262.57" x2="1362.1" y2="1262.57" stroke="#000" stroke-width="2.1" stroke-linecap="butt"/>
<text font-size="30.3" text-anchor="end" transform="translate(1349.8 1273.47) scale(1 1.035)" fill="#000">0.7</text>
<line x1="1354.9" y1="1305.35" x2="1362.1" y2="1305.35" stroke="#000" stroke-width="2.1" stroke-linecap="butt"/>
<text font-size="30.3" text-anchor="end" transform="translate(1349.8 1316.25) scale(1 1.035)" fill="#000">0.6</text>
<line x1="1354.9" y1="1348.13" x2="1362.1" y2="1348.13" stroke="#000" stroke-width="2.1" stroke-linecap="butt"/>
<text font-size="30.3" text-anchor="end" transform="translate(1349.8 1359.03) scale(1 1.035)" fill="#000">0.5</text>
<line x1="1354.9" y1="1390.92" x2="1362.1" y2="1390.92" stroke="#000" stroke-width="2.1" stroke-linecap="butt"/>
<text font-size="30.3" text-anchor="end" transform="translate(1349.8 1401.82) scale(1 1.035)" fill="#000">0.4</text>
<line x1="1354.9" y1="1433.7" x2="1362.1" y2="1433.7" stroke="#000" stroke-width="2.1" stroke-linecap="butt"/>
<text font-size="30.3" text-anchor="end" transform="translate(1349.8 1444.6) scale(1 1.035)" fill="#000">0.3</text>
<text font-size="29.6" text-anchor="middle" transform="translate(1293.6 1306.5) rotate(-90) scale(1 1.09)" fill="#000">Coherence</text>
<line x1="1355" y1="1433.7" x2="1747.45" y2="1433.7" stroke="#000" stroke-width="2.1" stroke-linecap="butt"/>
<line x1="1370.2" y1="1433.7" x2="1370.2" y2="1440.9" stroke="#000" stroke-width="2.1" stroke-linecap="butt"/>
<line x1="1426.82" y1="1433.7" x2="1426.82" y2="1438.1" stroke="#000" stroke-width="2.1" stroke-linecap="butt"/>
<line x1="1459.95" y1="1433.7" x2="1459.95" y2="1438.1" stroke="#000" stroke-width="2.1" stroke-linecap="butt"/>
<line x1="1483.45" y1="1433.7" x2="1483.45" y2="1438.1" stroke="#000" stroke-width="2.1" stroke-linecap="butt"/>
<line x1="1501.68" y1="1433.7" x2="1501.68" y2="1438.1" stroke="#000" stroke-width="2.1" stroke-linecap="butt"/>
<line x1="1516.57" y1="1433.7" x2="1516.57" y2="1438.1" stroke="#000" stroke-width="2.1" stroke-linecap="butt"/>
<line x1="1529.16" y1="1433.7" x2="1529.16" y2="1438.1" stroke="#000" stroke-width="2.1" stroke-linecap="butt"/>
<line x1="1540.07" y1="1433.7" x2="1540.07" y2="1438.1" stroke="#000" stroke-width="2.1" stroke-linecap="butt"/>
<line x1="1549.69" y1="1433.7" x2="1549.69" y2="1438.1" stroke="#000" stroke-width="2.1" stroke-linecap="butt"/>
<line x1="1558.3" y1="1433.7" x2="1558.3" y2="1440.9" stroke="#000" stroke-width="2.1" stroke-linecap="butt"/>
<line x1="1614.92" y1="1433.7" x2="1614.92" y2="1438.1" stroke="#000" stroke-width="2.1" stroke-linecap="butt"/>
<line x1="1648.05" y1="1433.7" x2="1648.05" y2="1438.1" stroke="#000" stroke-width="2.1" stroke-linecap="butt"/>
<line x1="1671.55" y1="1433.7" x2="1671.55" y2="1438.1" stroke="#000" stroke-width="2.1" stroke-linecap="butt"/>
<line x1="1689.78" y1="1433.7" x2="1689.78" y2="1438.1" stroke="#000" stroke-width="2.1" stroke-linecap="butt"/>
<line x1="1704.67" y1="1433.7" x2="1704.67" y2="1438.1" stroke="#000" stroke-width="2.1" stroke-linecap="butt"/>
<line x1="1717.26" y1="1433.7" x2="1717.26" y2="1438.1" stroke="#000" stroke-width="2.1" stroke-linecap="butt"/>
<line x1="1728.17" y1="1433.7" x2="1728.17" y2="1438.1" stroke="#000" stroke-width="2.1" stroke-linecap="butt"/>
<line x1="1737.79" y1="1433.7" x2="1737.79" y2="1438.1" stroke="#000" stroke-width="2.1" stroke-linecap="butt"/>
<line x1="1746.4" y1="1433.7" x2="1746.4" y2="1440.9" stroke="#000" stroke-width="2.1" stroke-linecap="butt"/>
<text font-size="30.3" text-anchor="middle" transform="translate(1370.2 1472.6) scale(1 1.035)" fill="#000">1</text>
<text font-size="30.3" text-anchor="middle" transform="translate(1558.3 1472.6) scale(1 1.035)" fill="#000">10</text>
<text font-size="30.3" text-anchor="middle" transform="translate(1746.4 1472.6) scale(1 1.035)" fill="#000">100</text>
<text x="1454.8" y="1510.4" font-size="29" text-anchor="start" fill="#000">Frequency (Hz)</text>
</g>
</svg>
</body>
</html>
